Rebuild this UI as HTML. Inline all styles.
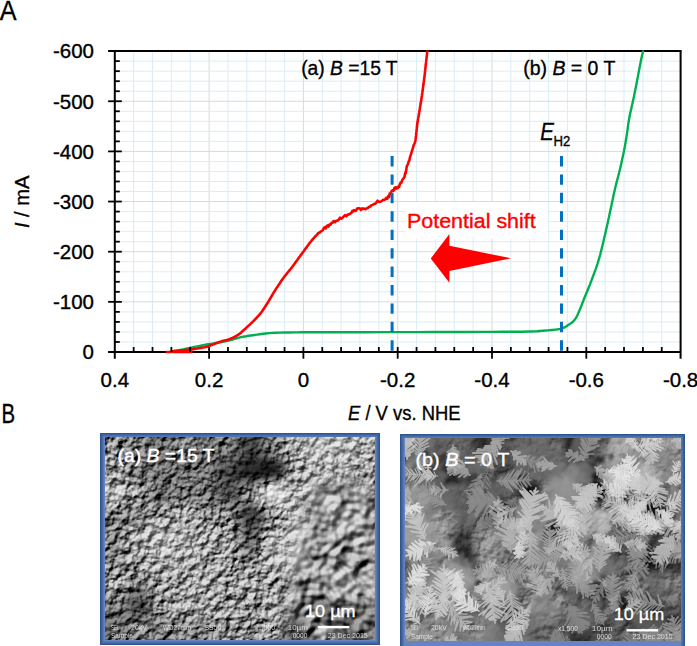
<!DOCTYPE html>
<html><head><meta charset="utf-8"><style>
html,body{margin:0;padding:0;background:#fff;}
body{width:697px;height:646px;position:relative;overflow:hidden;font-family:"Liberation Sans",sans-serif;}
svg text{font-family:"Liberation Sans",sans-serif;}
</style></head><body>
<svg width="697" height="646" viewBox="0 0 697 646" style="position:absolute;left:0;top:0">
<g><line x1="133.66" y1="51.10" x2="133.66" y2="352.00" stroke="#DAEDF6" stroke-width="1"/><line x1="152.52" y1="51.10" x2="152.52" y2="352.00" stroke="#DAEDF6" stroke-width="1"/><line x1="171.38" y1="51.10" x2="171.38" y2="352.00" stroke="#DAEDF6" stroke-width="1"/><line x1="190.24" y1="51.10" x2="190.24" y2="352.00" stroke="#DAEDF6" stroke-width="1"/><line x1="209.10" y1="51.10" x2="209.10" y2="352.00" stroke="#D9D9D9" stroke-width="1"/><line x1="227.96" y1="51.10" x2="227.96" y2="352.00" stroke="#DAEDF6" stroke-width="1"/><line x1="246.82" y1="51.10" x2="246.82" y2="352.00" stroke="#DAEDF6" stroke-width="1"/><line x1="265.68" y1="51.10" x2="265.68" y2="352.00" stroke="#DAEDF6" stroke-width="1"/><line x1="284.54" y1="51.10" x2="284.54" y2="352.00" stroke="#DAEDF6" stroke-width="1"/><line x1="303.40" y1="51.10" x2="303.40" y2="352.00" stroke="#D9D9D9" stroke-width="1"/><line x1="322.26" y1="51.10" x2="322.26" y2="352.00" stroke="#DAEDF6" stroke-width="1"/><line x1="341.12" y1="51.10" x2="341.12" y2="352.00" stroke="#DAEDF6" stroke-width="1"/><line x1="359.98" y1="51.10" x2="359.98" y2="352.00" stroke="#DAEDF6" stroke-width="1"/><line x1="378.84" y1="51.10" x2="378.84" y2="352.00" stroke="#DAEDF6" stroke-width="1"/><line x1="397.70" y1="51.10" x2="397.70" y2="352.00" stroke="#D9D9D9" stroke-width="1"/><line x1="416.56" y1="51.10" x2="416.56" y2="352.00" stroke="#DAEDF6" stroke-width="1"/><line x1="435.42" y1="51.10" x2="435.42" y2="352.00" stroke="#DAEDF6" stroke-width="1"/><line x1="454.28" y1="51.10" x2="454.28" y2="352.00" stroke="#DAEDF6" stroke-width="1"/><line x1="473.14" y1="51.10" x2="473.14" y2="352.00" stroke="#DAEDF6" stroke-width="1"/><line x1="492.00" y1="51.10" x2="492.00" y2="352.00" stroke="#D9D9D9" stroke-width="1"/><line x1="510.86" y1="51.10" x2="510.86" y2="352.00" stroke="#DAEDF6" stroke-width="1"/><line x1="529.72" y1="51.10" x2="529.72" y2="352.00" stroke="#DAEDF6" stroke-width="1"/><line x1="548.58" y1="51.10" x2="548.58" y2="352.00" stroke="#DAEDF6" stroke-width="1"/><line x1="567.44" y1="51.10" x2="567.44" y2="352.00" stroke="#DAEDF6" stroke-width="1"/><line x1="586.30" y1="51.10" x2="586.30" y2="352.00" stroke="#D9D9D9" stroke-width="1"/><line x1="605.16" y1="51.10" x2="605.16" y2="352.00" stroke="#DAEDF6" stroke-width="1"/><line x1="624.02" y1="51.10" x2="624.02" y2="352.00" stroke="#DAEDF6" stroke-width="1"/><line x1="642.88" y1="51.10" x2="642.88" y2="352.00" stroke="#DAEDF6" stroke-width="1"/><line x1="661.74" y1="51.10" x2="661.74" y2="352.00" stroke="#DAEDF6" stroke-width="1"/><line x1="114.80" y1="341.97" x2="680.60" y2="341.97" stroke="#DAEDF6" stroke-width="1"/><line x1="114.80" y1="331.94" x2="680.60" y2="331.94" stroke="#DAEDF6" stroke-width="1"/><line x1="114.80" y1="321.91" x2="680.60" y2="321.91" stroke="#DAEDF6" stroke-width="1"/><line x1="114.80" y1="311.88" x2="680.60" y2="311.88" stroke="#DAEDF6" stroke-width="1"/><line x1="114.80" y1="301.85" x2="680.60" y2="301.85" stroke="#D9D9D9" stroke-width="1"/><line x1="114.80" y1="291.82" x2="680.60" y2="291.82" stroke="#DAEDF6" stroke-width="1"/><line x1="114.80" y1="281.79" x2="680.60" y2="281.79" stroke="#DAEDF6" stroke-width="1"/><line x1="114.80" y1="271.76" x2="680.60" y2="271.76" stroke="#DAEDF6" stroke-width="1"/><line x1="114.80" y1="261.73" x2="680.60" y2="261.73" stroke="#DAEDF6" stroke-width="1"/><line x1="114.80" y1="251.70" x2="680.60" y2="251.70" stroke="#D9D9D9" stroke-width="1"/><line x1="114.80" y1="241.67" x2="680.60" y2="241.67" stroke="#DAEDF6" stroke-width="1"/><line x1="114.80" y1="231.64" x2="680.60" y2="231.64" stroke="#DAEDF6" stroke-width="1"/><line x1="114.80" y1="221.61" x2="680.60" y2="221.61" stroke="#DAEDF6" stroke-width="1"/><line x1="114.80" y1="211.58" x2="680.60" y2="211.58" stroke="#DAEDF6" stroke-width="1"/><line x1="114.80" y1="201.55" x2="680.60" y2="201.55" stroke="#D9D9D9" stroke-width="1"/><line x1="114.80" y1="191.52" x2="680.60" y2="191.52" stroke="#DAEDF6" stroke-width="1"/><line x1="114.80" y1="181.49" x2="680.60" y2="181.49" stroke="#DAEDF6" stroke-width="1"/><line x1="114.80" y1="171.46" x2="680.60" y2="171.46" stroke="#DAEDF6" stroke-width="1"/><line x1="114.80" y1="161.43" x2="680.60" y2="161.43" stroke="#DAEDF6" stroke-width="1"/><line x1="114.80" y1="151.40" x2="680.60" y2="151.40" stroke="#D9D9D9" stroke-width="1"/><line x1="114.80" y1="141.37" x2="680.60" y2="141.37" stroke="#DAEDF6" stroke-width="1"/><line x1="114.80" y1="131.34" x2="680.60" y2="131.34" stroke="#DAEDF6" stroke-width="1"/><line x1="114.80" y1="121.31" x2="680.60" y2="121.31" stroke="#DAEDF6" stroke-width="1"/><line x1="114.80" y1="111.28" x2="680.60" y2="111.28" stroke="#DAEDF6" stroke-width="1"/><line x1="114.80" y1="101.25" x2="680.60" y2="101.25" stroke="#D9D9D9" stroke-width="1"/><line x1="114.80" y1="91.22" x2="680.60" y2="91.22" stroke="#DAEDF6" stroke-width="1"/><line x1="114.80" y1="81.19" x2="680.60" y2="81.19" stroke="#DAEDF6" stroke-width="1"/><line x1="114.80" y1="71.16" x2="680.60" y2="71.16" stroke="#DAEDF6" stroke-width="1"/><line x1="114.80" y1="61.13" x2="680.60" y2="61.13" stroke="#DAEDF6" stroke-width="1"/></g>
<rect x="405.3" y="202" width="141.7" height="37" fill="#fff"/><text x="407" y="228.3" fill="#FF0000" font-size="20.5" stroke="#FF0000" stroke-width="0.35" textLength="128.7" lengthAdjust="spacingAndGlyphs">Potential shift</text><polygon points="430.8,258.4 449.4,233.9 449.4,245.8 511.1,258.3 449.4,270.9 449.4,282.7" fill="#FF0000"/>
<g><line x1="114.80" y1="51.10" x2="114.80" y2="358.70" stroke="#000" stroke-width="2.0"/><line x1="108.10" y1="352.00" x2="680.60" y2="352.00" stroke="#000" stroke-width="2.0"/><line x1="108.10" y1="51.10" x2="681.60" y2="51.10" stroke="#000" stroke-width="2.0"/><line x1="680.60" y1="51.10" x2="680.60" y2="358.70" stroke="#000" stroke-width="2.0"/></g>
<line x1="166.9" y1="352" x2="191.4" y2="352" stroke="#FF0000" stroke-width="2.6" stroke-linecap="round"/>
<defs><clipPath id="pc"><rect x="110" y="50.6" width="575" height="310"/></clipPath></defs>
<g clip-path="url(#pc)"><polyline points="171.5,351.3 172.6,351.1 174.2,350.9 176.0,350.7 178.0,350.4 180.0,350.0 181.9,349.6 183.9,349.2 186.0,348.7 188.4,348.2 191.0,347.6 194.0,347.0 197.3,346.4 200.8,345.7 204.4,345.0 208.2,344.3 212.3,343.6 216.7,342.8 221.1,342.0 225.3,341.2 228.9,340.5 231.7,339.8 234.0,339.2 236.0,338.5 238.0,337.9 240.0,337.4 242.2,336.9 244.3,336.5 246.5,336.2 248.6,335.8 250.8,335.5 253.0,335.2 255.2,334.9 257.3,334.6 259.5,334.3 261.7,334.0 263.7,333.7 265.5,333.5 267.4,333.3 269.6,333.1 272.5,332.9 276.1,332.8 280.2,332.6 284.7,332.5 289.4,332.5 294.2,332.4 298.2,332.4 301.6,332.3 305.6,332.3 311.3,332.3 320.0,332.3 332.5,332.3 348.1,332.2 365.4,332.2 383.1,332.1 400.0,332.1 416.5,332.1 433.4,332.0 450.2,332.0 465.9,332.0 480.0,331.9 492.3,331.9 503.3,331.8 513.2,331.8 522.0,331.7 530.0,331.5 537.0,331.2 542.9,330.8 547.9,330.4 552.0,330.0 555.5,329.6 558.0,329.3 559.4,329.1 560.3,328.9 560.9,328.7 561.9,328.3 563.2,327.8 564.4,327.3 565.6,326.8 566.9,326.0 568.3,325.1 569.8,324.1 571.3,323.0 572.9,321.7 574.4,320.1 576.0,317.9 577.5,315.0 579.0,311.6 580.6,307.8 582.1,303.8 583.6,300.0 585.1,296.3 586.7,292.6 588.2,288.8 589.8,284.9 591.3,280.9 592.8,276.8 594.4,272.6 596.0,268.3 597.5,263.8 598.9,259.2 600.3,254.3 601.6,249.0 602.9,243.7 604.1,238.5 605.3,233.6 606.3,229.1 607.3,224.8 608.2,220.6 609.1,216.4 610.0,212.0 611.0,207.4 612.0,202.8 613.0,198.0 614.0,193.3 615.1,188.6 616.2,183.9 617.4,179.3 618.6,174.7 619.8,170.0 620.9,165.4 621.9,160.8 622.9,156.1 623.9,151.5 624.8,146.8 625.6,142.2 626.4,137.4 627.1,132.6 627.8,127.8 628.4,123.2 629.1,119.0 629.8,115.3 630.5,112.0 631.2,108.9 631.9,105.8 632.6,102.7 633.3,99.5 634.0,96.3 634.6,93.1 635.3,89.8 636.0,86.4 636.7,82.8 637.4,79.1 638.1,75.4 638.8,71.6 639.5,67.9 640.3,64.0 641.1,59.8 642.0,55.8 642.7,52.4 643.2,50.0" fill="none" stroke="#00B050" stroke-width="2.4" stroke-linejoin="round" stroke-linecap="round"/><polyline points="172.0,351.2 173.6,351.1 174.7,351.0 175.8,350.9 177.1,350.7 178.4,350.6 179.7,350.5 181.0,350.4 182.3,350.3 183.6,350.2 184.9,350.0 186.3,349.9 187.6,349.8 189.0,349.7 190.2,349.5 191.4,349.4 193.5,349.1 195.4,348.8 197.2,348.5 199.0,348.2 200.9,347.9 202.9,347.5 204.8,347.2 206.5,346.8 207.9,346.4 209.0,346.1 210.1,345.6 211.6,345.1 213.5,344.4 214.5,343.9 215.6,343.5 216.7,343.1 217.8,342.6 218.9,342.2 220.0,341.8 221.1,341.5 222.3,341.1 223.4,340.8 224.6,340.5 225.7,340.2 226.9,339.9 228.9,339.3 230.6,338.7 232.2,338.0 233.6,337.3 235.0,336.6 236.2,336.0 237.2,335.4 238.4,334.7 240.0,333.4 241.2,332.4 242.4,331.3 243.4,330.4 244.4,329.5 245.4,328.7 246.4,327.7 247.3,326.8 248.3,325.9 249.2,325.1 250.0,324.4 250.8,323.6 251.7,322.8 252.6,321.9 253.9,320.6 255.1,319.3 256.4,318.0 257.7,316.6 259.0,315.2 260.3,313.6 261.0,312.7 261.7,311.8 262.5,310.7 263.2,309.6 264.1,308.4 264.9,307.1 265.7,305.8 266.5,304.5 267.4,303.2 268.2,301.9 269.0,300.6 269.8,299.3 270.5,298.0 271.3,296.6 272.1,295.3 272.9,293.9 273.5,292.9 274.1,292.0 274.7,291.0 275.4,289.9 276.0,288.9 276.7,287.8 277.5,286.7 278.2,285.6 278.9,284.5 279.7,283.4 280.4,282.3 281.2,281.1 281.9,280.1 282.7,279.0 283.4,278.0 284.1,277.1 284.8,276.1 285.6,275.2 286.3,274.3 287.0,273.4 287.7,272.5 288.4,271.7 289.1,270.8 289.8,269.9 290.6,269.0 291.3,268.1 292.0,267.2 292.7,266.2 293.4,265.3 294.2,264.3 294.9,263.3 295.6,262.3 296.3,261.3 297.1,260.3 297.8,259.3 298.5,258.3 299.2,257.3 300.0,256.3 300.7,255.3 301.4,254.3 302.2,253.2 302.9,252.2 303.7,251.2 304.4,250.1 305.2,249.1 305.9,248.1 306.7,247.1 307.4,246.1 308.1,245.2 308.7,244.3 309.4,243.4 310.3,242.3 311.2,241.2 311.9,240.2 312.7,239.3 313.5,238.4 314.2,237.6 315.7,236.0 317.1,234.6 318.4,232.9 319.8,232.5 320.6,231.4 321.5,231.2 322.7,230.3 323.9,228.0 324.8,227.2 325.7,228.4 326.6,226.3 327.5,225.5 328.5,226.6 329.4,224.6 330.4,224.7 331.5,223.0 332.8,222.6 333.6,221.0 334.2,221.9 335.0,222.1 336.1,220.7 337.4,220.6 338.7,219.8 340.0,217.7 341.3,218.7 342.6,217.7 343.8,216.4 345.1,215.1 346.4,216.3 347.7,214.6 349.0,214.4 350.1,214.0 351.0,212.9 351.7,212.7 352.3,210.9 353.1,211.3 354.0,210.1 355.0,211.1 356.0,210.7 357.1,208.6 358.3,208.4 359.6,208.3 360.9,209.9 362.1,208.4 363.2,209.0 364.2,208.5 365.2,209.2 366.2,208.8 367.2,208.1 368.1,207.8 369.1,206.7 370.2,206.6 371.4,205.2 372.6,205.0 373.9,204.1 375.2,203.8 376.4,202.4 377.6,200.7 378.9,201.9 380.2,201.7 381.7,201.1 383.4,199.7 385.0,199.6 386.2,197.9 387.0,199.0 387.5,198.1 387.9,197.1 388.3,196.1 388.8,197.2 389.3,196.6 389.7,193.5 390.3,194.3 391.0,192.5 391.7,190.9 392.5,190.4 393.2,190.8 393.8,190.5 394.3,188.1 394.8,189.2 395.3,187.4 395.9,188.7 396.6,187.4 397.2,188.3 397.9,188.1 398.6,186.3 399.2,186.7 399.9,184.2 400.6,182.6 401.4,182.6 402.3,179.9 403.2,178.8 403.9,177.9 404.5,177.0 404.9,174.5 405.3,172.8 405.7,173.4 406.0,170.6 406.2,170.7 406.4,169.1 406.7,166.6 407.0,165.8 407.4,165.1 407.7,164.6 408.1,163.4 408.5,162.1 408.9,160.9 409.4,160.2 409.9,157.6 410.5,155.6 411.1,153.8 411.7,151.9 412.2,150.2 412.6,148.9 412.9,147.8 413.2,146.8 413.6,145.6 414.0,144.5 414.5,143.5 415.0,142.1 415.5,140.0 415.7,138.4 415.9,136.7 416.1,135.4 416.2,134.0 416.3,132.7 416.5,131.2 416.6,129.8 416.8,128.4 416.9,127.1 417.1,125.8 417.2,124.5 417.4,122.9 417.7,121.3 417.9,119.8 418.2,118.3 418.4,116.9 418.7,115.4 418.9,114.0 419.2,112.5 419.4,111.0 419.7,109.5 419.9,108.1 420.2,106.6 420.4,105.1 420.7,103.6 420.9,102.0 421.2,100.4 421.4,99.3 421.5,98.2 421.7,97.1 421.9,95.9 422.0,94.8 422.2,93.6 422.4,92.4 422.5,91.2 422.7,90.0 422.9,88.8 423.0,87.5 423.2,86.3 423.4,85.0 423.5,83.8 423.7,82.5 423.9,81.2 424.0,79.9 424.2,78.6 424.4,77.3 424.5,75.9 424.7,74.6 424.9,73.1 425.0,71.7 425.2,70.2 425.3,68.9 425.5,67.6 425.6,66.3 425.8,65.0 425.9,63.8 426.0,62.6 426.2,61.4 426.3,60.3 426.4,59.1 426.6,57.8 426.7,56.4 426.9,55.1 427.0,53.7 427.1,52.5 427.3,51.2 427.4,50.0" fill="none" stroke="#FF0000" stroke-width="2.6" stroke-linejoin="round" stroke-linecap="round"/></g>
<line x1="392.1" y1="156" x2="392.1" y2="351" stroke="#0070C0" stroke-width="3" stroke-dasharray="10.4 8.03"/><line x1="561.5" y1="156" x2="561.5" y2="351" stroke="#0070C0" stroke-width="3" stroke-dasharray="10.4 8.03"/>
<g><line x1="133.66" y1="347.00" x2="133.66" y2="352.00" stroke="#000" stroke-width="1.8"/><line x1="152.52" y1="347.00" x2="152.52" y2="352.00" stroke="#000" stroke-width="1.8"/><line x1="171.38" y1="347.00" x2="171.38" y2="352.00" stroke="#000" stroke-width="1.8"/><line x1="190.24" y1="347.00" x2="190.24" y2="352.00" stroke="#000" stroke-width="1.8"/><line x1="209.10" y1="347.00" x2="209.10" y2="358.70" stroke="#000" stroke-width="1.8"/><line x1="227.96" y1="347.00" x2="227.96" y2="352.00" stroke="#000" stroke-width="1.8"/><line x1="246.82" y1="347.00" x2="246.82" y2="352.00" stroke="#000" stroke-width="1.8"/><line x1="265.68" y1="347.00" x2="265.68" y2="352.00" stroke="#000" stroke-width="1.8"/><line x1="284.54" y1="347.00" x2="284.54" y2="352.00" stroke="#000" stroke-width="1.8"/><line x1="303.40" y1="347.00" x2="303.40" y2="358.70" stroke="#000" stroke-width="1.8"/><line x1="322.26" y1="347.00" x2="322.26" y2="352.00" stroke="#000" stroke-width="1.8"/><line x1="341.12" y1="347.00" x2="341.12" y2="352.00" stroke="#000" stroke-width="1.8"/><line x1="359.98" y1="347.00" x2="359.98" y2="352.00" stroke="#000" stroke-width="1.8"/><line x1="378.84" y1="347.00" x2="378.84" y2="352.00" stroke="#000" stroke-width="1.8"/><line x1="397.70" y1="347.00" x2="397.70" y2="358.70" stroke="#000" stroke-width="1.8"/><line x1="416.56" y1="347.00" x2="416.56" y2="352.00" stroke="#000" stroke-width="1.8"/><line x1="435.42" y1="347.00" x2="435.42" y2="352.00" stroke="#000" stroke-width="1.8"/><line x1="454.28" y1="347.00" x2="454.28" y2="352.00" stroke="#000" stroke-width="1.8"/><line x1="473.14" y1="347.00" x2="473.14" y2="352.00" stroke="#000" stroke-width="1.8"/><line x1="492.00" y1="347.00" x2="492.00" y2="358.70" stroke="#000" stroke-width="1.8"/><line x1="510.86" y1="347.00" x2="510.86" y2="352.00" stroke="#000" stroke-width="1.8"/><line x1="529.72" y1="347.00" x2="529.72" y2="352.00" stroke="#000" stroke-width="1.8"/><line x1="548.58" y1="347.00" x2="548.58" y2="352.00" stroke="#000" stroke-width="1.8"/><line x1="567.44" y1="347.00" x2="567.44" y2="352.00" stroke="#000" stroke-width="1.8"/><line x1="586.30" y1="347.00" x2="586.30" y2="358.70" stroke="#000" stroke-width="1.8"/><line x1="605.16" y1="347.00" x2="605.16" y2="352.00" stroke="#000" stroke-width="1.8"/><line x1="624.02" y1="347.00" x2="624.02" y2="352.00" stroke="#000" stroke-width="1.8"/><line x1="642.88" y1="347.00" x2="642.88" y2="352.00" stroke="#000" stroke-width="1.8"/><line x1="661.74" y1="347.00" x2="661.74" y2="352.00" stroke="#000" stroke-width="1.8"/><line x1="114.80" y1="341.97" x2="119.80" y2="341.97" stroke="#000" stroke-width="1.8"/><line x1="114.80" y1="331.94" x2="119.80" y2="331.94" stroke="#000" stroke-width="1.8"/><line x1="114.80" y1="321.91" x2="119.80" y2="321.91" stroke="#000" stroke-width="1.8"/><line x1="114.80" y1="311.88" x2="119.80" y2="311.88" stroke="#000" stroke-width="1.8"/><line x1="108.10" y1="301.85" x2="121.80" y2="301.85" stroke="#000" stroke-width="1.8"/><line x1="114.80" y1="291.82" x2="119.80" y2="291.82" stroke="#000" stroke-width="1.8"/><line x1="114.80" y1="281.79" x2="119.80" y2="281.79" stroke="#000" stroke-width="1.8"/><line x1="114.80" y1="271.76" x2="119.80" y2="271.76" stroke="#000" stroke-width="1.8"/><line x1="114.80" y1="261.73" x2="119.80" y2="261.73" stroke="#000" stroke-width="1.8"/><line x1="108.10" y1="251.70" x2="121.80" y2="251.70" stroke="#000" stroke-width="1.8"/><line x1="114.80" y1="241.67" x2="119.80" y2="241.67" stroke="#000" stroke-width="1.8"/><line x1="114.80" y1="231.64" x2="119.80" y2="231.64" stroke="#000" stroke-width="1.8"/><line x1="114.80" y1="221.61" x2="119.80" y2="221.61" stroke="#000" stroke-width="1.8"/><line x1="114.80" y1="211.58" x2="119.80" y2="211.58" stroke="#000" stroke-width="1.8"/><line x1="108.10" y1="201.55" x2="121.80" y2="201.55" stroke="#000" stroke-width="1.8"/><line x1="114.80" y1="191.52" x2="119.80" y2="191.52" stroke="#000" stroke-width="1.8"/><line x1="114.80" y1="181.49" x2="119.80" y2="181.49" stroke="#000" stroke-width="1.8"/><line x1="114.80" y1="171.46" x2="119.80" y2="171.46" stroke="#000" stroke-width="1.8"/><line x1="114.80" y1="161.43" x2="119.80" y2="161.43" stroke="#000" stroke-width="1.8"/><line x1="108.10" y1="151.40" x2="121.80" y2="151.40" stroke="#000" stroke-width="1.8"/><line x1="114.80" y1="141.37" x2="119.80" y2="141.37" stroke="#000" stroke-width="1.8"/><line x1="114.80" y1="131.34" x2="119.80" y2="131.34" stroke="#000" stroke-width="1.8"/><line x1="114.80" y1="121.31" x2="119.80" y2="121.31" stroke="#000" stroke-width="1.8"/><line x1="114.80" y1="111.28" x2="119.80" y2="111.28" stroke="#000" stroke-width="1.8"/><line x1="108.10" y1="101.25" x2="121.80" y2="101.25" stroke="#000" stroke-width="1.8"/><line x1="114.80" y1="91.22" x2="119.80" y2="91.22" stroke="#000" stroke-width="1.8"/><line x1="114.80" y1="81.19" x2="119.80" y2="81.19" stroke="#000" stroke-width="1.8"/><line x1="114.80" y1="71.16" x2="119.80" y2="71.16" stroke="#000" stroke-width="1.8"/><line x1="114.80" y1="61.13" x2="119.80" y2="61.13" stroke="#000" stroke-width="1.8"/></g>
<g font-size="20.5" fill="#000" stroke="#000" stroke-width="0.35"><text x="94" y="58.40" text-anchor="end">-600</text><text x="94" y="108.55" text-anchor="end">-500</text><text x="94" y="158.70" text-anchor="end">-400</text><text x="94" y="208.85" text-anchor="end">-300</text><text x="94" y="259.00" text-anchor="end">-200</text><text x="94" y="309.15" text-anchor="end">-100</text><text x="94" y="359.30" text-anchor="end">0</text><text x="114.80" y="387.3" text-anchor="middle">0.4</text><text x="209.10" y="387.3" text-anchor="middle">0.2</text><text x="303.40" y="387.3" text-anchor="middle">0</text><text x="397.70" y="387.3" text-anchor="middle">-0.2</text><text x="492.00" y="387.3" text-anchor="middle">-0.4</text><text x="586.30" y="387.3" text-anchor="middle">-0.6</text><text x="680.60" y="387.3" text-anchor="middle">-0.8</text><text x="301.2" y="75.4" textLength="96.4" lengthAdjust="spacingAndGlyphs">(a) <tspan font-style="italic">B</tspan> =15 T</text><text x="523.3" y="75.4" textLength="92.1" lengthAdjust="spacingAndGlyphs">(b) <tspan font-style="italic">B</tspan> = 0 T</text><text x="540.2" y="140.4" font-style="italic" font-size="23" textLength="13.6" lengthAdjust="spacingAndGlyphs">E</text><text x="553.6" y="146.4" font-size="15" textLength="16.8" lengthAdjust="spacingAndGlyphs">H2</text><text x="348" y="419.8" textLength="112.5" lengthAdjust="spacingAndGlyphs"><tspan font-style="italic">E</tspan> / V vs. NHE</text><text transform="translate(29.4,228.1) rotate(-90)" textLength="52.6" lengthAdjust="spacingAndGlyphs"><tspan font-style="italic">I</tspan> / mA</text><text x="-0.3" y="19.7" font-size="27.5" textLength="16.8" lengthAdjust="spacingAndGlyphs">A</text><text x="1.4" y="422.6" font-size="28.5" textLength="13.6" lengthAdjust="spacingAndGlyphs">B</text></g>
</svg>
<div style="position:absolute;left:99.7px;top:432.9px;width:280px;height:211.8px;background:#6484C2;box-shadow:inset 0 0 0 1.3px #2F5590,inset 0 0 0 2.6px #42659E,inset 0 0 0 3.9px #5576B2;"></div>
<svg style="position:absolute;left:105px;top:437.4px" width="270.2" height="202.3" viewBox="0 0 270.2 202.3">
<defs><filter id="txa" x="0" y="0" width="100%" height="100%" color-interpolation-filters="sRGB"><feGaussianBlur in="SourceGraphic" stdDeviation="6" result="b"/><feTurbulence type="fractalNoise" baseFrequency="0.13" numOctaves="3" seed="1" result="t"/><feDiffuseLighting in="t" surfaceScale="4" diffuseConstant="1.1" lighting-color="#fff" result="l"><feDistantLight azimuth="235" elevation="40"/></feDiffuseLighting><feComponentTransfer in="l" result="g"><feFuncR type="linear" slope="0.9" intercept="-0.040"/><feFuncG type="linear" slope="0.9" intercept="-0.040"/><feFuncB type="linear" slope="0.9" intercept="-0.040"/><feFuncA type="linear" slope="0" intercept="1"/></feComponentTransfer><feBlend in="g" in2="b" mode="overlay"/></filter><filter id="txa2" x="0" y="0" width="100%" height="100%" color-interpolation-filters="sRGB"><feGaussianBlur in="SourceGraphic" stdDeviation="6" result="b"/><feTurbulence type="fractalNoise" baseFrequency="0.075" numOctaves="2" seed="3" result="t"/><feDiffuseLighting in="t" surfaceScale="7" diffuseConstant="1.1" lighting-color="#fff" result="l"><feDistantLight azimuth="235" elevation="40"/></feDiffuseLighting><feComponentTransfer in="l" result="g"><feFuncR type="linear" slope="0.85" intercept="-0.010"/><feFuncG type="linear" slope="0.85" intercept="-0.010"/><feFuncB type="linear" slope="0.85" intercept="-0.010"/><feFuncA type="linear" slope="0" intercept="1"/></feComponentTransfer><feBlend in="g" in2="b" mode="overlay"/></filter><filter id="mbl" x="-20%" y="-20%" width="140%" height="140%"><feGaussianBlur stdDeviation="8"/></filter><mask id="mR" maskUnits="userSpaceOnUse" x="0" y="0" width="280" height="210"><path d="M205,50 C230,40 262,45 275,60 L275,210 L190,210 C180,170 185,120 200,90 Z" fill="#fff" filter="url(#mbl)"/></mask></defs>
<g filter="url(#txa)"><rect x="-45.03" y="-44.96" width="23.12" height="23.08" fill="rgb(118,118,118)"/><rect x="-22.52" y="-44.96" width="23.12" height="23.08" fill="rgb(118,118,118)"/><rect x="0.00" y="-44.96" width="23.12" height="23.08" fill="rgb(118,118,118)"/><rect x="22.52" y="-44.96" width="23.12" height="23.08" fill="rgb(104,104,104)"/><rect x="45.03" y="-44.96" width="23.12" height="23.08" fill="rgb(88,88,88)"/><rect x="67.55" y="-44.96" width="23.12" height="23.08" fill="rgb(106,106,106)"/><rect x="90.07" y="-44.96" width="23.12" height="23.08" fill="rgb(93,93,93)"/><rect x="112.58" y="-44.96" width="23.12" height="23.08" fill="rgb(95,95,95)"/><rect x="135.10" y="-44.96" width="23.12" height="23.08" fill="rgb(52,52,52)"/><rect x="157.62" y="-44.96" width="23.12" height="23.08" fill="rgb(103,103,103)"/><rect x="180.13" y="-44.96" width="23.12" height="23.08" fill="rgb(152,152,152)"/><rect x="202.65" y="-44.96" width="23.12" height="23.08" fill="rgb(176,176,176)"/><rect x="225.17" y="-44.96" width="23.12" height="23.08" fill="rgb(173,173,173)"/><rect x="247.68" y="-44.96" width="23.12" height="23.08" fill="rgb(155,155,155)"/><rect x="270.20" y="-44.96" width="23.12" height="23.08" fill="rgb(155,155,155)"/><rect x="292.72" y="-44.96" width="23.12" height="23.08" fill="rgb(155,155,155)"/><rect x="-45.03" y="-22.48" width="23.12" height="23.08" fill="rgb(118,118,118)"/><rect x="-22.52" y="-22.48" width="23.12" height="23.08" fill="rgb(118,118,118)"/><rect x="0.00" y="-22.48" width="23.12" height="23.08" fill="rgb(118,118,118)"/><rect x="22.52" y="-22.48" width="23.12" height="23.08" fill="rgb(104,104,104)"/><rect x="45.03" y="-22.48" width="23.12" height="23.08" fill="rgb(88,88,88)"/><rect x="67.55" y="-22.48" width="23.12" height="23.08" fill="rgb(106,106,106)"/><rect x="90.07" y="-22.48" width="23.12" height="23.08" fill="rgb(93,93,93)"/><rect x="112.58" y="-22.48" width="23.12" height="23.08" fill="rgb(95,95,95)"/><rect x="135.10" y="-22.48" width="23.12" height="23.08" fill="rgb(52,52,52)"/><rect x="157.62" y="-22.48" width="23.12" height="23.08" fill="rgb(103,103,103)"/><rect x="180.13" y="-22.48" width="23.12" height="23.08" fill="rgb(152,152,152)"/><rect x="202.65" y="-22.48" width="23.12" height="23.08" fill="rgb(176,176,176)"/><rect x="225.17" y="-22.48" width="23.12" height="23.08" fill="rgb(173,173,173)"/><rect x="247.68" y="-22.48" width="23.12" height="23.08" fill="rgb(155,155,155)"/><rect x="270.20" y="-22.48" width="23.12" height="23.08" fill="rgb(155,155,155)"/><rect x="292.72" y="-22.48" width="23.12" height="23.08" fill="rgb(155,155,155)"/><rect x="-45.03" y="0.00" width="23.12" height="23.08" fill="rgb(118,118,118)"/><rect x="-22.52" y="0.00" width="23.12" height="23.08" fill="rgb(118,118,118)"/><rect x="0.00" y="0.00" width="23.12" height="23.08" fill="rgb(118,118,118)"/><rect x="22.52" y="0.00" width="23.12" height="23.08" fill="rgb(104,104,104)"/><rect x="45.03" y="0.00" width="23.12" height="23.08" fill="rgb(88,88,88)"/><rect x="67.55" y="0.00" width="23.12" height="23.08" fill="rgb(106,106,106)"/><rect x="90.07" y="0.00" width="23.12" height="23.08" fill="rgb(93,93,93)"/><rect x="112.58" y="0.00" width="23.12" height="23.08" fill="rgb(95,95,95)"/><rect x="135.10" y="0.00" width="23.12" height="23.08" fill="rgb(52,52,52)"/><rect x="157.62" y="0.00" width="23.12" height="23.08" fill="rgb(103,103,103)"/><rect x="180.13" y="0.00" width="23.12" height="23.08" fill="rgb(152,152,152)"/><rect x="202.65" y="0.00" width="23.12" height="23.08" fill="rgb(176,176,176)"/><rect x="225.17" y="0.00" width="23.12" height="23.08" fill="rgb(173,173,173)"/><rect x="247.68" y="0.00" width="23.12" height="23.08" fill="rgb(155,155,155)"/><rect x="270.20" y="0.00" width="23.12" height="23.08" fill="rgb(155,155,155)"/><rect x="292.72" y="0.00" width="23.12" height="23.08" fill="rgb(155,155,155)"/><rect x="-45.03" y="22.48" width="23.12" height="23.08" fill="rgb(132,132,132)"/><rect x="-22.52" y="22.48" width="23.12" height="23.08" fill="rgb(132,132,132)"/><rect x="0.00" y="22.48" width="23.12" height="23.08" fill="rgb(132,132,132)"/><rect x="22.52" y="22.48" width="23.12" height="23.08" fill="rgb(97,97,97)"/><rect x="45.03" y="22.48" width="23.12" height="23.08" fill="rgb(96,96,96)"/><rect x="67.55" y="22.48" width="23.12" height="23.08" fill="rgb(92,92,92)"/><rect x="90.07" y="22.48" width="23.12" height="23.08" fill="rgb(92,92,92)"/><rect x="112.58" y="22.48" width="23.12" height="23.08" fill="rgb(56,56,56)"/><rect x="135.10" y="22.48" width="23.12" height="23.08" fill="rgb(26,26,26)"/><rect x="157.62" y="22.48" width="23.12" height="23.08" fill="rgb(16,16,16)"/><rect x="180.13" y="22.48" width="23.12" height="23.08" fill="rgb(139,139,139)"/><rect x="202.65" y="22.48" width="23.12" height="23.08" fill="rgb(162,162,162)"/><rect x="225.17" y="22.48" width="23.12" height="23.08" fill="rgb(161,161,161)"/><rect x="247.68" y="22.48" width="23.12" height="23.08" fill="rgb(147,147,147)"/><rect x="270.20" y="22.48" width="23.12" height="23.08" fill="rgb(147,147,147)"/><rect x="292.72" y="22.48" width="23.12" height="23.08" fill="rgb(147,147,147)"/><rect x="-45.03" y="44.96" width="23.12" height="23.08" fill="rgb(169,169,169)"/><rect x="-22.52" y="44.96" width="23.12" height="23.08" fill="rgb(169,169,169)"/><rect x="0.00" y="44.96" width="23.12" height="23.08" fill="rgb(169,169,169)"/><rect x="22.52" y="44.96" width="23.12" height="23.08" fill="rgb(124,124,124)"/><rect x="45.03" y="44.96" width="23.12" height="23.08" fill="rgb(87,87,87)"/><rect x="67.55" y="44.96" width="23.12" height="23.08" fill="rgb(99,99,99)"/><rect x="90.07" y="44.96" width="23.12" height="23.08" fill="rgb(97,97,97)"/><rect x="112.58" y="44.96" width="23.12" height="23.08" fill="rgb(59,59,59)"/><rect x="135.10" y="44.96" width="23.12" height="23.08" fill="rgb(120,120,120)"/><rect x="157.62" y="44.96" width="23.12" height="23.08" fill="rgb(229,229,229)"/><rect x="180.13" y="44.96" width="23.12" height="23.08" fill="rgb(154,154,154)"/><rect x="202.65" y="44.96" width="23.12" height="23.08" fill="rgb(171,171,171)"/><rect x="225.17" y="44.96" width="23.12" height="23.08" fill="rgb(123,123,123)"/><rect x="247.68" y="44.96" width="23.12" height="23.08" fill="rgb(130,130,130)"/><rect x="270.20" y="44.96" width="23.12" height="23.08" fill="rgb(130,130,130)"/><rect x="292.72" y="44.96" width="23.12" height="23.08" fill="rgb(130,130,130)"/><rect x="-45.03" y="67.43" width="23.12" height="23.08" fill="rgb(107,107,107)"/><rect x="-22.52" y="67.43" width="23.12" height="23.08" fill="rgb(107,107,107)"/><rect x="0.00" y="67.43" width="23.12" height="23.08" fill="rgb(107,107,107)"/><rect x="22.52" y="67.43" width="23.12" height="23.08" fill="rgb(107,107,107)"/><rect x="45.03" y="67.43" width="23.12" height="23.08" fill="rgb(128,128,128)"/><rect x="67.55" y="67.43" width="23.12" height="23.08" fill="rgb(147,147,147)"/><rect x="90.07" y="67.43" width="23.12" height="23.08" fill="rgb(117,117,117)"/><rect x="112.58" y="67.43" width="23.12" height="23.08" fill="rgb(117,117,117)"/><rect x="135.10" y="67.43" width="23.12" height="23.08" fill="rgb(43,43,43)"/><rect x="157.62" y="67.43" width="23.12" height="23.08" fill="rgb(117,117,117)"/><rect x="180.13" y="67.43" width="23.12" height="23.08" fill="rgb(170,170,170)"/><rect x="202.65" y="67.43" width="23.12" height="23.08" fill="rgb(104,104,104)"/><rect x="225.17" y="67.43" width="23.12" height="23.08" fill="rgb(167,167,167)"/><rect x="247.68" y="67.43" width="23.12" height="23.08" fill="rgb(139,139,139)"/><rect x="270.20" y="67.43" width="23.12" height="23.08" fill="rgb(139,139,139)"/><rect x="292.72" y="67.43" width="23.12" height="23.08" fill="rgb(139,139,139)"/><rect x="-45.03" y="89.91" width="23.12" height="23.08" fill="rgb(107,107,107)"/><rect x="-22.52" y="89.91" width="23.12" height="23.08" fill="rgb(107,107,107)"/><rect x="0.00" y="89.91" width="23.12" height="23.08" fill="rgb(107,107,107)"/><rect x="22.52" y="89.91" width="23.12" height="23.08" fill="rgb(150,150,150)"/><rect x="45.03" y="89.91" width="23.12" height="23.08" fill="rgb(174,174,174)"/><rect x="67.55" y="89.91" width="23.12" height="23.08" fill="rgb(156,156,156)"/><rect x="90.07" y="89.91" width="23.12" height="23.08" fill="rgb(150,150,150)"/><rect x="112.58" y="89.91" width="23.12" height="23.08" fill="rgb(126,126,126)"/><rect x="135.10" y="89.91" width="23.12" height="23.08" fill="rgb(74,74,74)"/><rect x="157.62" y="89.91" width="23.12" height="23.08" fill="rgb(162,162,162)"/><rect x="180.13" y="89.91" width="23.12" height="23.08" fill="rgb(183,183,183)"/><rect x="202.65" y="89.91" width="23.12" height="23.08" fill="rgb(163,163,163)"/><rect x="225.17" y="89.91" width="23.12" height="23.08" fill="rgb(134,134,134)"/><rect x="247.68" y="89.91" width="23.12" height="23.08" fill="rgb(157,157,157)"/><rect x="270.20" y="89.91" width="23.12" height="23.08" fill="rgb(157,157,157)"/><rect x="292.72" y="89.91" width="23.12" height="23.08" fill="rgb(157,157,157)"/><rect x="-45.03" y="112.39" width="23.12" height="23.08" fill="rgb(112,112,112)"/><rect x="-22.52" y="112.39" width="23.12" height="23.08" fill="rgb(112,112,112)"/><rect x="0.00" y="112.39" width="23.12" height="23.08" fill="rgb(112,112,112)"/><rect x="22.52" y="112.39" width="23.12" height="23.08" fill="rgb(139,139,139)"/><rect x="45.03" y="112.39" width="23.12" height="23.08" fill="rgb(157,157,157)"/><rect x="67.55" y="112.39" width="23.12" height="23.08" fill="rgb(155,155,155)"/><rect x="90.07" y="112.39" width="23.12" height="23.08" fill="rgb(141,141,141)"/><rect x="112.58" y="112.39" width="23.12" height="23.08" fill="rgb(130,130,130)"/><rect x="135.10" y="112.39" width="23.12" height="23.08" fill="rgb(111,111,111)"/><rect x="157.62" y="112.39" width="23.12" height="23.08" fill="rgb(168,168,168)"/><rect x="180.13" y="112.39" width="23.12" height="23.08" fill="rgb(178,178,178)"/><rect x="202.65" y="112.39" width="23.12" height="23.08" fill="rgb(114,114,114)"/><rect x="225.17" y="112.39" width="23.12" height="23.08" fill="rgb(121,121,121)"/><rect x="247.68" y="112.39" width="23.12" height="23.08" fill="rgb(118,118,118)"/><rect x="270.20" y="112.39" width="23.12" height="23.08" fill="rgb(118,118,118)"/><rect x="292.72" y="112.39" width="23.12" height="23.08" fill="rgb(118,118,118)"/><rect x="-45.03" y="134.87" width="23.12" height="23.08" fill="rgb(131,131,131)"/><rect x="-22.52" y="134.87" width="23.12" height="23.08" fill="rgb(131,131,131)"/><rect x="0.00" y="134.87" width="23.12" height="23.08" fill="rgb(131,131,131)"/><rect x="22.52" y="134.87" width="23.12" height="23.08" fill="rgb(104,104,104)"/><rect x="45.03" y="134.87" width="23.12" height="23.08" fill="rgb(135,135,135)"/><rect x="67.55" y="134.87" width="23.12" height="23.08" fill="rgb(141,141,141)"/><rect x="90.07" y="134.87" width="23.12" height="23.08" fill="rgb(150,150,150)"/><rect x="112.58" y="134.87" width="23.12" height="23.08" fill="rgb(132,132,132)"/><rect x="135.10" y="134.87" width="23.12" height="23.08" fill="rgb(145,145,145)"/><rect x="157.62" y="134.87" width="23.12" height="23.08" fill="rgb(130,130,130)"/><rect x="180.13" y="134.87" width="23.12" height="23.08" fill="rgb(118,118,118)"/><rect x="202.65" y="134.87" width="23.12" height="23.08" fill="rgb(154,154,154)"/><rect x="225.17" y="134.87" width="23.12" height="23.08" fill="rgb(171,171,171)"/><rect x="247.68" y="134.87" width="23.12" height="23.08" fill="rgb(166,166,166)"/><rect x="270.20" y="134.87" width="23.12" height="23.08" fill="rgb(166,166,166)"/><rect x="292.72" y="134.87" width="23.12" height="23.08" fill="rgb(166,166,166)"/><rect x="-45.03" y="157.34" width="23.12" height="23.08" fill="rgb(99,99,99)"/><rect x="-22.52" y="157.34" width="23.12" height="23.08" fill="rgb(99,99,99)"/><rect x="0.00" y="157.34" width="23.12" height="23.08" fill="rgb(99,99,99)"/><rect x="22.52" y="157.34" width="23.12" height="23.08" fill="rgb(56,56,56)"/><rect x="45.03" y="157.34" width="23.12" height="23.08" fill="rgb(122,122,122)"/><rect x="67.55" y="157.34" width="23.12" height="23.08" fill="rgb(150,150,150)"/><rect x="90.07" y="157.34" width="23.12" height="23.08" fill="rgb(138,138,138)"/><rect x="112.58" y="157.34" width="23.12" height="23.08" fill="rgb(134,134,134)"/><rect x="135.10" y="157.34" width="23.12" height="23.08" fill="rgb(122,122,122)"/><rect x="157.62" y="157.34" width="23.12" height="23.08" fill="rgb(149,149,149)"/><rect x="180.13" y="157.34" width="23.12" height="23.08" fill="rgb(147,147,147)"/><rect x="202.65" y="157.34" width="23.12" height="23.08" fill="rgb(79,79,79)"/><rect x="225.17" y="157.34" width="23.12" height="23.08" fill="rgb(106,106,106)"/><rect x="247.68" y="157.34" width="23.12" height="23.08" fill="rgb(104,104,104)"/><rect x="270.20" y="157.34" width="23.12" height="23.08" fill="rgb(104,104,104)"/><rect x="292.72" y="157.34" width="23.12" height="23.08" fill="rgb(104,104,104)"/><rect x="-45.03" y="179.82" width="23.12" height="23.08" fill="rgb(79,79,79)"/><rect x="-22.52" y="179.82" width="23.12" height="23.08" fill="rgb(79,79,79)"/><rect x="0.00" y="179.82" width="23.12" height="23.08" fill="rgb(79,79,79)"/><rect x="22.52" y="179.82" width="23.12" height="23.08" fill="rgb(104,104,104)"/><rect x="45.03" y="179.82" width="23.12" height="23.08" fill="rgb(100,100,100)"/><rect x="67.55" y="179.82" width="23.12" height="23.08" fill="rgb(106,106,106)"/><rect x="90.07" y="179.82" width="23.12" height="23.08" fill="rgb(106,106,106)"/><rect x="112.58" y="179.82" width="23.12" height="23.08" fill="rgb(123,123,123)"/><rect x="135.10" y="179.82" width="23.12" height="23.08" fill="rgb(120,120,120)"/><rect x="157.62" y="179.82" width="23.12" height="23.08" fill="rgb(129,129,129)"/><rect x="180.13" y="179.82" width="23.12" height="23.08" fill="rgb(60,60,60)"/><rect x="202.65" y="179.82" width="23.12" height="23.08" fill="rgb(137,137,137)"/><rect x="225.17" y="179.82" width="23.12" height="23.08" fill="rgb(77,77,77)"/><rect x="247.68" y="179.82" width="23.12" height="23.08" fill="rgb(104,104,104)"/><rect x="270.20" y="179.82" width="23.12" height="23.08" fill="rgb(104,104,104)"/><rect x="292.72" y="179.82" width="23.12" height="23.08" fill="rgb(104,104,104)"/><rect x="-45.03" y="202.30" width="23.12" height="23.08" fill="rgb(79,79,79)"/><rect x="-22.52" y="202.30" width="23.12" height="23.08" fill="rgb(79,79,79)"/><rect x="0.00" y="202.30" width="23.12" height="23.08" fill="rgb(79,79,79)"/><rect x="22.52" y="202.30" width="23.12" height="23.08" fill="rgb(104,104,104)"/><rect x="45.03" y="202.30" width="23.12" height="23.08" fill="rgb(100,100,100)"/><rect x="67.55" y="202.30" width="23.12" height="23.08" fill="rgb(106,106,106)"/><rect x="90.07" y="202.30" width="23.12" height="23.08" fill="rgb(106,106,106)"/><rect x="112.58" y="202.30" width="23.12" height="23.08" fill="rgb(123,123,123)"/><rect x="135.10" y="202.30" width="23.12" height="23.08" fill="rgb(120,120,120)"/><rect x="157.62" y="202.30" width="23.12" height="23.08" fill="rgb(129,129,129)"/><rect x="180.13" y="202.30" width="23.12" height="23.08" fill="rgb(60,60,60)"/><rect x="202.65" y="202.30" width="23.12" height="23.08" fill="rgb(137,137,137)"/><rect x="225.17" y="202.30" width="23.12" height="23.08" fill="rgb(77,77,77)"/><rect x="247.68" y="202.30" width="23.12" height="23.08" fill="rgb(104,104,104)"/><rect x="270.20" y="202.30" width="23.12" height="23.08" fill="rgb(104,104,104)"/><rect x="292.72" y="202.30" width="23.12" height="23.08" fill="rgb(104,104,104)"/><rect x="-45.03" y="224.78" width="23.12" height="23.08" fill="rgb(79,79,79)"/><rect x="-22.52" y="224.78" width="23.12" height="23.08" fill="rgb(79,79,79)"/><rect x="0.00" y="224.78" width="23.12" height="23.08" fill="rgb(79,79,79)"/><rect x="22.52" y="224.78" width="23.12" height="23.08" fill="rgb(104,104,104)"/><rect x="45.03" y="224.78" width="23.12" height="23.08" fill="rgb(100,100,100)"/><rect x="67.55" y="224.78" width="23.12" height="23.08" fill="rgb(106,106,106)"/><rect x="90.07" y="224.78" width="23.12" height="23.08" fill="rgb(106,106,106)"/><rect x="112.58" y="224.78" width="23.12" height="23.08" fill="rgb(123,123,123)"/><rect x="135.10" y="224.78" width="23.12" height="23.08" fill="rgb(120,120,120)"/><rect x="157.62" y="224.78" width="23.12" height="23.08" fill="rgb(129,129,129)"/><rect x="180.13" y="224.78" width="23.12" height="23.08" fill="rgb(60,60,60)"/><rect x="202.65" y="224.78" width="23.12" height="23.08" fill="rgb(137,137,137)"/><rect x="225.17" y="224.78" width="23.12" height="23.08" fill="rgb(77,77,77)"/><rect x="247.68" y="224.78" width="23.12" height="23.08" fill="rgb(104,104,104)"/><rect x="270.20" y="224.78" width="23.12" height="23.08" fill="rgb(104,104,104)"/><rect x="292.72" y="224.78" width="23.12" height="23.08" fill="rgb(104,104,104)"/></g><g mask="url(#mR)"><g filter="url(#txa2)"><rect x="-45.03" y="-44.96" width="23.12" height="23.08" fill="rgb(118,118,118)"/><rect x="-22.52" y="-44.96" width="23.12" height="23.08" fill="rgb(118,118,118)"/><rect x="0.00" y="-44.96" width="23.12" height="23.08" fill="rgb(118,118,118)"/><rect x="22.52" y="-44.96" width="23.12" height="23.08" fill="rgb(104,104,104)"/><rect x="45.03" y="-44.96" width="23.12" height="23.08" fill="rgb(88,88,88)"/><rect x="67.55" y="-44.96" width="23.12" height="23.08" fill="rgb(106,106,106)"/><rect x="90.07" y="-44.96" width="23.12" height="23.08" fill="rgb(93,93,93)"/><rect x="112.58" y="-44.96" width="23.12" height="23.08" fill="rgb(95,95,95)"/><rect x="135.10" y="-44.96" width="23.12" height="23.08" fill="rgb(52,52,52)"/><rect x="157.62" y="-44.96" width="23.12" height="23.08" fill="rgb(103,103,103)"/><rect x="180.13" y="-44.96" width="23.12" height="23.08" fill="rgb(152,152,152)"/><rect x="202.65" y="-44.96" width="23.12" height="23.08" fill="rgb(176,176,176)"/><rect x="225.17" y="-44.96" width="23.12" height="23.08" fill="rgb(173,173,173)"/><rect x="247.68" y="-44.96" width="23.12" height="23.08" fill="rgb(155,155,155)"/><rect x="270.20" y="-44.96" width="23.12" height="23.08" fill="rgb(155,155,155)"/><rect x="292.72" y="-44.96" width="23.12" height="23.08" fill="rgb(155,155,155)"/><rect x="-45.03" y="-22.48" width="23.12" height="23.08" fill="rgb(118,118,118)"/><rect x="-22.52" y="-22.48" width="23.12" height="23.08" fill="rgb(118,118,118)"/><rect x="0.00" y="-22.48" width="23.12" height="23.08" fill="rgb(118,118,118)"/><rect x="22.52" y="-22.48" width="23.12" height="23.08" fill="rgb(104,104,104)"/><rect x="45.03" y="-22.48" width="23.12" height="23.08" fill="rgb(88,88,88)"/><rect x="67.55" y="-22.48" width="23.12" height="23.08" fill="rgb(106,106,106)"/><rect x="90.07" y="-22.48" width="23.12" height="23.08" fill="rgb(93,93,93)"/><rect x="112.58" y="-22.48" width="23.12" height="23.08" fill="rgb(95,95,95)"/><rect x="135.10" y="-22.48" width="23.12" height="23.08" fill="rgb(52,52,52)"/><rect x="157.62" y="-22.48" width="23.12" height="23.08" fill="rgb(103,103,103)"/><rect x="180.13" y="-22.48" width="23.12" height="23.08" fill="rgb(152,152,152)"/><rect x="202.65" y="-22.48" width="23.12" height="23.08" fill="rgb(176,176,176)"/><rect x="225.17" y="-22.48" width="23.12" height="23.08" fill="rgb(173,173,173)"/><rect x="247.68" y="-22.48" width="23.12" height="23.08" fill="rgb(155,155,155)"/><rect x="270.20" y="-22.48" width="23.12" height="23.08" fill="rgb(155,155,155)"/><rect x="292.72" y="-22.48" width="23.12" height="23.08" fill="rgb(155,155,155)"/><rect x="-45.03" y="0.00" width="23.12" height="23.08" fill="rgb(118,118,118)"/><rect x="-22.52" y="0.00" width="23.12" height="23.08" fill="rgb(118,118,118)"/><rect x="0.00" y="0.00" width="23.12" height="23.08" fill="rgb(118,118,118)"/><rect x="22.52" y="0.00" width="23.12" height="23.08" fill="rgb(104,104,104)"/><rect x="45.03" y="0.00" width="23.12" height="23.08" fill="rgb(88,88,88)"/><rect x="67.55" y="0.00" width="23.12" height="23.08" fill="rgb(106,106,106)"/><rect x="90.07" y="0.00" width="23.12" height="23.08" fill="rgb(93,93,93)"/><rect x="112.58" y="0.00" width="23.12" height="23.08" fill="rgb(95,95,95)"/><rect x="135.10" y="0.00" width="23.12" height="23.08" fill="rgb(52,52,52)"/><rect x="157.62" y="0.00" width="23.12" height="23.08" fill="rgb(103,103,103)"/><rect x="180.13" y="0.00" width="23.12" height="23.08" fill="rgb(152,152,152)"/><rect x="202.65" y="0.00" width="23.12" height="23.08" fill="rgb(176,176,176)"/><rect x="225.17" y="0.00" width="23.12" height="23.08" fill="rgb(173,173,173)"/><rect x="247.68" y="0.00" width="23.12" height="23.08" fill="rgb(155,155,155)"/><rect x="270.20" y="0.00" width="23.12" height="23.08" fill="rgb(155,155,155)"/><rect x="292.72" y="0.00" width="23.12" height="23.08" fill="rgb(155,155,155)"/><rect x="-45.03" y="22.48" width="23.12" height="23.08" fill="rgb(132,132,132)"/><rect x="-22.52" y="22.48" width="23.12" height="23.08" fill="rgb(132,132,132)"/><rect x="0.00" y="22.48" width="23.12" height="23.08" fill="rgb(132,132,132)"/><rect x="22.52" y="22.48" width="23.12" height="23.08" fill="rgb(97,97,97)"/><rect x="45.03" y="22.48" width="23.12" height="23.08" fill="rgb(96,96,96)"/><rect x="67.55" y="22.48" width="23.12" height="23.08" fill="rgb(92,92,92)"/><rect x="90.07" y="22.48" width="23.12" height="23.08" fill="rgb(92,92,92)"/><rect x="112.58" y="22.48" width="23.12" height="23.08" fill="rgb(56,56,56)"/><rect x="135.10" y="22.48" width="23.12" height="23.08" fill="rgb(26,26,26)"/><rect x="157.62" y="22.48" width="23.12" height="23.08" fill="rgb(16,16,16)"/><rect x="180.13" y="22.48" width="23.12" height="23.08" fill="rgb(139,139,139)"/><rect x="202.65" y="22.48" width="23.12" height="23.08" fill="rgb(162,162,162)"/><rect x="225.17" y="22.48" width="23.12" height="23.08" fill="rgb(161,161,161)"/><rect x="247.68" y="22.48" width="23.12" height="23.08" fill="rgb(147,147,147)"/><rect x="270.20" y="22.48" width="23.12" height="23.08" fill="rgb(147,147,147)"/><rect x="292.72" y="22.48" width="23.12" height="23.08" fill="rgb(147,147,147)"/><rect x="-45.03" y="44.96" width="23.12" height="23.08" fill="rgb(169,169,169)"/><rect x="-22.52" y="44.96" width="23.12" height="23.08" fill="rgb(169,169,169)"/><rect x="0.00" y="44.96" width="23.12" height="23.08" fill="rgb(169,169,169)"/><rect x="22.52" y="44.96" width="23.12" height="23.08" fill="rgb(124,124,124)"/><rect x="45.03" y="44.96" width="23.12" height="23.08" fill="rgb(87,87,87)"/><rect x="67.55" y="44.96" width="23.12" height="23.08" fill="rgb(99,99,99)"/><rect x="90.07" y="44.96" width="23.12" height="23.08" fill="rgb(97,97,97)"/><rect x="112.58" y="44.96" width="23.12" height="23.08" fill="rgb(59,59,59)"/><rect x="135.10" y="44.96" width="23.12" height="23.08" fill="rgb(120,120,120)"/><rect x="157.62" y="44.96" width="23.12" height="23.08" fill="rgb(229,229,229)"/><rect x="180.13" y="44.96" width="23.12" height="23.08" fill="rgb(154,154,154)"/><rect x="202.65" y="44.96" width="23.12" height="23.08" fill="rgb(171,171,171)"/><rect x="225.17" y="44.96" width="23.12" height="23.08" fill="rgb(123,123,123)"/><rect x="247.68" y="44.96" width="23.12" height="23.08" fill="rgb(130,130,130)"/><rect x="270.20" y="44.96" width="23.12" height="23.08" fill="rgb(130,130,130)"/><rect x="292.72" y="44.96" width="23.12" height="23.08" fill="rgb(130,130,130)"/><rect x="-45.03" y="67.43" width="23.12" height="23.08" fill="rgb(107,107,107)"/><rect x="-22.52" y="67.43" width="23.12" height="23.08" fill="rgb(107,107,107)"/><rect x="0.00" y="67.43" width="23.12" height="23.08" fill="rgb(107,107,107)"/><rect x="22.52" y="67.43" width="23.12" height="23.08" fill="rgb(107,107,107)"/><rect x="45.03" y="67.43" width="23.12" height="23.08" fill="rgb(128,128,128)"/><rect x="67.55" y="67.43" width="23.12" height="23.08" fill="rgb(147,147,147)"/><rect x="90.07" y="67.43" width="23.12" height="23.08" fill="rgb(117,117,117)"/><rect x="112.58" y="67.43" width="23.12" height="23.08" fill="rgb(117,117,117)"/><rect x="135.10" y="67.43" width="23.12" height="23.08" fill="rgb(43,43,43)"/><rect x="157.62" y="67.43" width="23.12" height="23.08" fill="rgb(117,117,117)"/><rect x="180.13" y="67.43" width="23.12" height="23.08" fill="rgb(170,170,170)"/><rect x="202.65" y="67.43" width="23.12" height="23.08" fill="rgb(104,104,104)"/><rect x="225.17" y="67.43" width="23.12" height="23.08" fill="rgb(167,167,167)"/><rect x="247.68" y="67.43" width="23.12" height="23.08" fill="rgb(139,139,139)"/><rect x="270.20" y="67.43" width="23.12" height="23.08" fill="rgb(139,139,139)"/><rect x="292.72" y="67.43" width="23.12" height="23.08" fill="rgb(139,139,139)"/><rect x="-45.03" y="89.91" width="23.12" height="23.08" fill="rgb(107,107,107)"/><rect x="-22.52" y="89.91" width="23.12" height="23.08" fill="rgb(107,107,107)"/><rect x="0.00" y="89.91" width="23.12" height="23.08" fill="rgb(107,107,107)"/><rect x="22.52" y="89.91" width="23.12" height="23.08" fill="rgb(150,150,150)"/><rect x="45.03" y="89.91" width="23.12" height="23.08" fill="rgb(174,174,174)"/><rect x="67.55" y="89.91" width="23.12" height="23.08" fill="rgb(156,156,156)"/><rect x="90.07" y="89.91" width="23.12" height="23.08" fill="rgb(150,150,150)"/><rect x="112.58" y="89.91" width="23.12" height="23.08" fill="rgb(126,126,126)"/><rect x="135.10" y="89.91" width="23.12" height="23.08" fill="rgb(74,74,74)"/><rect x="157.62" y="89.91" width="23.12" height="23.08" fill="rgb(162,162,162)"/><rect x="180.13" y="89.91" width="23.12" height="23.08" fill="rgb(183,183,183)"/><rect x="202.65" y="89.91" width="23.12" height="23.08" fill="rgb(163,163,163)"/><rect x="225.17" y="89.91" width="23.12" height="23.08" fill="rgb(134,134,134)"/><rect x="247.68" y="89.91" width="23.12" height="23.08" fill="rgb(157,157,157)"/><rect x="270.20" y="89.91" width="23.12" height="23.08" fill="rgb(157,157,157)"/><rect x="292.72" y="89.91" width="23.12" height="23.08" fill="rgb(157,157,157)"/><rect x="-45.03" y="112.39" width="23.12" height="23.08" fill="rgb(112,112,112)"/><rect x="-22.52" y="112.39" width="23.12" height="23.08" fill="rgb(112,112,112)"/><rect x="0.00" y="112.39" width="23.12" height="23.08" fill="rgb(112,112,112)"/><rect x="22.52" y="112.39" width="23.12" height="23.08" fill="rgb(139,139,139)"/><rect x="45.03" y="112.39" width="23.12" height="23.08" fill="rgb(157,157,157)"/><rect x="67.55" y="112.39" width="23.12" height="23.08" fill="rgb(155,155,155)"/><rect x="90.07" y="112.39" width="23.12" height="23.08" fill="rgb(141,141,141)"/><rect x="112.58" y="112.39" width="23.12" height="23.08" fill="rgb(130,130,130)"/><rect x="135.10" y="112.39" width="23.12" height="23.08" fill="rgb(111,111,111)"/><rect x="157.62" y="112.39" width="23.12" height="23.08" fill="rgb(168,168,168)"/><rect x="180.13" y="112.39" width="23.12" height="23.08" fill="rgb(178,178,178)"/><rect x="202.65" y="112.39" width="23.12" height="23.08" fill="rgb(114,114,114)"/><rect x="225.17" y="112.39" width="23.12" height="23.08" fill="rgb(121,121,121)"/><rect x="247.68" y="112.39" width="23.12" height="23.08" fill="rgb(118,118,118)"/><rect x="270.20" y="112.39" width="23.12" height="23.08" fill="rgb(118,118,118)"/><rect x="292.72" y="112.39" width="23.12" height="23.08" fill="rgb(118,118,118)"/><rect x="-45.03" y="134.87" width="23.12" height="23.08" fill="rgb(131,131,131)"/><rect x="-22.52" y="134.87" width="23.12" height="23.08" fill="rgb(131,131,131)"/><rect x="0.00" y="134.87" width="23.12" height="23.08" fill="rgb(131,131,131)"/><rect x="22.52" y="134.87" width="23.12" height="23.08" fill="rgb(104,104,104)"/><rect x="45.03" y="134.87" width="23.12" height="23.08" fill="rgb(135,135,135)"/><rect x="67.55" y="134.87" width="23.12" height="23.08" fill="rgb(141,141,141)"/><rect x="90.07" y="134.87" width="23.12" height="23.08" fill="rgb(150,150,150)"/><rect x="112.58" y="134.87" width="23.12" height="23.08" fill="rgb(132,132,132)"/><rect x="135.10" y="134.87" width="23.12" height="23.08" fill="rgb(145,145,145)"/><rect x="157.62" y="134.87" width="23.12" height="23.08" fill="rgb(130,130,130)"/><rect x="180.13" y="134.87" width="23.12" height="23.08" fill="rgb(118,118,118)"/><rect x="202.65" y="134.87" width="23.12" height="23.08" fill="rgb(154,154,154)"/><rect x="225.17" y="134.87" width="23.12" height="23.08" fill="rgb(171,171,171)"/><rect x="247.68" y="134.87" width="23.12" height="23.08" fill="rgb(166,166,166)"/><rect x="270.20" y="134.87" width="23.12" height="23.08" fill="rgb(166,166,166)"/><rect x="292.72" y="134.87" width="23.12" height="23.08" fill="rgb(166,166,166)"/><rect x="-45.03" y="157.34" width="23.12" height="23.08" fill="rgb(99,99,99)"/><rect x="-22.52" y="157.34" width="23.12" height="23.08" fill="rgb(99,99,99)"/><rect x="0.00" y="157.34" width="23.12" height="23.08" fill="rgb(99,99,99)"/><rect x="22.52" y="157.34" width="23.12" height="23.08" fill="rgb(56,56,56)"/><rect x="45.03" y="157.34" width="23.12" height="23.08" fill="rgb(122,122,122)"/><rect x="67.55" y="157.34" width="23.12" height="23.08" fill="rgb(150,150,150)"/><rect x="90.07" y="157.34" width="23.12" height="23.08" fill="rgb(138,138,138)"/><rect x="112.58" y="157.34" width="23.12" height="23.08" fill="rgb(134,134,134)"/><rect x="135.10" y="157.34" width="23.12" height="23.08" fill="rgb(122,122,122)"/><rect x="157.62" y="157.34" width="23.12" height="23.08" fill="rgb(149,149,149)"/><rect x="180.13" y="157.34" width="23.12" height="23.08" fill="rgb(147,147,147)"/><rect x="202.65" y="157.34" width="23.12" height="23.08" fill="rgb(79,79,79)"/><rect x="225.17" y="157.34" width="23.12" height="23.08" fill="rgb(106,106,106)"/><rect x="247.68" y="157.34" width="23.12" height="23.08" fill="rgb(104,104,104)"/><rect x="270.20" y="157.34" width="23.12" height="23.08" fill="rgb(104,104,104)"/><rect x="292.72" y="157.34" width="23.12" height="23.08" fill="rgb(104,104,104)"/><rect x="-45.03" y="179.82" width="23.12" height="23.08" fill="rgb(79,79,79)"/><rect x="-22.52" y="179.82" width="23.12" height="23.08" fill="rgb(79,79,79)"/><rect x="0.00" y="179.82" width="23.12" height="23.08" fill="rgb(79,79,79)"/><rect x="22.52" y="179.82" width="23.12" height="23.08" fill="rgb(104,104,104)"/><rect x="45.03" y="179.82" width="23.12" height="23.08" fill="rgb(100,100,100)"/><rect x="67.55" y="179.82" width="23.12" height="23.08" fill="rgb(106,106,106)"/><rect x="90.07" y="179.82" width="23.12" height="23.08" fill="rgb(106,106,106)"/><rect x="112.58" y="179.82" width="23.12" height="23.08" fill="rgb(123,123,123)"/><rect x="135.10" y="179.82" width="23.12" height="23.08" fill="rgb(120,120,120)"/><rect x="157.62" y="179.82" width="23.12" height="23.08" fill="rgb(129,129,129)"/><rect x="180.13" y="179.82" width="23.12" height="23.08" fill="rgb(60,60,60)"/><rect x="202.65" y="179.82" width="23.12" height="23.08" fill="rgb(137,137,137)"/><rect x="225.17" y="179.82" width="23.12" height="23.08" fill="rgb(77,77,77)"/><rect x="247.68" y="179.82" width="23.12" height="23.08" fill="rgb(104,104,104)"/><rect x="270.20" y="179.82" width="23.12" height="23.08" fill="rgb(104,104,104)"/><rect x="292.72" y="179.82" width="23.12" height="23.08" fill="rgb(104,104,104)"/><rect x="-45.03" y="202.30" width="23.12" height="23.08" fill="rgb(79,79,79)"/><rect x="-22.52" y="202.30" width="23.12" height="23.08" fill="rgb(79,79,79)"/><rect x="0.00" y="202.30" width="23.12" height="23.08" fill="rgb(79,79,79)"/><rect x="22.52" y="202.30" width="23.12" height="23.08" fill="rgb(104,104,104)"/><rect x="45.03" y="202.30" width="23.12" height="23.08" fill="rgb(100,100,100)"/><rect x="67.55" y="202.30" width="23.12" height="23.08" fill="rgb(106,106,106)"/><rect x="90.07" y="202.30" width="23.12" height="23.08" fill="rgb(106,106,106)"/><rect x="112.58" y="202.30" width="23.12" height="23.08" fill="rgb(123,123,123)"/><rect x="135.10" y="202.30" width="23.12" height="23.08" fill="rgb(120,120,120)"/><rect x="157.62" y="202.30" width="23.12" height="23.08" fill="rgb(129,129,129)"/><rect x="180.13" y="202.30" width="23.12" height="23.08" fill="rgb(60,60,60)"/><rect x="202.65" y="202.30" width="23.12" height="23.08" fill="rgb(137,137,137)"/><rect x="225.17" y="202.30" width="23.12" height="23.08" fill="rgb(77,77,77)"/><rect x="247.68" y="202.30" width="23.12" height="23.08" fill="rgb(104,104,104)"/><rect x="270.20" y="202.30" width="23.12" height="23.08" fill="rgb(104,104,104)"/><rect x="292.72" y="202.30" width="23.12" height="23.08" fill="rgb(104,104,104)"/><rect x="-45.03" y="224.78" width="23.12" height="23.08" fill="rgb(79,79,79)"/><rect x="-22.52" y="224.78" width="23.12" height="23.08" fill="rgb(79,79,79)"/><rect x="0.00" y="224.78" width="23.12" height="23.08" fill="rgb(79,79,79)"/><rect x="22.52" y="224.78" width="23.12" height="23.08" fill="rgb(104,104,104)"/><rect x="45.03" y="224.78" width="23.12" height="23.08" fill="rgb(100,100,100)"/><rect x="67.55" y="224.78" width="23.12" height="23.08" fill="rgb(106,106,106)"/><rect x="90.07" y="224.78" width="23.12" height="23.08" fill="rgb(106,106,106)"/><rect x="112.58" y="224.78" width="23.12" height="23.08" fill="rgb(123,123,123)"/><rect x="135.10" y="224.78" width="23.12" height="23.08" fill="rgb(120,120,120)"/><rect x="157.62" y="224.78" width="23.12" height="23.08" fill="rgb(129,129,129)"/><rect x="180.13" y="224.78" width="23.12" height="23.08" fill="rgb(60,60,60)"/><rect x="202.65" y="224.78" width="23.12" height="23.08" fill="rgb(137,137,137)"/><rect x="225.17" y="224.78" width="23.12" height="23.08" fill="rgb(77,77,77)"/><rect x="247.68" y="224.78" width="23.12" height="23.08" fill="rgb(104,104,104)"/><rect x="270.20" y="224.78" width="23.12" height="23.08" fill="rgb(104,104,104)"/><rect x="292.72" y="224.78" width="23.12" height="23.08" fill="rgb(104,104,104)"/></g></g>
<text x="12.6" y="25.5" fill="#fff" stroke="#fff" stroke-width="0.35" font-size="18.5" textLength="96.9" lengthAdjust="spacingAndGlyphs" style="font-family:'Liberation Sans',sans-serif">(a) <tspan font-style="italic">B</tspan> =15 T</text>
<g fill="#E6E6E6" font-size="7.2" opacity="0.9" style="font-family:'Liberation Sans',sans-serif"><text x="6.0" y="192.6" textLength="7" lengthAdjust="spacingAndGlyphs">SEI</text><text x="26.0" y="192.6" textLength="16" lengthAdjust="spacingAndGlyphs">20kV</text><text x="58.0" y="192.6" textLength="28" lengthAdjust="spacingAndGlyphs">WD27mm</text><text x="99.4" y="192.6" textLength="17" lengthAdjust="spacingAndGlyphs">SS50</text><text x="149.6" y="192.6" textLength="20.5" lengthAdjust="spacingAndGlyphs">x1,500</text><text x="182.8" y="192.6" textLength="20" lengthAdjust="spacingAndGlyphs">10µm</text><text x="6.0" y="201.1" textLength="22" lengthAdjust="spacingAndGlyphs">Sample</text><text x="187.7" y="201.1" textLength="14.6" lengthAdjust="spacingAndGlyphs">0000</text><text x="222.8" y="201.1" textLength="40" lengthAdjust="spacingAndGlyphs">23 Dec 2015</text></g>
<text x="200.1" y="180.0" fill="#fff" stroke="#fff" stroke-width="0.3" font-size="16.5" textLength="50.5" lengthAdjust="spacingAndGlyphs" style="font-family:'Liberation Sans',sans-serif">10 µm</text>
<rect x="212.9" y="188.9" width="31.5" height="2.4" fill="#fff"/>
</svg><div style="position:absolute;left:400.1px;top:433.8px;width:285.1px;height:216px;background:#6484C2;box-shadow:inset 0 0 0 1.3px #2F5590,inset 0 0 0 2.6px #42659E,inset 0 0 0 3.9px #5576B2;"></div>
<svg style="position:absolute;left:405.1px;top:438.2px" width="276.2" height="202.9" viewBox="0 0 276.2 202.9">
<defs><filter id="txb" x="0" y="0" width="100%" height="100%" color-interpolation-filters="sRGB"><feGaussianBlur in="SourceGraphic" stdDeviation="6" result="b"/><feTurbulence type="fractalNoise" baseFrequency="0.1" numOctaves="3" seed="5" result="t"/><feDiffuseLighting in="t" surfaceScale="4" diffuseConstant="1.1" lighting-color="#fff" result="l"><feDistantLight azimuth="235" elevation="40"/></feDiffuseLighting><feComponentTransfer in="l" result="g"><feFuncR type="linear" slope="0.4" intercept="0.260"/><feFuncG type="linear" slope="0.4" intercept="0.260"/><feFuncB type="linear" slope="0.4" intercept="0.260"/><feFuncA type="linear" slope="0" intercept="1"/></feComponentTransfer><feBlend in="g" in2="b" mode="overlay"/></filter><filter id="fb1" x="-10%" y="-10%" width="120%" height="120%"><feGaussianBlur stdDeviation="1.7"/></filter><filter id="fb2" x="-10%" y="-10%" width="120%" height="120%"><feGaussianBlur stdDeviation="0.45"/></filter></defs>
<g filter="url(#txb)"><rect x="-46.03" y="-45.09" width="23.62" height="23.14" fill="rgb(0,0,0)"/><rect x="-23.02" y="-45.09" width="23.62" height="23.14" fill="rgb(0,0,0)"/><rect x="0.00" y="-45.09" width="23.62" height="23.14" fill="rgb(0,0,0)"/><rect x="23.02" y="-45.09" width="23.62" height="23.14" fill="rgb(77,77,77)"/><rect x="46.03" y="-45.09" width="23.62" height="23.14" fill="rgb(90,90,90)"/><rect x="69.05" y="-45.09" width="23.62" height="23.14" fill="rgb(29,29,29)"/><rect x="92.07" y="-45.09" width="23.62" height="23.14" fill="rgb(56,56,56)"/><rect x="115.08" y="-45.09" width="23.62" height="23.14" fill="rgb(85,85,85)"/><rect x="138.10" y="-45.09" width="23.62" height="23.14" fill="rgb(91,91,91)"/><rect x="161.12" y="-45.09" width="23.62" height="23.14" fill="rgb(16,16,16)"/><rect x="184.13" y="-45.09" width="23.62" height="23.14" fill="rgb(82,82,82)"/><rect x="207.15" y="-45.09" width="23.62" height="23.14" fill="rgb(157,157,157)"/><rect x="230.17" y="-45.09" width="23.62" height="23.14" fill="rgb(62,62,62)"/><rect x="253.18" y="-45.09" width="23.62" height="23.14" fill="rgb(133,133,133)"/><rect x="276.20" y="-45.09" width="23.62" height="23.14" fill="rgb(133,133,133)"/><rect x="299.22" y="-45.09" width="23.62" height="23.14" fill="rgb(133,133,133)"/><rect x="-46.03" y="-22.54" width="23.62" height="23.14" fill="rgb(0,0,0)"/><rect x="-23.02" y="-22.54" width="23.62" height="23.14" fill="rgb(0,0,0)"/><rect x="0.00" y="-22.54" width="23.62" height="23.14" fill="rgb(0,0,0)"/><rect x="23.02" y="-22.54" width="23.62" height="23.14" fill="rgb(77,77,77)"/><rect x="46.03" y="-22.54" width="23.62" height="23.14" fill="rgb(90,90,90)"/><rect x="69.05" y="-22.54" width="23.62" height="23.14" fill="rgb(29,29,29)"/><rect x="92.07" y="-22.54" width="23.62" height="23.14" fill="rgb(56,56,56)"/><rect x="115.08" y="-22.54" width="23.62" height="23.14" fill="rgb(85,85,85)"/><rect x="138.10" y="-22.54" width="23.62" height="23.14" fill="rgb(91,91,91)"/><rect x="161.12" y="-22.54" width="23.62" height="23.14" fill="rgb(16,16,16)"/><rect x="184.13" y="-22.54" width="23.62" height="23.14" fill="rgb(82,82,82)"/><rect x="207.15" y="-22.54" width="23.62" height="23.14" fill="rgb(157,157,157)"/><rect x="230.17" y="-22.54" width="23.62" height="23.14" fill="rgb(62,62,62)"/><rect x="253.18" y="-22.54" width="23.62" height="23.14" fill="rgb(133,133,133)"/><rect x="276.20" y="-22.54" width="23.62" height="23.14" fill="rgb(133,133,133)"/><rect x="299.22" y="-22.54" width="23.62" height="23.14" fill="rgb(133,133,133)"/><rect x="-46.03" y="0.00" width="23.62" height="23.14" fill="rgb(0,0,0)"/><rect x="-23.02" y="0.00" width="23.62" height="23.14" fill="rgb(0,0,0)"/><rect x="0.00" y="0.00" width="23.62" height="23.14" fill="rgb(0,0,0)"/><rect x="23.02" y="0.00" width="23.62" height="23.14" fill="rgb(77,77,77)"/><rect x="46.03" y="0.00" width="23.62" height="23.14" fill="rgb(90,90,90)"/><rect x="69.05" y="0.00" width="23.62" height="23.14" fill="rgb(29,29,29)"/><rect x="92.07" y="0.00" width="23.62" height="23.14" fill="rgb(56,56,56)"/><rect x="115.08" y="0.00" width="23.62" height="23.14" fill="rgb(85,85,85)"/><rect x="138.10" y="0.00" width="23.62" height="23.14" fill="rgb(91,91,91)"/><rect x="161.12" y="0.00" width="23.62" height="23.14" fill="rgb(16,16,16)"/><rect x="184.13" y="0.00" width="23.62" height="23.14" fill="rgb(82,82,82)"/><rect x="207.15" y="0.00" width="23.62" height="23.14" fill="rgb(157,157,157)"/><rect x="230.17" y="0.00" width="23.62" height="23.14" fill="rgb(62,62,62)"/><rect x="253.18" y="0.00" width="23.62" height="23.14" fill="rgb(133,133,133)"/><rect x="276.20" y="0.00" width="23.62" height="23.14" fill="rgb(133,133,133)"/><rect x="299.22" y="0.00" width="23.62" height="23.14" fill="rgb(133,133,133)"/><rect x="-46.03" y="22.54" width="23.62" height="23.14" fill="rgb(40,40,40)"/><rect x="-23.02" y="22.54" width="23.62" height="23.14" fill="rgb(40,40,40)"/><rect x="0.00" y="22.54" width="23.62" height="23.14" fill="rgb(40,40,40)"/><rect x="23.02" y="22.54" width="23.62" height="23.14" fill="rgb(0,0,0)"/><rect x="46.03" y="22.54" width="23.62" height="23.14" fill="rgb(0,0,0)"/><rect x="69.05" y="22.54" width="23.62" height="23.14" fill="rgb(79,79,79)"/><rect x="92.07" y="22.54" width="23.62" height="23.14" fill="rgb(75,75,75)"/><rect x="115.08" y="22.54" width="23.62" height="23.14" fill="rgb(93,93,93)"/><rect x="138.10" y="22.54" width="23.62" height="23.14" fill="rgb(85,85,85)"/><rect x="161.12" y="22.54" width="23.62" height="23.14" fill="rgb(32,32,32)"/><rect x="184.13" y="22.54" width="23.62" height="23.14" fill="rgb(22,22,22)"/><rect x="207.15" y="22.54" width="23.62" height="23.14" fill="rgb(0,0,0)"/><rect x="230.17" y="22.54" width="23.62" height="23.14" fill="rgb(169,169,169)"/><rect x="253.18" y="22.54" width="23.62" height="23.14" fill="rgb(96,96,96)"/><rect x="276.20" y="22.54" width="23.62" height="23.14" fill="rgb(96,96,96)"/><rect x="299.22" y="22.54" width="23.62" height="23.14" fill="rgb(96,96,96)"/><rect x="-46.03" y="45.09" width="23.62" height="23.14" fill="rgb(149,149,149)"/><rect x="-23.02" y="45.09" width="23.62" height="23.14" fill="rgb(149,149,149)"/><rect x="0.00" y="45.09" width="23.62" height="23.14" fill="rgb(149,149,149)"/><rect x="23.02" y="45.09" width="23.62" height="23.14" fill="rgb(81,81,81)"/><rect x="46.03" y="45.09" width="23.62" height="23.14" fill="rgb(105,105,105)"/><rect x="69.05" y="45.09" width="23.62" height="23.14" fill="rgb(0,0,0)"/><rect x="92.07" y="45.09" width="23.62" height="23.14" fill="rgb(79,79,79)"/><rect x="115.08" y="45.09" width="23.62" height="23.14" fill="rgb(0,0,0)"/><rect x="138.10" y="45.09" width="23.62" height="23.14" fill="rgb(213,213,213)"/><rect x="161.12" y="45.09" width="23.62" height="23.14" fill="rgb(4,4,4)"/><rect x="184.13" y="45.09" width="23.62" height="23.14" fill="rgb(0,0,0)"/><rect x="207.15" y="45.09" width="23.62" height="23.14" fill="rgb(22,22,22)"/><rect x="230.17" y="45.09" width="23.62" height="23.14" fill="rgb(24,24,24)"/><rect x="253.18" y="45.09" width="23.62" height="23.14" fill="rgb(78,78,78)"/><rect x="276.20" y="45.09" width="23.62" height="23.14" fill="rgb(78,78,78)"/><rect x="299.22" y="45.09" width="23.62" height="23.14" fill="rgb(78,78,78)"/><rect x="-46.03" y="67.63" width="23.62" height="23.14" fill="rgb(56,56,56)"/><rect x="-23.02" y="67.63" width="23.62" height="23.14" fill="rgb(56,56,56)"/><rect x="0.00" y="67.63" width="23.62" height="23.14" fill="rgb(56,56,56)"/><rect x="23.02" y="67.63" width="23.62" height="23.14" fill="rgb(147,147,147)"/><rect x="46.03" y="67.63" width="23.62" height="23.14" fill="rgb(97,97,97)"/><rect x="69.05" y="67.63" width="23.62" height="23.14" fill="rgb(58,58,58)"/><rect x="92.07" y="67.63" width="23.62" height="23.14" fill="rgb(15,15,15)"/><rect x="115.08" y="67.63" width="23.62" height="23.14" fill="rgb(31,31,31)"/><rect x="138.10" y="67.63" width="23.62" height="23.14" fill="rgb(0,0,0)"/><rect x="161.12" y="67.63" width="23.62" height="23.14" fill="rgb(0,0,0)"/><rect x="184.13" y="67.63" width="23.62" height="23.14" fill="rgb(198,198,198)"/><rect x="207.15" y="67.63" width="23.62" height="23.14" fill="rgb(57,57,57)"/><rect x="230.17" y="67.63" width="23.62" height="23.14" fill="rgb(10,10,10)"/><rect x="253.18" y="67.63" width="23.62" height="23.14" fill="rgb(21,21,21)"/><rect x="276.20" y="67.63" width="23.62" height="23.14" fill="rgb(21,21,21)"/><rect x="299.22" y="67.63" width="23.62" height="23.14" fill="rgb(21,21,21)"/><rect x="-46.03" y="90.18" width="23.62" height="23.14" fill="rgb(63,63,63)"/><rect x="-23.02" y="90.18" width="23.62" height="23.14" fill="rgb(63,63,63)"/><rect x="0.00" y="90.18" width="23.62" height="23.14" fill="rgb(63,63,63)"/><rect x="23.02" y="90.18" width="23.62" height="23.14" fill="rgb(149,149,149)"/><rect x="46.03" y="90.18" width="23.62" height="23.14" fill="rgb(55,55,55)"/><rect x="69.05" y="90.18" width="23.62" height="23.14" fill="rgb(140,140,140)"/><rect x="92.07" y="90.18" width="23.62" height="23.14" fill="rgb(94,94,94)"/><rect x="115.08" y="90.18" width="23.62" height="23.14" fill="rgb(92,92,92)"/><rect x="138.10" y="90.18" width="23.62" height="23.14" fill="rgb(45,45,45)"/><rect x="161.12" y="90.18" width="23.62" height="23.14" fill="rgb(64,64,64)"/><rect x="184.13" y="90.18" width="23.62" height="23.14" fill="rgb(140,140,140)"/><rect x="207.15" y="90.18" width="23.62" height="23.14" fill="rgb(62,62,62)"/><rect x="230.17" y="90.18" width="23.62" height="23.14" fill="rgb(80,80,80)"/><rect x="253.18" y="90.18" width="23.62" height="23.14" fill="rgb(8,8,8)"/><rect x="276.20" y="90.18" width="23.62" height="23.14" fill="rgb(8,8,8)"/><rect x="299.22" y="90.18" width="23.62" height="23.14" fill="rgb(8,8,8)"/><rect x="-46.03" y="112.72" width="23.62" height="23.14" fill="rgb(0,0,0)"/><rect x="-23.02" y="112.72" width="23.62" height="23.14" fill="rgb(0,0,0)"/><rect x="0.00" y="112.72" width="23.62" height="23.14" fill="rgb(0,0,0)"/><rect x="23.02" y="112.72" width="23.62" height="23.14" fill="rgb(123,123,123)"/><rect x="46.03" y="112.72" width="23.62" height="23.14" fill="rgb(0,0,0)"/><rect x="69.05" y="112.72" width="23.62" height="23.14" fill="rgb(137,137,137)"/><rect x="92.07" y="112.72" width="23.62" height="23.14" fill="rgb(100,100,100)"/><rect x="115.08" y="112.72" width="23.62" height="23.14" fill="rgb(72,72,72)"/><rect x="138.10" y="112.72" width="23.62" height="23.14" fill="rgb(6,6,6)"/><rect x="161.12" y="112.72" width="23.62" height="23.14" fill="rgb(88,88,88)"/><rect x="184.13" y="112.72" width="23.62" height="23.14" fill="rgb(24,24,24)"/><rect x="207.15" y="112.72" width="23.62" height="23.14" fill="rgb(84,84,84)"/><rect x="230.17" y="112.72" width="23.62" height="23.14" fill="rgb(9,9,9)"/><rect x="253.18" y="112.72" width="23.62" height="23.14" fill="rgb(37,37,37)"/><rect x="276.20" y="112.72" width="23.62" height="23.14" fill="rgb(37,37,37)"/><rect x="299.22" y="112.72" width="23.62" height="23.14" fill="rgb(37,37,37)"/><rect x="-46.03" y="135.27" width="23.62" height="23.14" fill="rgb(0,0,0)"/><rect x="-23.02" y="135.27" width="23.62" height="23.14" fill="rgb(0,0,0)"/><rect x="0.00" y="135.27" width="23.62" height="23.14" fill="rgb(0,0,0)"/><rect x="23.02" y="135.27" width="23.62" height="23.14" fill="rgb(78,78,78)"/><rect x="46.03" y="135.27" width="23.62" height="23.14" fill="rgb(11,11,11)"/><rect x="69.05" y="135.27" width="23.62" height="23.14" fill="rgb(61,61,61)"/><rect x="92.07" y="135.27" width="23.62" height="23.14" fill="rgb(49,49,49)"/><rect x="115.08" y="135.27" width="23.62" height="23.14" fill="rgb(119,119,119)"/><rect x="138.10" y="135.27" width="23.62" height="23.14" fill="rgb(94,94,94)"/><rect x="161.12" y="135.27" width="23.62" height="23.14" fill="rgb(0,0,0)"/><rect x="184.13" y="135.27" width="23.62" height="23.14" fill="rgb(35,35,35)"/><rect x="207.15" y="135.27" width="23.62" height="23.14" fill="rgb(101,101,101)"/><rect x="230.17" y="135.27" width="23.62" height="23.14" fill="rgb(118,118,118)"/><rect x="253.18" y="135.27" width="23.62" height="23.14" fill="rgb(119,119,119)"/><rect x="276.20" y="135.27" width="23.62" height="23.14" fill="rgb(119,119,119)"/><rect x="299.22" y="135.27" width="23.62" height="23.14" fill="rgb(119,119,119)"/><rect x="-46.03" y="157.81" width="23.62" height="23.14" fill="rgb(14,14,14)"/><rect x="-23.02" y="157.81" width="23.62" height="23.14" fill="rgb(14,14,14)"/><rect x="0.00" y="157.81" width="23.62" height="23.14" fill="rgb(14,14,14)"/><rect x="23.02" y="157.81" width="23.62" height="23.14" fill="rgb(118,118,118)"/><rect x="46.03" y="157.81" width="23.62" height="23.14" fill="rgb(0,0,0)"/><rect x="69.05" y="157.81" width="23.62" height="23.14" fill="rgb(46,46,46)"/><rect x="92.07" y="157.81" width="23.62" height="23.14" fill="rgb(17,17,17)"/><rect x="115.08" y="157.81" width="23.62" height="23.14" fill="rgb(155,155,155)"/><rect x="138.10" y="157.81" width="23.62" height="23.14" fill="rgb(149,149,149)"/><rect x="161.12" y="157.81" width="23.62" height="23.14" fill="rgb(92,92,92)"/><rect x="184.13" y="157.81" width="23.62" height="23.14" fill="rgb(57,57,57)"/><rect x="207.15" y="157.81" width="23.62" height="23.14" fill="rgb(17,17,17)"/><rect x="230.17" y="157.81" width="23.62" height="23.14" fill="rgb(0,0,0)"/><rect x="253.18" y="157.81" width="23.62" height="23.14" fill="rgb(81,81,81)"/><rect x="276.20" y="157.81" width="23.62" height="23.14" fill="rgb(81,81,81)"/><rect x="299.22" y="157.81" width="23.62" height="23.14" fill="rgb(81,81,81)"/><rect x="-46.03" y="180.36" width="23.62" height="23.14" fill="rgb(124,124,124)"/><rect x="-23.02" y="180.36" width="23.62" height="23.14" fill="rgb(124,124,124)"/><rect x="0.00" y="180.36" width="23.62" height="23.14" fill="rgb(124,124,124)"/><rect x="23.02" y="180.36" width="23.62" height="23.14" fill="rgb(129,129,129)"/><rect x="46.03" y="180.36" width="23.62" height="23.14" fill="rgb(96,96,96)"/><rect x="69.05" y="180.36" width="23.62" height="23.14" fill="rgb(149,149,149)"/><rect x="92.07" y="180.36" width="23.62" height="23.14" fill="rgb(0,0,0)"/><rect x="115.08" y="180.36" width="23.62" height="23.14" fill="rgb(86,86,86)"/><rect x="138.10" y="180.36" width="23.62" height="23.14" fill="rgb(94,94,94)"/><rect x="161.12" y="180.36" width="23.62" height="23.14" fill="rgb(35,35,35)"/><rect x="184.13" y="180.36" width="23.62" height="23.14" fill="rgb(66,66,66)"/><rect x="207.15" y="180.36" width="23.62" height="23.14" fill="rgb(89,89,89)"/><rect x="230.17" y="180.36" width="23.62" height="23.14" fill="rgb(0,0,0)"/><rect x="253.18" y="180.36" width="23.62" height="23.14" fill="rgb(0,0,0)"/><rect x="276.20" y="180.36" width="23.62" height="23.14" fill="rgb(0,0,0)"/><rect x="299.22" y="180.36" width="23.62" height="23.14" fill="rgb(0,0,0)"/><rect x="-46.03" y="202.90" width="23.62" height="23.14" fill="rgb(124,124,124)"/><rect x="-23.02" y="202.90" width="23.62" height="23.14" fill="rgb(124,124,124)"/><rect x="0.00" y="202.90" width="23.62" height="23.14" fill="rgb(124,124,124)"/><rect x="23.02" y="202.90" width="23.62" height="23.14" fill="rgb(129,129,129)"/><rect x="46.03" y="202.90" width="23.62" height="23.14" fill="rgb(96,96,96)"/><rect x="69.05" y="202.90" width="23.62" height="23.14" fill="rgb(149,149,149)"/><rect x="92.07" y="202.90" width="23.62" height="23.14" fill="rgb(0,0,0)"/><rect x="115.08" y="202.90" width="23.62" height="23.14" fill="rgb(86,86,86)"/><rect x="138.10" y="202.90" width="23.62" height="23.14" fill="rgb(94,94,94)"/><rect x="161.12" y="202.90" width="23.62" height="23.14" fill="rgb(35,35,35)"/><rect x="184.13" y="202.90" width="23.62" height="23.14" fill="rgb(66,66,66)"/><rect x="207.15" y="202.90" width="23.62" height="23.14" fill="rgb(89,89,89)"/><rect x="230.17" y="202.90" width="23.62" height="23.14" fill="rgb(0,0,0)"/><rect x="253.18" y="202.90" width="23.62" height="23.14" fill="rgb(0,0,0)"/><rect x="276.20" y="202.90" width="23.62" height="23.14" fill="rgb(0,0,0)"/><rect x="299.22" y="202.90" width="23.62" height="23.14" fill="rgb(0,0,0)"/><rect x="-46.03" y="225.44" width="23.62" height="23.14" fill="rgb(124,124,124)"/><rect x="-23.02" y="225.44" width="23.62" height="23.14" fill="rgb(124,124,124)"/><rect x="0.00" y="225.44" width="23.62" height="23.14" fill="rgb(124,124,124)"/><rect x="23.02" y="225.44" width="23.62" height="23.14" fill="rgb(129,129,129)"/><rect x="46.03" y="225.44" width="23.62" height="23.14" fill="rgb(96,96,96)"/><rect x="69.05" y="225.44" width="23.62" height="23.14" fill="rgb(149,149,149)"/><rect x="92.07" y="225.44" width="23.62" height="23.14" fill="rgb(0,0,0)"/><rect x="115.08" y="225.44" width="23.62" height="23.14" fill="rgb(86,86,86)"/><rect x="138.10" y="225.44" width="23.62" height="23.14" fill="rgb(94,94,94)"/><rect x="161.12" y="225.44" width="23.62" height="23.14" fill="rgb(35,35,35)"/><rect x="184.13" y="225.44" width="23.62" height="23.14" fill="rgb(66,66,66)"/><rect x="207.15" y="225.44" width="23.62" height="23.14" fill="rgb(89,89,89)"/><rect x="230.17" y="225.44" width="23.62" height="23.14" fill="rgb(0,0,0)"/><rect x="253.18" y="225.44" width="23.62" height="23.14" fill="rgb(0,0,0)"/><rect x="276.20" y="225.44" width="23.62" height="23.14" fill="rgb(0,0,0)"/><rect x="299.22" y="225.44" width="23.62" height="23.14" fill="rgb(0,0,0)"/></g><g filter="url(#fb1)" fill="none" stroke-linecap="round"><path d="M120 87L134 120M121 90l4 0M121 90l-2 3M122 92l5 -0M122 92l-3 4M123 95l11 2M123 95l-4 10M125 97l7 1M125 97l-2 6M126 100l8 3M126 100l-3 8M127 102l11 3M127 102l-7 9M128 105l12 2M128 105l-6 10M129 107l12 3M129 107l-5 11M130 110l13 -0M130 110l-8 10M131 112l8 2M131 112l-4 8M132 115l4 1M132 115l-2 3M133 117l0 0M133 117l-0 0" stroke="rgb(149,149,149)" stroke-width="2.8" stroke-opacity="0.43"/><path d="M277 163L289 209M278 165l6 1M278 165l-4 5M278 168l5 2M278 168l-4 4M279 171l11 6M279 171l-7 10M280 173l7 4M280 173l-6 6M280 176l10 3M280 176l-6 8M281 178l11 3M281 178l-6 9M282 181l14 8M282 181l-10 13M282 183l11 5M282 183l-9 7M283 186l17 8M283 186l-14 12M284 188l10 4M284 188l-9 7M284 191l13 8M284 191l-12 9M285 193l9 4M285 193l-7 7M286 196l9 4M286 196l-5 8M286 199l6 2M286 199l-4 5M287 201l7 3M287 201l-5 6M288 204l4 1M288 204l-3 3M288 206l0 0M288 206l-0 0" stroke="rgb(75,75,75)" stroke-width="3.0" stroke-opacity="0.52"/><path d="M147 76L195 88M150 77l5 -3M150 77l3 5M152 78l8 -5M152 78l4 8M155 78l7 -8M155 78l3 10M158 79l6 -7M158 79l5 8M160 80l7 -5M160 80l3 7M163 80l8 -5M163 80l4 8M166 81l13 -8M166 81l6 14M168 82l11 -15M168 82l6 18M171 82l12 -11M171 82l8 14M173 83l8 -4M173 83l2 9M176 84l9 -12M176 84l8 13M179 84l10 -9M179 84l4 13M181 85l6 -7M181 85l5 8M184 86l6 -7M184 86l2 9M187 86l5 -5M187 86l2 7M189 87l3 -2M189 87l1 4M192 88l0 -0M192 88l0 0" stroke="rgb(169,169,169)" stroke-width="2.8" stroke-opacity="0.48"/><path d="M186 80L169 66M184 78l-4 2M184 78l0 -4M182 76l-6 2M182 76l-1 -6M180 75l-9 1M180 75l1 -9M178 73l-7 1M178 73l1 -7M175 71l-6 2M175 71l2 -7M173 69l-4 0M173 69l-0 -4M171 68l-2 0M171 68l-0 -2" stroke="rgb(166,166,166)" stroke-width="3.0" stroke-opacity="0.66"/><path d="M187 56L142 57M184 56l-3 4M184 56l-3 -3M182 56l-4 6M182 56l-4 -6M179 57l-7 9M179 57l-5 -10M176 57l-11 15M176 57l-13 -13M174 57l-4 9M174 57l-7 -6M171 57l-10 15M171 57l-12 -14M168 57l-14 14M168 57l-14 -14M166 57l-11 11M166 57l-7 -14M163 57l-9 9M163 57l-9 -9M160 57l-10 14M160 57l-9 -14M158 57l-7 14M158 57l-7 -14M155 57l-9 11M155 57l-9 -11M152 57l-6 6M152 57l-5 -6M150 57l-6 7M150 57l-6 -7M147 57l-2 3M147 57l-2 -3M144 57l-0 0M144 57l-0 -0" stroke="rgb(139,139,139)" stroke-width="2.8" stroke-opacity="0.69"/><path d="M211 209L249 192M214 208l1 -4M214 208l3 3M216 207l0 -9M216 207l7 4M219 205l3 -9M219 205l8 6M221 204l2 -12M221 204l10 7M223 203l0 -9M223 203l6 6M226 202l3 -16M226 202l13 10M228 201l0 -10M228 201l8 6M230 200l4 -10M230 200l9 5M233 199l1 -12M233 199l10 6M235 198l0 -7M235 198l6 2M238 197l4 -11M238 197l10 5M240 196l3 -9M240 196l9 4M242 195l1 -6M242 195l5 4M245 194l0 -4M245 194l3 2M247 193l0 -0M247 193l0 0" stroke="rgb(115,115,115)" stroke-width="2.6" stroke-opacity="0.59"/><path d="M144 75L170 36M145 73l-1 -5M145 73l5 0M147 71l-3 -7M147 71l7 -2M148 69l-5 -12M148 69l13 -1M150 67l-5 -13M150 67l14 -0M151 64l-3 -14M151 64l14 0M153 62l-6 -10M153 62l12 2M154 60l-4 -10M154 60l11 -2M156 58l-6 -11M156 58l13 2M157 56l-4 -13M157 56l13 -2M159 54l-7 -12M159 54l14 -2M160 51l-2 -15M160 51l15 -2M161 49l-4 -8M161 49l9 -1M163 47l-4 -8M163 47l9 -2M164 45l-2 -10M164 45l10 -0M166 43l-1 -5M166 43l5 0M167 41l-1 -3M167 41l3 -0M169 38l-0 -0M169 38l0 -0" stroke="rgb(163,163,163)" stroke-width="2.9" stroke-opacity="0.69"/><path d="M168 151L191 120M170 148l-2 -8M170 148l8 -0M171 146l-2 -12M171 146l11 3M173 144l-2 -14M173 144l14 -1M175 142l-3 -14M175 142l15 -2M176 139l-5 -16M176 139l17 2M178 137l-3 -9M178 137l10 1M180 135l-2 -8M180 135l9 1M181 133l-9 -15M181 133l17 -2M183 131l-5 -11M183 131l12 0M185 128l-2 -12M185 128l12 -2M186 126l-1 -6M186 126l6 0M188 124l-2 -5M188 124l5 -1M189 122l-0 -0M189 122l0 0" stroke="rgb(169,169,169)" stroke-width="2.4" stroke-opacity="0.62"/><path d="M271 196L316 214M273 197l5 -3M273 197l1 6M276 198l4 -3M276 198l0 5M278 199l7 -4M278 199l1 8M281 200l10 -5M281 200l4 11M283 201l13 -5M283 201l1 14M286 202l14 -11M286 202l1 18M288 203l15 -9M288 203l3 17M291 204l11 -11M291 204l1 16M293 205l9 -8M293 205l1 12M296 206l14 -12M296 206l5 18M298 207l14 -12M298 207l3 18M301 208l12 -10M301 208l4 15M303 209l12 -5M303 209l4 13M306 210l9 -3M306 210l3 9M308 211l6 -4M308 211l3 7M311 212l3 -3M311 212l1 4M313 213l0 -0M313 213l0 0" stroke="rgb(91,91,91)" stroke-width="2.8" stroke-opacity="0.50"/><path d="M56 63L66 92M57 65l4 0M57 65l-2 3M58 68l8 2M58 68l-6 6M59 70l5 1M59 70l-3 4M59 73l5 0M59 73l-2 5M60 75l8 3M60 75l-5 7M61 78l9 4M61 78l-7 7M62 80l7 2M62 80l-5 6M63 82l6 2M63 82l-4 5M64 85l6 2M64 85l-4 5M65 87l3 1M65 87l-2 3M66 90l0 0M66 90l-0 0" stroke="rgb(102,102,102)" stroke-width="2.4" stroke-opacity="0.67"/><path d="M28 197L-21 203M25 197l-1 5M25 197l-3 -4M22 197l-5 7M22 197l-6 -7M19 198l-5 8M19 198l-8 -6M17 198l-7 10M17 198l-8 -9M14 198l-7 13M14 198l-11 -10M11 199l-7 13M11 199l-9 -12M9 199l-4 14M9 199l-8 -12M6 200l-9 14M6 200l-14 -11M3 200l-6 18M3 200l-12 -14M1 200l-7 11M1 200l-8 -10M-2 201l-6 13M-2 201l-9 -11M-5 201l-8 12M-5 201l-11 -10M-8 201l-4 14M-8 201l-8 -12M-10 202l-3 5M-10 202l-4 -4M-13 202l-2 6M-13 202l-5 -4M-16 203l-2 2M-16 203l-2 -2M-18 203l-0 0M-18 203l-0 -0" stroke="rgb(156,156,156)" stroke-width="2.6" stroke-opacity="0.68"/><path d="M110 79L86 114M108 81l3 6M108 81l-7 1M107 83l2 8M107 83l-8 -1M105 85l4 9M105 85l-10 -2M104 87l4 10M104 87l-11 -1M102 90l6 18M102 90l-19 1M101 92l5 9M101 92l-10 2M99 94l4 9M99 94l-10 0M98 96l5 17M98 96l-17 -2M97 98l2 9M97 98l-10 -0M95 101l3 9M95 101l-9 -1M94 103l4 14M94 103l-14 2M92 105l4 8M92 105l-9 1M91 107l2 5M91 107l-5 -0M89 109l3 5M89 109l-6 -1M88 112l0 0M88 112l-0 0" stroke="rgb(169,169,169)" stroke-width="2.3" stroke-opacity="0.44"/><path d="M273 29L253 52M271 31l1 6M271 31l-6 -1M269 33l1 7M269 33l-7 -2M268 35l2 11M268 35l-11 1M266 37l2 9M266 37l-9 -1M264 39l4 13M264 39l-13 -3M262 41l2 6M262 41l-6 -1M260 43l0 6M260 43l-6 -1M258 46l1 9M258 46l-9 -2M256 48l1 3M256 48l-3 -1M255 50l0 0M255 50l-0 -0" stroke="rgb(155,155,155)" stroke-width="2.5" stroke-opacity="0.46"/><path d="M289 56L298 87M289 58l3 1M289 58l-2 2M290 61l4 3M290 61l-3 4M291 63l9 1M291 63l-4 8M292 66l6 3M292 66l-3 6M293 69l8 2M293 69l-5 6M293 71l7 3M293 71l-4 6M294 74l7 1M294 74l-4 6M295 76l8 2M295 76l-5 7M296 79l5 1M296 79l-4 4M296 82l4 1M296 82l-3 2M297 84l0 0M297 84l-0 0" stroke="rgb(149,149,149)" stroke-width="3.0" stroke-opacity="0.42"/><path d="M127 107L167 104M130 106l3 -5M130 106l4 5M132 106l3 -4M132 106l4 4M135 106l3 -7M135 106l4 6M138 106l4 -11M138 106l8 8M140 106l7 -9M140 106l6 10M143 106l3 -7M143 106l4 6M146 105l10 -11M146 105l10 11M148 105l9 -10M148 105l8 10M151 105l4 -10M151 105l6 9M153 105l7 -10M153 105l7 11M156 105l3 -7M156 105l6 5M159 105l5 -6M159 105l5 6M161 104l2 -3M161 104l2 3M164 104l0 -0M164 104l0 0" stroke="rgb(135,135,135)" stroke-width="2.2" stroke-opacity="0.54"/><path d="M107 136L80 157M105 138l1 5M105 138l-5 -1M103 140l0 9M103 140l-9 -1M101 141l3 14M101 141l-14 -2M99 143l-0 13M99 143l-12 -3M97 144l-0 13M97 144l-13 -3M95 146l1 12M95 146l-11 -2M93 148l1 9M93 148l-9 -2M91 149l1 15M91 149l-14 -6M89 151l2 9M89 151l-9 -1M87 153l-1 6M87 153l-5 -2M85 154l-0 6M85 154l-6 -1M82 156l0 0M82 156l-0 -0" stroke="rgb(123,123,123)" stroke-width="2.9" stroke-opacity="0.60"/><path d="M61 12L42 24M59 14l1 6M59 14l-6 -2M56 15l-0 6M56 15l-6 -1M54 17l0 7M54 17l-6 -4M52 18l0 10M52 18l-9 -4M49 20l-0 5M49 20l-4 -1M47 21l-1 6M47 21l-6 -2M45 23l0 2M45 23l-2 -1" stroke="rgb(121,121,121)" stroke-width="2.5" stroke-opacity="0.55"/><path d="M178 9L179 47M178 12l4 4M178 12l-5 2M178 15l5 2M178 15l-5 3M178 17l9 6M178 17l-8 7M178 20l14 6M178 20l-13 7M178 23l10 9M178 23l-12 7M178 25l10 4M178 25l-8 7M178 28l12 6M178 28l-10 9M178 31l9 9M178 31l-8 9M178 33l8 3M178 33l-8 4M179 36l9 7M179 36l-9 6M179 39l7 5M179 39l-7 5M179 41l4 4M179 41l-4 4M179 44l0 0M179 44l-0 0" stroke="rgb(101,101,101)" stroke-width="2.5" stroke-opacity="0.68"/><path d="M137 100L121 60M136 97l-7 -2M136 97l4 -6M135 95l-9 -1M135 95l5 -8M134 92l-11 -3M134 92l8 -8M133 90l-10 -4M133 90l7 -9M132 87l-18 -2M132 87l11 -15M131 85l-17 -5M131 85l10 -14M130 82l-9 -4M130 82l5 -8M129 80l-14 -4M129 80l6 -14M128 77l-16 -4M128 77l7 -15M127 75l-11 -3M127 75l5 -10M126 72l-8 -0M126 72l6 -6M125 70l-11 -1M125 70l6 -10M124 68l-9 -3M124 68l6 -7M123 65l-4 -0M123 65l2 -4M122 63l-0 -0M122 63l0 -0" stroke="rgb(167,167,167)" stroke-width="2.6" stroke-opacity="0.70"/><path d="M285 -34L276 -6M284 -31l2 3M284 -31l-3 2M284 -29l3 3M284 -29l-4 1M283 -26l5 5M283 -26l-7 1M282 -24l4 7M282 -24l-7 3M281 -21l8 7M281 -21l-10 5M280 -19l6 8M280 -19l-10 3M279 -16l4 4M279 -16l-5 1M279 -13l3 3M279 -13l-4 2M278 -11l2 5M278 -11l-5 2M277 -8l0 0M277 -8l-0 0" stroke="rgb(143,143,143)" stroke-width="2.9" stroke-opacity="0.64"/><path d="M263 176L247 131M262 173l-6 -3M262 173l3 -6M261 171l-7 -1M261 171l5 -5M260 168l-9 -2M260 168l7 -7M259 166l-12 -5M259 166l7 -11M259 163l-18 -4M259 163l9 -16M258 161l-15 -7M258 161l12 -11M257 158l-14 -4M257 158l9 -12M256 156l-10 -2M256 156l5 -9M255 153l-12 -2M255 153l5 -11M254 151l-12 -2M254 151l6 -11M253 148l-11 -3M253 148l5 -10M252 146l-17 -1M252 146l7 -15M251 143l-11 -2M251 143l6 -9M251 141l-12 -3M251 141l6 -11M250 138l-7 -1M250 138l4 -6M249 136l-3 -1M249 136l2 -3M248 133l-0 -0M248 133l0 -0" stroke="rgb(93,93,93)" stroke-width="2.3" stroke-opacity="0.47"/><path d="M142 223L147 199M143 221l-4 -4M143 221l5 -3M143 218l-4 -5M143 218l6 -3M144 215l-4 -7M144 215l7 -3M144 212l-7 -7M144 212l9 -3M145 210l-4 -5M145 210l5 -4M145 207l-5 -5M145 207l6 -3M146 204l-3 -3M146 204l3 -2M146 202l-2 -2M146 202l2 -1" stroke="rgb(114,114,114)" stroke-width="2.4" stroke-opacity="0.53"/><path d="M234 28L226 48M233 30l2 4M233 30l-4 0M232 33l2 4M232 33l-4 1M231 35l5 5M231 35l-7 1M230 38l2 4M230 38l-4 1M229 40l3 3M229 40l-4 2M228 43l3 3M228 43l-4 0M227 45l1 1M227 45l-1 0" stroke="rgb(169,169,169)" stroke-width="2.7" stroke-opacity="0.56"/><path d="M35 70L15 81M32 72l-1 3M32 72l-2 -1M30 73l-1 4M30 73l-3 -3M27 74l-1 5M27 74l-4 -3M25 75l-2 6M25 75l-6 -3M22 77l-2 6M22 77l-6 -2M20 78l0 5M20 78l-4 -2M17 79l-0 2M17 79l-2 -1" stroke="rgb(139,139,139)" stroke-width="3.0" stroke-opacity="0.63"/><path d="M60 68L36 61M57 67l-3 3M57 67l-1 -4M55 67l-6 4M55 67l-3 -7M52 66l-3 3M52 66l-2 -4M49 65l-5 3M49 65l-3 -5M47 64l-5 3M47 64l-1 -6M44 63l-6 4M44 63l-2 -7M42 62l-2 2M42 62l-1 -3M39 61l-1 1M39 61l-0 -2" stroke="rgb(92,92,92)" stroke-width="2.4" stroke-opacity="0.54"/><path d="M-34 47L7 70M-31 48l5 -2M-31 48l1 5M-29 49l5 -3M-29 49l2 6M-27 51l8 -3M-27 51l1 9M-24 52l7 -4M-24 52l2 8M-22 53l13 -7M-22 53l4 15M-19 55l10 -4M-19 55l-0 11M-17 56l12 -5M-17 56l-1 13M-15 58l10 -4M-15 58l2 11M-12 59l10 -3M-12 59l3 10M-10 60l13 -7M-10 60l-1 15M-8 62l16 -6M-8 62l0 17M-5 63l14 -5M-5 63l0 14M-3 64l8 -6M-3 64l-1 10M-1 66l5 -3M-1 66l1 5M2 67l3 -1M2 67l1 3M4 68l0 -0M4 68l0 0" stroke="rgb(134,134,134)" stroke-width="2.8" stroke-opacity="0.56"/><path d="M-28 69L2 81M-25 70l3 -2M-25 70l1 3M-23 71l4 -4M-23 71l1 5M-20 72l5 -4M-20 72l2 6M-18 73l7 -5M-18 73l0 8M-15 74l7 -4M-15 74l0 8M-13 75l9 -6M-13 75l2 11M-10 76l7 -4M-10 76l2 7M-8 77l7 -6M-8 77l2 9M-5 78l7 -3M-5 78l3 7M-3 79l4 -2M-3 79l1 4M-0 80l0 -0M-0 80l0 0" stroke="rgb(164,164,164)" stroke-width="2.6" stroke-opacity="0.58"/><path d="M34 145L70 145M37 145l3 -4M37 145l3 4M40 145l4 -9M40 145l6 7M42 145l4 -7M42 145l5 6M45 145l6 -11M45 145l6 11M48 145l7 -13M48 145l10 11M51 145l7 -10M51 145l7 10M54 145l6 -8M54 145l5 9M56 145l7 -8M56 145l7 8M59 145l5 -6M59 145l4 6M62 145l4 -4M62 145l4 4M65 145l2 -3M65 145l2 2M68 145l0 -0M68 145l0 0" stroke="rgb(169,169,169)" stroke-width="2.4" stroke-opacity="0.55"/><path d="M-8 57L1 26M-7 54l-3 -3M-7 54l4 -1M-6 52l-6 -7M-6 52l9 -3M-5 49l-7 -8M-5 49l11 -2M-5 47l-6 -11M-5 47l12 -5M-4 44l-7 -11M-4 44l11 -5M-3 42l-4 -5M-3 42l7 -1M-2 39l-7 -12M-2 39l14 -3M-2 37l-6 -6M-2 37l8 -3M-1 34l-8 -6M-1 34l9 -5M-0 32l-3 -5M-0 32l5 -3M1 29l-0 -0M1 29l0 -0" stroke="rgb(136,136,136)" stroke-width="2.4" stroke-opacity="0.61"/><path d="M35 65L1 56M32 64l-3 2M32 64l-1 -4M30 63l-5 7M30 63l-3 -8M27 63l-8 7M27 63l-2 -10M24 62l-6 4M24 62l-3 -6M22 61l-12 8M22 61l-5 -13M19 61l-6 4M19 61l-4 -6M17 60l-9 6M17 60l-3 -11M14 59l-7 4M14 59l-3 -8M12 58l-6 4M12 58l-4 -7M9 58l-3 3M9 58l-2 -4M6 57l-2 2M6 57l-1 -3M4 56l-0 0M4 56l-0 -0" stroke="rgb(165,165,165)" stroke-width="2.4" stroke-opacity="0.64"/><path d="M166 140L209 123M169 139l2 -5M169 139l4 2M171 138l3 -6M171 138l6 3M174 137l4 -14M174 137l12 8M176 136l3 -8M176 136l6 6M179 135l2 -10M179 135l7 6M181 134l3 -20M181 134l18 10M184 133l2 -21M184 133l16 14M186 132l9 -22M186 132l17 17M189 131l2 -16M189 131l14 7M191 130l9 -19M191 130l18 12M194 129l3 -11M194 129l10 6M196 128l1 -15M196 128l13 7M199 127l4 -12M199 127l11 6M201 126l3 -10M201 126l10 4M204 125l0 -4M204 125l3 2M206 124l0 -0M206 124l0 0" stroke="rgb(139,139,139)" stroke-width="2.6" stroke-opacity="0.65"/><path d="M46 -8L26 19M44 -5l2 4M44 -5l-4 0M43 -3l2 8M43 -3l-8 -1M41 -1l3 5M41 -1l-5 0M39 1l2 11M39 1l-11 0M38 3l2 10M38 3l-10 1M36 6l5 9M36 6l-10 1M34 8l2 6M34 8l-6 -1M33 10l2 5M33 10l-5 0M31 12l1 7M31 12l-7 -0M30 15l2 5M30 15l-5 -0M28 17l0 0M28 17l-0 0" stroke="rgb(100,100,100)" stroke-width="2.6" stroke-opacity="0.52"/><path d="M188 63L193 101M188 66l5 2M188 66l-4 3M189 68l9 6M189 68l-8 7M189 71l13 5M189 71l-9 10M189 74l13 4M189 74l-10 9M190 76l13 9M190 76l-14 8M190 79l10 7M190 79l-10 7M190 82l13 4M190 82l-12 8M191 85l13 7M191 85l-13 7M191 87l7 2M191 87l-6 4M191 90l7 3M191 90l-6 5M192 93l7 2M192 93l-5 6M192 95l3 2M192 95l-2 3M192 98l0 0M192 98l-0 0" stroke="rgb(170,170,170)" stroke-width="2.6" stroke-opacity="0.41"/><path d="M223 11L240 23M226 12l3 -1M226 12l-0 3M228 14l5 -3M228 14l1 6M230 15l9 -2M230 15l-1 9M232 17l8 -3M232 17l1 8M234 18l6 -2M234 18l1 6M236 20l4 -1M236 20l-0 4M238 22l1 -1M238 22l-0 1" stroke="rgb(150,150,150)" stroke-width="2.9" stroke-opacity="0.65"/><path d="M110 18L145 4M112 17l2 -6M112 17l5 3M115 16l3 -6M115 16l6 4M117 15l1 -9M117 15l7 5M120 14l2 -10M120 14l7 7M122 13l2 -10M122 13l9 5M125 12l4 -12M125 12l9 8M127 11l1 -10M127 11l8 6M130 10l1 -11M130 10l9 6M133 9l2 -12M133 9l10 7M135 8l2 -6M135 8l5 3M138 7l0 -7M138 7l6 3M140 6l1 -5M140 6l4 2M143 5l0 -0M143 5l0 0" stroke="rgb(114,114,114)" stroke-width="2.4" stroke-opacity="0.70"/><path d="M11 88L5 49M11 85l-5 -2M11 85l4 -4M10 83l-6 -4M10 83l6 -5M10 80l-10 -2M10 80l9 -6M10 78l-13 -7M10 78l12 -9M9 75l-12 -5M9 75l11 -7M9 72l-7 -4M9 72l5 -6M8 70l-12 -7M8 70l12 -8M8 67l-8 -4M8 67l6 -7M7 64l-10 -3M7 64l6 -9M7 62l-7 -3M7 62l6 -5M6 59l-9 -5M6 59l8 -6M6 56l-8 -3M6 56l5 -6M5 54l-3 -2M5 54l3 -2M5 51l-0 -0M5 51l0 -0" stroke="rgb(146,146,146)" stroke-width="2.9" stroke-opacity="0.68"/><path d="M27 172L3 171M24 172l-2 3M24 172l-2 -3M22 172l-4 4M22 172l-4 -5M19 172l-4 6M19 172l-4 -6M16 172l-7 7M16 172l-4 -9M14 172l-2 5M14 172l-3 -5M11 172l-3 5M11 172l-2 -6M9 171l-4 5M9 171l-5 -5M6 171l-1 1M6 171l-1 -1" stroke="rgb(165,165,165)" stroke-width="2.3" stroke-opacity="0.43"/><path d="M-30 11L8 3M-28 10l3 -4M-28 10l3 4M-25 10l3 -7M-25 10l5 5M-22 9l3 -14M-22 9l10 10M-20 9l3 -12M-20 9l9 8M-17 8l3 -11M-17 8l9 7M-15 8l5 -11M-15 8l9 8M-12 7l5 -11M-12 7l9 8M-10 7l2 -9M-10 7l8 5M-7 6l5 -12M-7 6l10 9M-5 5l5 -8M-5 5l7 6M-2 5l3 -8M-2 5l7 5M1 4l4 -9M1 4l8 5M3 4l1 -4M3 4l4 2M6 3l0 -0M6 3l0 0" stroke="rgb(126,126,126)" stroke-width="2.2" stroke-opacity="0.52"/><path d="M184 82L155 58M182 80l-3 0M182 80l-0 -3M180 78l-6 2M180 78l0 -6M177 76l-11 3M177 76l-0 -12M175 75l-12 1M175 75l3 -11M173 73l-14 3M173 73l-0 -14M171 71l-13 5M171 71l2 -14M169 70l-7 3M169 70l-1 -7M167 68l-11 3M167 68l3 -12M165 66l-11 1M165 66l3 -11M163 64l-10 3M163 64l-1 -10M161 63l-8 2M161 63l1 -8M159 61l-5 2M159 61l-1 -6M157 59l-0 0M157 59l0 -0" stroke="rgb(167,167,167)" stroke-width="2.6" stroke-opacity="0.55"/><path d="M89 79L110 99M91 81l6 -1M91 81l0 6M93 82l5 -1M93 82l-2 5M95 84l9 -4M95 84l-0 10M96 86l9 -2M96 86l-3 9M98 88l7 -3M98 88l-1 7M100 90l6 -1M100 90l-1 6M102 91l10 -4M102 91l-1 10M104 93l8 -1M104 93l-2 8M106 95l3 -1M106 95l0 4M108 97l0 -0M108 97l-0 0" stroke="rgb(156,156,156)" stroke-width="2.3" stroke-opacity="0.43"/><path d="M136 87L153 62M138 85l-2 -6M138 85l6 -1M139 83l-4 -8M139 83l9 -1M141 80l-3 -5M141 80l6 -0M142 78l-4 -11M142 78l12 0M144 76l-6 -9M144 76l11 2M145 73l-4 -9M145 73l9 -1M147 71l-2 -11M147 71l11 -1M148 69l-2 -9M148 69l9 0M150 66l-2 -5M150 66l5 -1M151 64l-0 -0M151 64l0 0" stroke="rgb(146,146,146)" stroke-width="2.6" stroke-opacity="0.69"/><path d="M192 42L228 47M195 42l4 -3M195 42l3 4M197 43l4 -4M197 43l2 6M200 43l4 -5M200 43l2 6M203 43l7 -8M203 43l4 10M206 44l7 -8M206 44l3 10M208 44l10 -9M208 44l8 10M211 44l10 -10M211 44l5 13M214 45l5 -6M214 45l4 7M217 45l5 -9M217 45l5 9M219 46l5 -5M219 46l4 6M222 46l5 -4M222 46l2 6M225 46l0 -0M225 46l0 0" stroke="rgb(162,162,162)" stroke-width="2.4" stroke-opacity="0.48"/><path d="M-2 118L27 116M0 118l2 -3M0 118l2 3M3 118l3 -8M3 118l5 8M6 118l6 -7M6 118l6 7M8 118l4 -7M8 118l5 6M11 117l7 -8M11 117l6 9M14 117l5 -8M14 117l7 6M16 117l5 -8M16 117l4 8M19 117l5 -6M19 117l6 6M22 117l2 -4M22 117l2 4M24 117l0 -0M24 117l0 0" stroke="rgb(109,109,109)" stroke-width="2.2" stroke-opacity="0.60"/><path d="M270 206L233 208M268 206l-2 3M268 206l-2 -3M265 206l-3 4M265 206l-3 -5M262 206l-9 10M262 206l-11 -9M260 207l-7 13M260 207l-9 -11M257 207l-6 12M257 207l-7 -11M254 207l-5 6M254 207l-4 -7M252 207l-7 16M252 207l-12 -13M249 207l-6 9M249 207l-8 -7M246 207l-8 11M246 207l-8 -11M243 208l-6 8M243 208l-6 -8M241 208l-5 6M241 208l-4 -6M238 208l-2 3M238 208l-2 -2M235 208l-0 0M235 208l-0 -0" stroke="rgb(116,116,116)" stroke-width="2.7" stroke-opacity="0.58"/><path d="M69 141L42 137M66 141l-3 4M66 141l-2 -4M64 140l-6 7M64 140l-6 -8M61 140l-8 7M61 140l-6 -9M58 139l-5 8M58 139l-5 -8M55 139l-5 7M55 139l-2 -9M53 139l-7 5M53 139l-3 -8M50 138l-7 7M50 138l-3 -9M47 138l-4 3M47 138l-2 -5M44 137l-1 1M44 137l-0 -1" stroke="rgb(155,155,155)" stroke-width="2.3" stroke-opacity="0.47"/><path d="M-37 92L6 111M-35 93l6 -3M-35 93l0 7M-33 94l4 -3M-33 94l0 5M-30 95l7 -3M-30 95l1 7M-28 96l11 -8M-28 96l0 14M-25 97l10 -6M-25 97l4 11M-23 98l8 -7M-23 98l4 10M-20 99l9 -5M-20 99l4 9M-18 100l11 -5M-18 100l4 11M-16 101l12 -7M-16 101l2 14M-13 102l13 -8M-13 102l0 16M-11 103l8 -4M-11 103l3 8M-8 104l8 -6M-8 104l0 10M-6 105l9 -4M-6 105l3 10M-4 106l8 -4M-4 106l1 9M-1 107l7 -4M-1 107l1 8M1 109l3 -2M1 109l1 3M4 110l0 -0M4 110l0 0" stroke="rgb(181,181,181)" stroke-width="2.4" stroke-opacity="0.66"/><path d="M215 67L228 88M216 69l6 0M216 69l-3 5M218 71l7 1M218 71l-1 7M219 74l7 2M219 74l-2 7M220 76l10 1M220 76l-4 9M222 78l9 1M222 78l-3 9M223 81l10 0M223 81l-4 9M225 83l6 0M225 83l-2 5M226 86l2 0M226 86l-1 2" stroke="rgb(159,159,159)" stroke-width="2.4" stroke-opacity="0.41"/><path d="M274 196L225 193M272 195l-4 4M272 195l-2 -5M269 195l-5 4M269 195l-3 -6M267 195l-5 7M267 195l-5 -8M264 195l-10 12M264 195l-9 -13M261 195l-5 6M261 195l-5 -6M259 195l-8 12M259 195l-8 -12M256 195l-6 8M256 195l-5 -8M254 194l-7 15M254 194l-10 -13M251 194l-11 9M251 194l-6 -13M248 194l-6 10M248 194l-5 -11M246 194l-5 10M246 194l-6 -10M243 194l-7 10M243 194l-4 -12M241 194l-7 9M241 194l-7 -10M238 194l-8 10M238 194l-8 -11M235 193l-5 5M235 193l-3 -6M233 193l-3 7M233 193l-3 -7M230 193l-1 2M230 193l-1 -3M228 193l-0 0M228 193l-0 -0" stroke="rgb(88,88,88)" stroke-width="2.3" stroke-opacity="0.62"/><path d="M229 59L247 49M231 57l-0 -6M231 57l5 3M234 56l0 -4M234 56l4 1M236 54l-0 -9M236 54l9 3M239 53l0 -5M239 53l4 3M241 52l0 -7M241 52l7 2M244 50l1 -3M244 50l2 2" stroke="rgb(169,169,169)" stroke-width="2.5" stroke-opacity="0.64"/><path d="M123 72L148 75M126 72l4 -4M126 72l3 5M129 72l5 -4M129 72l2 5M131 73l5 -8M131 73l5 8M134 73l6 -10M134 73l6 10M137 74l7 -9M137 74l3 11M140 74l7 -6M140 74l5 8M142 74l4 -4M142 74l3 4M145 75l2 -2M145 75l1 2" stroke="rgb(165,165,165)" stroke-width="2.4" stroke-opacity="0.60"/><path d="M227 47L204 34M225 46l-4 3M225 46l-0 -4M223 45l-5 2M223 45l-1 -6M220 43l-6 4M220 43l-2 -7M218 42l-7 4M218 42l0 -8M215 41l-8 4M215 41l1 -9M213 39l-9 3M213 39l-1 -10M211 38l-8 4M211 38l-2 -9M208 37l-5 1M208 37l-1 -5M206 35l-1 0M206 35l-0 -1" stroke="rgb(171,171,171)" stroke-width="2.3" stroke-opacity="0.42"/><path d="M269 190L295 202M272 191l4 -3M272 191l1 5M274 192l7 -5M274 192l1 8M277 193l5 -3M277 193l2 5M279 195l5 -3M279 195l2 6M282 196l6 -3M282 196l1 6M284 197l5 -4M284 197l0 6M287 198l6 -4M287 198l2 7M289 199l7 -3M289 199l2 7M292 201l1 -1M292 201l0 1" stroke="rgb(90,90,90)" stroke-width="2.6" stroke-opacity="0.44"/><path d="M136 65L108 73M133 65l-2 4M133 65l-3 -3M131 66l-3 7M131 66l-5 -5M128 67l-2 12M128 67l-10 -7M126 68l-2 11M126 68l-9 -6M123 68l-1 12M123 68l-9 -8M120 69l-4 10M120 69l-8 -7M118 70l-1 7M118 70l-5 -4M115 71l-4 9M115 71l-7 -7M113 72l-1 3M113 72l-2 -2M110 72l-0 0M110 72l-0 -0" stroke="rgb(164,164,164)" stroke-width="2.5" stroke-opacity="0.49"/><path d="M97 227L115 216M99 226l-0 -5M99 226l4 2M101 224l0 -7M101 224l7 2M104 223l0 -8M104 223l7 3M106 221l2 -10M106 221l9 5M108 220l-0 -6M108 220l5 3M111 219l0 -4M111 219l4 2M113 217l0 -2M113 217l2 1" stroke="rgb(125,125,125)" stroke-width="2.9" stroke-opacity="0.65"/><path d="M248 92L222 72M246 91l-4 2M246 91l-1 -4M244 89l-6 2M244 89l1 -6M242 88l-11 3M242 88l-0 -11M240 86l-9 3M240 86l-1 -9M238 84l-9 3M238 84l-1 -10M236 83l-8 4M236 83l2 -9M234 81l-9 1M234 81l-1 -9M232 80l-6 3M232 80l1 -7M230 78l-7 2M230 78l1 -7M228 76l-4 2M228 76l1 -4M226 75l-3 1M226 75l0 -3M224 73l-0 0M224 73l-0 -0" stroke="rgb(185,185,185)" stroke-width="3.0" stroke-opacity="0.57"/><path d="M301 43L283 26M299 41l-6 2M299 41l1 -6M297 39l-5 1M297 39l1 -5M295 37l-6 2M295 37l2 -6M293 35l-7 1M293 35l0 -7M291 33l-10 0M291 33l2 -10M289 31l-5 2M289 31l1 -5M287 30l-6 0M287 30l-0 -6M285 28l-2 1M285 28l0 -2" stroke="rgb(150,150,150)" stroke-width="2.5" stroke-opacity="0.53"/><path d="M232 -7L273 -2M235 -7l3 -3M235 -7l2 4M238 -7l5 -5M238 -7l4 7M240 -6l5 -5M240 -6l4 6M243 -6l5 -4M243 -6l3 6M246 -6l7 -6M246 -6l3 9M249 -5l8 -8M249 -5l6 10M251 -5l9 -12M251 -5l6 14M254 -5l8 -10M254 -5l6 12M257 -4l7 -7M257 -4l5 9M259 -4l6 -7M259 -4l4 9M262 -4l6 -9M262 -4l6 9M265 -3l3 -3M265 -3l3 3M268 -3l3 -4M268 -3l2 4M270 -2l0 -0M270 -2l0 0" stroke="rgb(173,173,173)" stroke-width="2.4" stroke-opacity="0.60"/><path d="M106 94L142 60M107 92l-1 -9M107 92l9 2M109 90l-2 -8M109 90l8 2M111 88l1 -17M111 88l16 7M113 86l0 -9M113 86l9 1M115 85l0 -18M115 85l17 4M117 83l-3 -23M117 83l22 7M119 81l-3 -19M119 81l19 1M121 79l-5 -17M121 79l17 5M123 77l-2 -14M123 77l14 3M125 76l-3 -15M125 76l15 4M127 74l-0 -11M127 74l10 3M129 72l0 -13M129 72l12 4M130 70l-4 -12M130 70l13 3M132 68l-2 -9M132 68l9 1M134 67l-3 -13M134 67l13 4M136 65l0 -5M136 65l5 2M138 63l-0 -2M138 63l2 0M140 61l-0 -0M140 61l0 0" stroke="rgb(143,143,143)" stroke-width="2.9" stroke-opacity="0.42"/><path d="M292 -24L259 6M290 -23l0 7M290 -23l-7 -1M288 -21l2 10M288 -21l-10 -0M286 -19l0 7M286 -19l-7 -1M285 -17l3 14M285 -17l-13 -6M283 -16l2 13M283 -16l-13 -2M281 -14l2 15M281 -14l-15 -1M279 -12l1 13M279 -12l-13 -3M277 -10l-1 9M277 -10l-8 -4M275 -8l1 12M275 -8l-12 -1M273 -7l4 13M273 -7l-13 -1M271 -5l1 11M271 -5l-11 -4M269 -3l0 11M269 -3l-11 -1M267 -1l-1 10M267 -1l-9 -4M265 0l-0 4M265 0l-4 -1M263 2l1 4M263 2l-4 -1M261 4l0 0M261 4l-0 -0" stroke="rgb(147,147,147)" stroke-width="2.8" stroke-opacity="0.46"/><path d="M231 13L251 18M233 14l4 -4M233 14l1 6M236 15l3 -2M236 15l2 4M238 15l5 -3M238 15l3 5M241 16l7 -5M241 16l4 7M243 16l5 -4M243 16l3 6M246 17l4 -4M246 17l2 5M249 18l2 -1M249 18l1 2" stroke="rgb(147,147,147)" stroke-width="2.5" stroke-opacity="0.43"/><path d="M27 74L55 49M29 72l-1 -5M29 72l4 1M31 70l-2 -8M31 70l9 1M33 69l-0 -8M33 69l7 3M35 67l-2 -13M35 67l12 5M37 65l-0 -9M37 65l8 3M39 63l1 -14M39 63l13 6M41 62l-3 -13M41 62l14 3M43 60l-3 -12M43 60l11 5M45 58l-3 -11M45 58l10 5M47 56l-2 -11M47 56l10 5M49 55l-0 -5M49 55l5 1M51 53l-1 -3M51 53l3 0M53 51l-0 -0M53 51l0 0" stroke="rgb(106,106,106)" stroke-width="2.6" stroke-opacity="0.68"/><path d="M88 159L103 138M90 157l-1 -3M90 157l3 -0M91 154l-4 -9M91 154l9 -2M93 152l-2 -9M93 152l9 0M95 150l-5 -9M95 150l10 2M96 147l-2 -7M96 147l8 -0M98 145l-3 -6M98 145l6 -0M100 143l-1 -6M100 143l6 1M101 140l-0 -2M101 140l2 0" stroke="rgb(123,123,123)" stroke-width="2.5" stroke-opacity="0.40"/><path d="M49 179L27 136M48 177l-6 -0M48 177l3 -5M47 174l-9 -2M47 174l3 -9M45 172l-10 -3M45 172l4 -10M44 170l-7 -2M44 170l2 -7M43 167l-12 -4M43 167l6 -11M42 165l-16 -3M42 165l5 -15M40 162l-15 -1M40 162l9 -12M39 160l-14 -1M39 160l8 -11M38 157l-15 1M38 157l6 -14M37 155l-16 -1M37 155l7 -14M35 153l-8 -1M35 153l3 -7M34 150l-12 -2M34 150l6 -11M33 148l-6 -2M33 148l3 -6M32 145l-9 1M32 145l5 -8M30 143l-5 -1M30 143l2 -4M29 141l-3 -1M29 141l2 -3M28 138l-0 -0M28 138l0 -0" stroke="rgb(169,169,169)" stroke-width="2.3" stroke-opacity="0.41"/><path d="M102 216L84 229M100 218l1 5M100 218l-5 -1M98 220l-0 5M98 220l-5 -3M95 221l-1 6M95 221l-5 -3M93 223l-1 7M93 223l-7 -1M91 224l1 9M91 224l-9 -1M88 226l-1 6M88 226l-6 -2M86 228l-0 2M86 228l-2 -1" stroke="rgb(126,126,126)" stroke-width="2.3" stroke-opacity="0.44"/><path d="M24 147L67 125M27 146l2 -7M27 146l7 3M29 145l1 -6M29 145l5 4M32 144l3 -14M32 144l13 7M34 142l3 -11M34 142l9 6M36 141l3 -17M36 141l16 8M39 140l1 -18M39 140l16 8M41 139l3 -11M41 139l11 4M44 137l3 -20M44 137l18 11M46 136l3 -14M46 136l14 5M48 135l2 -21M48 135l20 7M51 134l2 -17M51 134l15 9M53 133l1 -16M53 133l13 10M55 131l3 -16M55 131l14 8M58 130l2 -9M58 130l8 4M60 129l2 -8M60 129l7 3M63 128l0 -4M63 128l4 2M65 126l0 -0M65 126l0 0" stroke="rgb(187,187,187)" stroke-width="2.5" stroke-opacity="0.62"/><path d="M52 79L67 34M53 77l-4 -4M53 77l5 -3M54 74l-4 -5M54 74l6 -3M55 72l-7 -11M55 72l12 -4M55 69l-5 -8M55 69l8 -3M56 67l-7 -8M56 67l9 -5M57 64l-11 -11M57 64l14 -6M58 62l-5 -9M58 62l10 -5M59 59l-11 -14M59 59l15 -9M59 57l-9 -11M59 57l13 -5M60 54l-5 -7M60 54l8 -3M61 52l-10 -15M61 52l18 -2M62 49l-10 -12M62 49l14 -7M63 47l-6 -12M63 47l13 -4M63 44l-3 -5M63 44l6 -2M64 41l-4 -3M64 41l5 -1M65 39l-3 -3M65 39l4 -1M66 36l-0 -0M66 36l0 -0" stroke="rgb(85,85,85)" stroke-width="2.5" stroke-opacity="0.44"/><path d="M229 -1L253 6M232 -0l5 -3M232 -0l1 5M234 0l4 -5M234 0l1 6M237 1l4 -3M237 1l3 5M240 2l11 -6M240 2l5 11M242 3l8 -7M242 3l3 10M245 4l6 -5M245 4l3 7M248 4l5 -3M248 4l1 5M250 5l1 -1M250 5l1 1" stroke="rgb(164,164,164)" stroke-width="2.4" stroke-opacity="0.53"/><path d="M126 123L171 119M129 123l2 -4M129 123l2 3M131 123l7 -9M131 123l8 7M134 122l4 -6M134 122l4 6M137 122l8 -13M137 122l11 10M139 122l7 -9M139 122l7 9M142 122l6 -14M142 122l10 12M145 122l7 -12M145 122l9 10M147 121l6 -12M147 121l8 11M150 121l6 -10M150 121l9 8M152 121l5 -7M152 121l6 6M155 121l5 -6M155 121l5 6M158 121l5 -13M158 121l11 9M160 120l4 -6M160 120l5 6M163 120l2 -4M163 120l3 4M166 120l2 -2M166 120l2 2M168 120l0 -0M168 120l0 0" stroke="rgb(150,150,150)" stroke-width="2.3" stroke-opacity="0.65"/><path d="M203 158L214 186M204 161l4 1M204 161l-3 3M205 163l6 1M205 163l-4 4M206 166l10 0M206 166l-7 7M207 168l8 0M207 168l-3 7M208 171l12 5M208 171l-6 11M209 173l10 1M209 173l-6 8M210 176l7 0M210 176l-5 5M211 178l7 3M211 178l-4 7M212 181l4 1M212 181l-3 3M213 183l0 0M213 183l-0 0" stroke="rgb(116,116,116)" stroke-width="2.8" stroke-opacity="0.49"/><path d="M56 147L59 168M56 149l3 2M56 149l-2 3M57 152l5 3M57 152l-4 4M57 155l5 3M57 155l-3 4M58 158l4 3M58 158l-3 4M58 160l3 2M58 160l-2 3M58 163l5 3M58 163l-4 4M59 166l1 1M59 166l-1 1" stroke="rgb(158,158,158)" stroke-width="2.5" stroke-opacity="0.56"/><path d="M83 184L95 141M83 182l-4 -5M83 182l6 -2M84 179l-9 -8M84 179l10 -6M85 177l-10 -10M85 177l13 -4M86 174l-9 -16M86 174l17 -6M86 171l-10 -9M86 171l12 -6M87 169l-9 -14M87 169l16 -4M88 166l-12 -11M88 166l15 -7M88 164l-10 -19M88 164l19 -10M89 161l-14 -13M89 161l19 -4M90 159l-6 -11M90 159l12 -3M90 156l-8 -15M90 156l17 -3M91 154l-6 -11M91 154l12 -4M92 151l-5 -8M92 151l9 -2M93 148l-5 -9M93 148l10 -4M93 146l-2 -2M93 146l3 -2M94 143l-0 -0M94 143l0 -0" stroke="rgb(148,148,148)" stroke-width="2.8" stroke-opacity="0.60"/><path d="M169 128L198 127M171 128l3 -4M171 128l3 4M174 128l2 -4M174 128l2 4M177 128l4 -4M177 128l3 5M179 127l5 -9M179 127l7 8M182 127l4 -9M182 127l6 8M185 127l3 -5M185 127l4 5M187 127l3 -5M187 127l4 4M190 127l5 -6M190 127l6 6M193 127l2 -5M193 127l2 5M195 127l0 -0M195 127l0 0" stroke="rgb(166,166,166)" stroke-width="2.3" stroke-opacity="0.46"/><path d="M225 176L264 191M227 177l5 -4M227 177l1 6M230 178l6 -4M230 178l3 7M232 179l10 -8M232 179l1 13M235 180l10 -5M235 180l3 11M237 181l12 -8M237 181l5 13M239 182l7 -4M239 182l3 8M242 183l10 -5M242 183l3 10M244 184l11 -11M244 184l2 15M247 184l6 -5M247 184l1 8M249 185l12 -8M249 185l4 14M252 186l9 -4M252 186l1 9M254 187l5 -4M254 187l0 6M256 188l6 -5M256 188l1 8M259 189l4 -3M259 189l0 5M261 190l0 -0M261 190l0 0" stroke="rgb(96,96,96)" stroke-width="2.9" stroke-opacity="0.70"/><path d="M-32 60L-1 58M-30 60l3 -3M-30 60l2 3M-27 60l3 -6M-27 60l4 5M-24 60l7 -9M-24 60l7 9M-22 59l5 -5M-22 59l5 5M-19 59l8 -10M-19 59l8 10M-16 59l6 -8M-16 59l6 8M-14 59l3 -5M-14 59l4 4M-11 59l4 -9M-11 59l5 8M-8 59l3 -6M-8 59l4 6M-6 59l2 -2M-6 59l1 2M-3 59l0 -0M-3 59l0 0" stroke="rgb(144,144,144)" stroke-width="2.8" stroke-opacity="0.43"/><path d="M-11 107L28 135M-9 109l6 -1M-9 109l-1 6M-7 110l9 -3M-7 110l0 10M-5 112l6 -2M-5 112l1 6M-3 113l10 -6M-3 113l-1 11M-0 115l8 -4M-0 115l-1 9M2 117l10 -5M2 117l-1 11M4 118l12 -4M4 118l1 13M6 120l10 -5M6 120l1 11M8 121l16 -5M8 121l2 16M11 123l7 -4M11 123l-1 8M13 124l16 -6M13 124l3 17M15 126l8 -1M15 126l-1 8M17 128l10 -6M17 128l1 11M19 129l6 -1M19 129l1 7M22 131l4 -1M22 131l0 4M24 132l2 -1M24 132l0 2M26 134l0 -0M26 134l0 0" stroke="rgb(107,107,107)" stroke-width="2.8" stroke-opacity="0.56"/><path d="M5 171L-13 130M4 169l-8 -0M4 169l4 -7M3 166l-6 -2M3 166l4 -4M2 164l-7 -2M2 164l3 -7M0 162l-16 -5M0 162l6 -16M-1 159l-12 -4M-1 159l6 -11M-2 157l-16 -2M-2 157l6 -15M-3 154l-15 -6M-3 154l8 -14M-4 152l-18 -6M-4 152l13 -15M-5 149l-12 -3M-5 149l8 -10M-6 147l-9 -2M-6 147l5 -8M-7 144l-16 -0M-7 144l10 -13M-8 142l-9 -3M-8 142l5 -8M-9 140l-8 -2M-9 140l3 -8M-10 137l-8 -2M-10 137l3 -8M-11 135l-3 -0M-11 135l2 -2M-12 132l-0 -0M-12 132l0 -0" stroke="rgb(174,174,174)" stroke-width="2.4" stroke-opacity="0.45"/><path d="M27 -30L65 -8M29 -29l4 -1M29 -29l0 4M32 -27l8 -5M32 -27l-0 10M34 -26l7 -3M34 -26l2 8M36 -25l12 -3M36 -25l-1 12M39 -23l13 -8M39 -23l1 16M41 -22l16 -10M41 -22l-1 19M44 -20l17 -6M44 -20l3 18M46 -19l8 -5M46 -19l1 10M48 -18l18 -7M48 -18l2 19M51 -16l14 -10M51 -16l-0 17M53 -15l13 -9M53 -15l3 15M56 -13l11 -3M56 -13l0 11M58 -12l9 -4M58 -12l2 10M60 -11l4 -1M60 -11l0 4M63 -9l0 -0M63 -9l-0 0" stroke="rgb(113,113,113)" stroke-width="2.6" stroke-opacity="0.43"/><path d="M171 76L150 82M168 77l-1 4M168 77l-3 -3M165 78l-3 5M165 78l-4 -3M163 78l-2 7M163 78l-6 -5M160 79l-3 6M160 79l-6 -4M158 80l-1 5M158 80l-3 -4M155 80l-2 4M155 80l-4 -2M152 81l-1 2M152 81l-1 -1" stroke="rgb(138,138,138)" stroke-width="2.3" stroke-opacity="0.53"/><path d="M24 26L67 34M26 26l3 -4M26 26l1 5M29 27l9 -7M29 27l4 10M31 27l6 -7M31 27l5 8M34 28l11 -13M34 28l5 17M36 28l7 -11M36 28l5 12M39 29l8 -9M39 29l6 11M41 29l9 -6M41 29l4 10M44 30l11 -7M44 30l4 12M47 30l7 -9M47 30l6 10M49 30l8 -11M49 30l4 13M52 31l10 -15M52 31l7 16M54 31l11 -12M54 31l6 15M57 32l7 -6M57 32l3 8M59 32l4 -5M59 32l2 6M62 33l4 -3M62 33l3 4M65 33l0 -0M65 33l0 0" stroke="rgb(108,108,108)" stroke-width="2.3" stroke-opacity="0.40"/><path d="M176 29L133 46M174 30l-2 6M174 30l-5 -4M171 31l-2 6M171 31l-6 -3M169 32l-3 9M169 32l-9 -4M166 33l-5 14M166 33l-12 -9M164 34l-3 17M164 34l-14 -9M161 35l-6 17M161 35l-15 -10M159 36l-7 19M159 36l-15 -12M156 37l-1 18M156 37l-15 -11M153 38l-2 18M153 38l-16 -8M151 39l-4 14M151 39l-11 -9M148 40l-6 16M148 40l-13 -12M146 41l-4 18M146 41l-13 -13M143 42l-3 12M143 42l-11 -5M141 43l-1 5M141 43l-4 -3M138 44l-1 4M138 44l-4 -2M136 45l-0 0M136 45l-0 -0" stroke="rgb(120,120,120)" stroke-width="2.4" stroke-opacity="0.57"/><path d="M21 84L44 124M22 86l7 2M22 86l-4 6M24 89l5 -1M24 89l-3 4M25 91l9 0M25 91l-4 8M26 94l8 1M26 94l-3 8M28 96l15 4M28 96l-7 14M29 98l13 1M29 98l-7 11M31 101l14 2M31 101l-8 12M32 103l14 3M32 103l-6 13M33 105l16 5M33 105l-8 15M35 108l12 2M35 108l-4 12M36 110l9 1M36 110l-4 9M37 112l11 2M37 112l-5 10M39 115l8 -0M39 115l-4 7M40 117l5 -1M40 117l-2 5M42 120l3 1M42 120l-1 2M43 122l0 0M43 122l-0 0" stroke="rgb(148,148,148)" stroke-width="2.8" stroke-opacity="0.45"/><path d="M137 80L101 75M134 80l-6 4M134 80l-4 -6M132 79l-7 6M132 79l-6 -8M129 79l-5 5M129 79l-2 -7M126 79l-5 4M126 79l-4 -5M124 78l-6 5M124 78l-3 -7M121 78l-10 13M121 78l-5 -16M119 77l-7 11M119 77l-5 -12M116 77l-7 6M116 77l-4 -8M113 77l-4 6M113 77l-3 -7M111 76l-5 5M111 76l-2 -7M108 76l-4 4M108 76l-3 -5M106 76l-3 2M106 76l-2 -3M103 75l-0 0M103 75l-0 -0" stroke="rgb(137,137,137)" stroke-width="3.0" stroke-opacity="0.62"/><path d="M148 32L134 14M146 30l-3 0M146 30l1 -3M145 28l-4 0M145 28l2 -3M143 25l-7 0M143 25l2 -6M141 23l-7 1M141 23l3 -7M139 21l-4 1M139 21l1 -5M138 19l-3 0M138 19l1 -3M136 16l-2 -0M136 16l1 -2" stroke="rgb(107,107,107)" stroke-width="2.3" stroke-opacity="0.56"/><path d="M145 77L147 57M145 74l-2 -2M145 74l3 -2M145 71l-4 -4M145 71l6 -2M146 68l-5 -4M146 68l6 -3M146 65l-3 -3M146 65l4 -2M147 62l-3 -2M147 62l4 -2M147 59l-2 -2M147 59l3 -1" stroke="rgb(172,172,172)" stroke-width="2.6" stroke-opacity="0.44"/><path d="M-6 30L41 37M-3 31l6 -4M-3 31l2 7M-1 31l5 -4M-1 31l2 6M2 31l11 -9M2 31l6 13M4 32l12 -13M4 32l8 16M7 32l10 -7M7 32l7 10M10 33l11 -13M10 33l8 15M12 33l13 -14M12 33l7 18M15 33l10 -13M15 33l7 15M17 34l12 -19M17 34l7 22M20 34l13 -16M20 34l9 19M23 35l10 -8M23 35l5 12M25 35l8 -9M25 35l5 11M28 35l10 -10M28 35l8 12M30 36l6 -7M30 36l3 9M33 36l5 -4M33 36l3 6M36 37l2 -3M36 37l1 3M38 37l0 -0M38 37l0 0" stroke="rgb(152,152,152)" stroke-width="2.5" stroke-opacity="0.40"/><path d="M296 101L279 77M294 99l-5 -1M294 99l1 -5M293 97l-7 1M293 97l1 -7M291 94l-12 3M291 94l5 -11M290 92l-8 -2M290 92l4 -7M288 90l-7 -1M288 90l4 -6M286 88l-12 2M286 88l5 -10M285 86l-7 0M285 86l1 -7M283 84l-7 0M283 84l3 -6M282 81l-4 0M282 81l1 -4M280 79l-0 -0M280 79l0 -0" stroke="rgb(157,157,157)" stroke-width="2.5" stroke-opacity="0.57"/><path d="M274 30L238 18M272 29l-5 3M272 29l-1 -6M269 28l-7 7M269 28l-3 -10M266 27l-7 5M266 27l-3 -9M264 26l-9 7M264 26l-5 -10M261 25l-10 5M261 25l-5 -10M259 25l-11 10M259 25l-5 -14M256 24l-14 12M256 24l-4 -18M254 23l-8 8M254 23l-4 -11M251 22l-14 8M251 22l-2 -16M248 21l-11 6M248 21l-2 -12M246 20l-5 3M246 20l-2 -6M243 19l-4 2M243 19l-2 -4M241 18l-0 0M241 18l-0 -0" stroke="rgb(170,170,170)" stroke-width="2.7" stroke-opacity="0.41"/><path d="M69 157L115 149M72 156l2 -5M72 156l5 3M74 156l4 -7M74 156l5 6M77 155l2 -7M77 155l6 4M80 155l6 -11M80 155l7 10M82 155l9 -13M82 155l10 12M85 154l5 -11M85 154l9 8M88 154l10 -19M88 154l16 14M91 153l4 -13M91 153l10 9M93 153l5 -11M93 153l8 10M96 152l12 -16M96 152l15 13M99 152l7 -15M99 152l10 13M101 151l8 -11M101 151l11 8M104 151l4 -7M104 151l6 5M107 151l4 -5M107 151l5 4M109 150l1 -4M109 150l3 2M112 150l0 -0M112 150l0 0" stroke="rgb(171,171,171)" stroke-width="2.9" stroke-opacity="0.67"/><path d="M20 116L28 82M21 114l-4 -3M21 114l4 -2M22 111l-5 -5M22 111l6 -4M22 108l-5 -4M22 108l6 -1M23 106l-10 -11M23 106l14 -4M23 103l-8 -9M23 103l11 -6M24 100l-8 -10M24 100l12 -4M25 98l-4 -6M25 98l6 -4M25 95l-8 -9M25 95l11 -6M26 93l-8 -8M26 93l10 -5M26 90l-3 -6M26 90l6 -4M27 87l-2 -2M27 87l3 -1M28 85l-0 -0M28 85l0 -0" stroke="rgb(160,160,160)" stroke-width="2.5" stroke-opacity="0.41"/><path d="M184 63L162 96M183 65l1 3M183 65l-3 -0M181 67l2 5M181 67l-5 -1M180 69l4 9M180 69l-10 -1M178 72l4 13M178 72l-14 1M177 74l2 13M177 74l-13 0M175 76l4 9M175 76l-9 -1M174 78l5 14M174 78l-15 -1M172 80l3 7M172 80l-8 -1M171 83l4 11M171 83l-12 0M170 85l2 9M170 85l-9 1M168 87l4 9M168 87l-10 2M167 89l3 6M167 89l-7 -0M165 91l1 2M165 91l-3 0M164 94l0 0M164 94l-0 0" stroke="rgb(158,158,158)" stroke-width="2.6" stroke-opacity="0.53"/><path d="M45 20L83 30M48 21l3 -4M48 21l2 5M50 22l6 -6M50 22l2 8M53 22l8 -4M53 22l2 8M56 23l10 -9M56 23l7 12M58 24l13 -8M58 24l3 15M61 24l11 -10M61 24l7 13M63 25l8 -9M63 25l6 10M66 26l7 -5M66 26l2 8M68 26l11 -8M68 26l7 12M71 27l9 -11M71 27l4 14M73 28l5 -5M73 28l4 6M76 28l4 -3M76 28l1 5M78 29l2 -1M78 29l1 3M81 30l0 -0M81 30l0 0" stroke="rgb(100,100,100)" stroke-width="2.4" stroke-opacity="0.69"/><path d="M232 16L208 26M230 17l-1 3M230 17l-3 -2M228 18l-1 7M228 18l-6 -5M225 19l-1 5M225 19l-4 -3M223 20l-1 7M223 20l-6 -3M220 21l-1 5M220 21l-5 -2M218 22l-1 5M218 22l-4 -3M215 23l-3 6M215 23l-5 -4M213 24l-1 4M213 24l-4 -2M210 25l-0 1M210 25l-1 -0" stroke="rgb(169,169,169)" stroke-width="2.5" stroke-opacity="0.62"/><path d="M176 152L154 135M174 151l-6 2M174 151l1 -6M172 149l-9 4M172 149l0 -10M169 147l-7 2M169 147l-1 -7M167 145l-7 1M167 145l1 -7M165 144l-8 4M165 144l2 -9M163 142l-9 2M163 142l-0 -9M161 140l-5 1M161 140l1 -5M159 139l-4 0M159 139l1 -4M156 137l-1 0M156 137l0 -1" stroke="rgb(130,130,130)" stroke-width="2.4" stroke-opacity="0.58"/><path d="M292 8L280 -9M291 5l-3 -0M291 5l1 -3M289 3l-9 2M289 3l3 -9M287 1l-5 1M287 1l2 -5M285 -2l-9 1M285 -2l3 -8M284 -4l-4 -0M284 -4l1 -4M282 -6l-3 -0M282 -6l1 -2" stroke="rgb(131,131,131)" stroke-width="2.5" stroke-opacity="0.60"/><path d="M-24 150L14 179M-21 152l5 -1M-21 152l-1 5M-19 153l7 -2M-19 153l-1 7M-17 155l6 -2M-17 155l0 7M-15 156l14 -5M-15 156l1 15M-13 158l12 -1M-13 158l-1 12M-11 160l9 -1M-11 160l-0 9M-9 161l14 -3M-9 161l-1 14M-7 163l11 -5M-7 163l2 12M-5 164l17 -5M-5 164l2 18M-2 166l11 -4M-2 166l1 11M-0 168l17 -3M-0 168l-0 17M2 169l7 -2M2 169l-2 8M4 171l8 -1M4 171l-0 8M6 172l9 -2M6 172l1 9M8 174l7 -1M8 174l1 7M10 176l3 -1M10 176l-1 3M12 177l0 -0M12 177l0 0" stroke="rgb(160,160,160)" stroke-width="2.7" stroke-opacity="0.58"/><path d="M182 134L157 125M180 133l-2 2M180 133l-0 -3M177 132l-3 3M177 132l-1 -4M175 131l-4 2M175 131l-1 -4M172 130l-6 3M172 130l-3 -6M170 130l-4 3M170 130l-1 -5M167 129l-4 4M167 129l-1 -6M165 128l-5 4M165 128l-2 -6M162 127l-4 4M162 127l-2 -5M160 126l-1 1M160 126l-0 -1" stroke="rgb(160,160,160)" stroke-width="2.3" stroke-opacity="0.42"/><path d="M65 153L92 154M68 153l2 -3M68 153l1 3M71 153l3 -4M71 153l2 4M73 153l5 -7M73 153l5 7M76 153l5 -11M76 153l7 10M79 153l6 -9M79 153l5 10M81 153l8 -8M81 153l7 9M84 154l3 -5M84 154l2 5M86 154l2 -3M86 154l2 3M89 154l1 -1M89 154l1 1" stroke="rgb(152,152,152)" stroke-width="2.5" stroke-opacity="0.60"/><path d="M245 232L215 202M243 230l-5 0M243 230l1 -5M241 228l-8 0M241 228l0 -8M239 227l-13 4M239 227l0 -13M238 225l-13 5M238 225l2 -13M236 223l-14 4M236 223l-0 -15M234 221l-19 6M234 221l6 -19M232 219l-14 2M232 219l5 -13M230 217l-10 -0M230 217l2 -10M228 215l-20 0M228 215l1 -20M227 213l-13 4M227 213l3 -13M225 212l-14 -0M225 212l1 -14M223 210l-11 3M223 210l0 -11M221 208l-5 0M221 208l1 -5M219 206l-4 0M219 206l0 -4M217 204l-0 0M217 204l0 -0" stroke="rgb(83,83,83)" stroke-width="2.8" stroke-opacity="0.48"/><path d="M36 91L11 81M33 90l-3 2M33 90l-1 -3M31 89l-4 3M31 89l-1 -5M28 88l-5 3M28 88l-2 -5M26 87l-9 4M26 87l-3 -9M23 86l-7 5M23 86l-1 -9M21 85l-10 6M21 85l-3 -11M18 84l-4 4M18 84l-2 -5M16 83l-4 2M16 83l-1 -4M13 82l-1 1M13 82l-0 -1" stroke="rgb(145,145,145)" stroke-width="2.5" stroke-opacity="0.40"/><path d="M147 110L112 133M144 111l-1 4M144 111l-4 -2M142 113l-1 4M142 113l-4 -1M140 114l1 6M140 114l-6 -3M138 116l-2 13M138 116l-12 -3M136 117l-0 9M136 117l-8 -5M133 118l2 14M133 118l-14 -3M131 120l-1 7M131 120l-7 -3M129 121l-1 7M129 121l-7 -2M127 123l-2 14M127 123l-14 -4M125 124l1 8M125 124l-8 -2M122 125l-1 9M122 125l-9 -2M120 127l1 11M120 127l-10 -5M118 128l1 5M118 128l-4 -3M116 130l-1 4M116 130l-3 -1M114 131l-0 0M114 131l-0 -0" stroke="rgb(134,134,134)" stroke-width="2.6" stroke-opacity="0.48"/><path d="M285 105L298 152M286 108l8 4M286 108l-6 6M286 111l9 3M286 111l-6 8M287 113l16 3M287 113l-10 13M288 116l16 8M288 116l-11 14M289 118l11 7M289 118l-8 11M289 121l10 2M289 121l-7 7M290 124l15 8M290 124l-9 14M291 126l19 9M291 126l-11 18M291 129l15 5M291 129l-8 14M292 131l14 5M292 131l-11 11M293 134l15 2M293 134l-8 12M293 137l15 9M293 137l-13 11M294 139l12 6M294 139l-10 9M295 142l12 7M295 142l-10 9M296 144l10 4M296 144l-8 7M296 147l4 1M296 147l-2 3M297 150l0 0M297 150l-0 0" stroke="rgb(87,87,87)" stroke-width="2.8" stroke-opacity="0.60"/><path d="M283 9L275 -16M282 7l-3 -1M282 7l2 -2M281 4l-4 -1M281 4l3 -3M280 2l-6 -1M280 2l4 -5M280 -1l-8 -4M280 -1l6 -7M279 -3l-6 -2M279 -3l4 -4M278 -6l-9 -1M278 -6l7 -6M277 -9l-8 -2M277 -9l5 -5M277 -11l-3 -1M277 -11l2 -2M276 -14l-1 -0M276 -14l0 -1" stroke="rgb(156,156,156)" stroke-width="2.9" stroke-opacity="0.63"/><path d="M123 36L109 1M122 33l-3 -1M122 33l2 -3M121 31l-6 -2M121 31l4 -6M120 28l-8 -1M120 28l3 -8M119 26l-12 -2M119 26l6 -10M118 23l-14 -4M118 23l8 -11M117 21l-8 -3M117 21l5 -7M116 18l-13 -3M116 18l5 -12M115 16l-12 -1M115 16l6 -11M114 13l-8 -1M114 13l4 -7M113 11l-6 -3M113 11l4 -5M112 8l-9 -1M112 8l5 -8M111 6l-6 -0M111 6l3 -5M110 3l-0 -0M110 3l0 -0" stroke="rgb(123,123,123)" stroke-width="2.6" stroke-opacity="0.52"/><path d="M170 125L195 141M172 126l6 -1M172 126l1 6M175 128l4 -1M175 128l-1 4M177 129l7 -4M177 129l1 7M179 131l7 -4M179 131l1 8M181 132l9 -4M181 132l-0 10M184 134l5 -2M184 134l-1 5M186 135l7 -2M186 135l-1 7M188 137l6 -3M188 137l0 7M191 138l4 -2M191 138l1 5M193 140l0 -0M193 140l-0 0" stroke="rgb(162,162,162)" stroke-width="2.7" stroke-opacity="0.60"/><path d="M-14 10L29 7M-11 10l2 -3M-11 10l3 2M-9 9l4 -5M-9 9l4 5M-6 9l7 -8M-6 9l8 7M-3 9l3 -8M-3 9l4 8M-0 9l12 -14M-0 9l13 13M2 9l13 -14M2 9l14 13M5 9l6 -16M5 9l8 15M8 8l11 -15M8 8l10 16M10 8l7 -18M10 8l9 17M13 8l7 -15M13 8l9 13M16 8l6 -10M16 8l5 10M19 8l7 -8M19 8l7 8M21 8l4 -9M21 8l6 8M24 7l2 -5M24 7l4 4M27 7l0 -0M27 7l0 0" stroke="rgb(143,143,143)" stroke-width="2.8" stroke-opacity="0.46"/><path d="M-20 38L-12 77M-20 41l4 2M-20 41l-4 3M-19 43l10 2M-19 43l-8 6M-18 46l11 3M-18 46l-9 7M-18 49l12 4M-18 49l-10 8M-17 51l14 9M-17 51l-9 14M-17 54l16 4M-17 54l-10 13M-16 56l17 5M-16 56l-10 15M-16 59l10 3M-16 59l-7 7M-15 62l9 2M-15 62l-6 8M-15 64l15 3M-15 64l-8 12M-14 67l11 4M-14 67l-9 7M-14 69l7 3M-14 69l-4 6M-13 72l5 3M-13 72l-5 3M-13 75l0 0M-13 75l-0 0" stroke="rgb(136,136,136)" stroke-width="2.7" stroke-opacity="0.67"/><path d="M158 95L176 66M159 93l-1 -7M159 93l7 -2M160 91l-3 -7M160 91l7 1M162 88l-4 -12M162 88l13 1M163 86l-5 -9M163 86l10 0M165 84l-3 -8M165 84l8 -1M166 82l-5 -11M166 82l12 0M168 79l-4 -10M168 79l11 1M169 77l-3 -12M169 77l13 -3M170 75l-5 -7M170 75l8 -1M172 73l-6 -8M172 73l10 0M173 70l-2 -4M173 70l4 -0M175 68l-0 -0M175 68l0 0" stroke="rgb(146,146,146)" stroke-width="2.2" stroke-opacity="0.45"/><path d="M211 140L182 126M209 139l-3 3M209 139l-1 -4M206 138l-6 5M206 138l-0 -8M204 136l-11 6M204 136l-4 -12M201 135l-9 3M201 135l-2 -9M199 134l-9 5M199 134l0 -11M196 133l-11 4M196 133l-4 -11M194 132l-10 6M194 132l-3 -12M192 131l-8 4M192 131l-1 -9M189 130l-8 3M189 130l-1 -8M187 128l-3 2M187 128l-1 -4M184 127l-0 0M184 127l-0 -0" stroke="rgb(125,125,125)" stroke-width="2.8" stroke-opacity="0.46"/><path d="M177 116L174 90M177 113l-4 -1M177 113l3 -4M176 110l-5 -3M176 110l5 -4M176 108l-8 -4M176 108l7 -4M176 105l-7 -4M176 105l6 -5M175 102l-7 -4M175 102l7 -4M175 99l-4 -3M175 99l4 -3M174 96l-6 -2M174 96l5 -4M174 93l-2 -1M174 93l1 -1" stroke="rgb(177,177,177)" stroke-width="2.7" stroke-opacity="0.48"/><path d="M133 136L171 111M135 135l0 -6M135 135l5 3M138 133l-0 -7M138 133l6 4M140 132l0 -12M140 132l11 4M142 130l-1 -13M142 130l12 3M144 129l1 -12M144 129l11 5M146 127l1 -9M146 127l9 2M149 126l-0 -11M149 126l9 5M151 124l-1 -14M151 124l13 7M153 123l1 -12M153 123l11 5M155 121l-1 -9M155 121l8 5M157 120l3 -14M157 120l12 8M160 118l1 -8M160 118l7 3M162 117l1 -7M162 117l7 3M164 116l0 -6M164 116l6 2M166 114l-0 -3M166 114l3 2M168 113l-0 -0M168 113l0 0" stroke="rgb(125,125,125)" stroke-width="2.9" stroke-opacity="0.60"/><path d="M202 1L163 13M199 2l-1 5M199 2l-4 -2M196 3l-2 6M196 3l-5 -3M194 4l-4 7M194 4l-5 -6M191 5l-3 10M191 5l-8 -5M189 5l-7 13M189 5l-11 -10M186 6l-2 7M186 6l-7 -4M184 7l-5 15M184 7l-11 -12M181 8l-3 7M181 8l-5 -6M178 9l-5 9M178 9l-8 -5M176 9l-3 9M176 9l-7 -5M173 10l-2 7M173 10l-6 -4M171 11l-1 5M171 11l-4 -3M168 12l-1 4M168 12l-3 -2M166 13l-0 0M166 13l-0 -0" stroke="rgb(98,98,98)" stroke-width="3.0" stroke-opacity="0.49"/><path d="M65 195L28 184M62 194l-4 4M62 194l-1 -5M60 193l-4 3M60 193l-1 -5M57 192l-5 6M57 192l-2 -7M55 191l-11 6M55 191l-4 -12M52 191l-8 9M52 191l-4 -12M49 190l-10 10M49 190l-5 -13M47 189l-10 8M47 189l-6 -11M44 188l-9 10M44 188l-2 -13M41 187l-5 5M41 187l-4 -7M39 187l-7 4M39 187l-3 -8M36 186l-5 4M36 186l-2 -5M34 185l-3 3M34 185l-2 -4M31 184l-0 0M31 184l-0 -0" stroke="rgb(137,137,137)" stroke-width="2.5" stroke-opacity="0.44"/><path d="M301 45L281 42M298 44l-2 3M298 44l-2 -3M295 44l-3 2M295 44l-2 -3M292 44l-5 7M292 44l-4 -7M289 43l-6 5M289 43l-5 -7M286 43l-4 4M286 43l-2 -5M283 43l-1 2M283 43l-1 -2" stroke="rgb(156,156,156)" stroke-width="2.2" stroke-opacity="0.58"/><path d="M220 129L176 110M218 128l-5 3M218 128l-2 -5M215 127l-6 6M215 127l-3 -8M213 126l-5 3M213 126l-0 -6M210 125l-9 6M210 125l-3 -11M208 124l-9 8M208 124l-2 -12M205 123l-13 8M205 123l-1 -15M203 122l-13 8M203 122l-5 -15M200 121l-8 8M200 121l-2 -11M198 120l-7 5M198 120l-2 -8M196 118l-12 6M196 118l-1 -14M193 117l-9 8M193 117l-4 -11M191 116l-12 8M191 116l-3 -14M188 115l-7 6M188 115l-2 -9M186 114l-7 4M186 114l-2 -8M183 113l-4 2M183 113l-1 -5M181 112l-2 1M181 112l-1 -2M178 111l-0 0M178 111l-0 -0" stroke="rgb(121,121,121)" stroke-width="2.5" stroke-opacity="0.49"/><path d="M63 161L82 151M65 160l1 -4M65 160l3 2M68 158l0 -4M68 158l4 2M70 157l2 -7M70 157l6 3M72 156l-0 -6M72 156l6 3M75 155l-0 -7M75 155l6 3M77 153l-0 -4M77 153l3 2M79 152l-0 -2M79 152l1 1" stroke="rgb(144,144,144)" stroke-width="2.9" stroke-opacity="0.61"/><path d="M151 133L137 147M149 135l-0 5M149 135l-5 -1M147 137l-0 8M147 137l-8 -3M145 139l0 9M145 139l-9 -1M143 141l2 8M143 141l-8 0M141 143l0 5M141 143l-5 -2M139 145l-0 3M139 145l-3 -0" stroke="rgb(145,145,145)" stroke-width="2.9" stroke-opacity="0.62"/><path d="M196 17L226 3M199 16l0 -4M199 16l3 2M201 15l1 -5M201 15l4 2M204 13l0 -6M204 13l5 2M206 12l3 -9M206 12l7 6M209 11l1 -13M209 11l12 5M211 10l2 -10M211 10l9 5M214 9l2 -6M214 9l5 4M216 8l1 -8M216 8l7 5M218 7l1 -6M218 7l5 3M221 6l1 -4M221 6l4 3M223 4l0 -0M223 4l0 0" stroke="rgb(178,178,178)" stroke-width="2.7" stroke-opacity="0.50"/><path d="M6 25L-22 39M4 26l-1 7M4 26l-6 -2M2 27l-2 8M2 27l-8 -2M-1 29l-0 7M-1 29l-6 -4M-3 30l-4 15M-3 30l-12 -8M-5 31l-1 10M-5 31l-9 -4M-8 32l0 11M-8 32l-10 -4M-10 33l0 10M-10 33l-9 -5M-12 35l-1 12M-12 35l-11 -5M-15 36l-1 9M-15 36l-8 -4M-17 37l-2 7M-17 37l-6 -4M-19 38l-0 0M-19 38l-0 -0" stroke="rgb(126,126,126)" stroke-width="2.2" stroke-opacity="0.70"/><path d="M206 3L227 -21M208 1l-0 -5M208 1l5 1M210 -1l-1 -9M210 -1l9 1M211 -3l-0 -12M211 -3l12 3M213 -5l-2 -9M213 -5l9 2M215 -7l-2 -12M215 -7l12 -0M217 -9l-4 -10M217 -9l10 3M219 -11l-4 -12M219 -11l12 2M220 -13l-1 -12M220 -13l12 -0M222 -15l-0 -10M222 -15l10 1M224 -17l-2 -4M224 -17l5 1M226 -19l-0 -0M226 -19l0 0" stroke="rgb(177,177,177)" stroke-width="2.8" stroke-opacity="0.55"/><path d="M50 34L93 17M53 33l0 -7M53 33l5 5M55 32l4 -9M55 32l7 6M58 31l1 -8M58 31l7 4M60 30l1 -8M60 30l7 3M63 29l6 -16M63 29l14 10M65 28l5 -12M65 28l12 6M68 27l1 -12M68 27l9 8M70 26l7 -18M70 26l17 8M73 25l4 -12M73 25l11 6M75 24l7 -15M75 24l13 9M78 23l3 -9M78 23l8 4M80 22l0 -11M80 22l8 7M83 21l0 -9M83 21l8 4M85 20l1 -5M85 20l4 3M88 19l1 -4M88 19l3 3M90 18l0 -0M90 18l0 0" stroke="rgb(125,125,125)" stroke-width="2.5" stroke-opacity="0.51"/><path d="M298 64L264 50M295 63l-5 3M295 63l-2 -5M293 62l-8 8M293 62l-2 -11M290 61l-10 4M290 61l-3 -10M288 60l-9 4M288 60l-3 -10M286 59l-10 6M286 59l-5 -10M283 58l-7 7M283 58l-2 -9M281 57l-9 5M281 57l-3 -10M278 56l-11 5M278 56l-2 -12M276 55l-12 9M276 55l-1 -15M273 54l-10 7M273 54l-3 -12M271 53l-8 4M271 53l-4 -8M269 52l-3 3M269 52l-1 -4M266 51l-0 0M266 51l-0 -0" stroke="rgb(156,156,156)" stroke-width="2.9" stroke-opacity="0.45"/><path d="M142 4L146 42M142 7l3 2M142 7l-2 3M142 9l5 3M142 9l-4 5M143 12l11 7M143 12l-10 9M143 15l12 9M143 15l-11 10M143 18l7 4M143 18l-7 4M144 20l12 8M144 20l-11 9M144 23l12 6M144 23l-10 8M144 26l14 5M144 26l-13 7M145 29l15 6M145 29l-13 10M145 31l10 7M145 31l-8 9M145 34l9 5M145 34l-6 8M146 37l5 3M146 37l-4 4M146 39l0 0M146 39l-0 0" stroke="rgb(102,102,102)" stroke-width="2.9" stroke-opacity="0.55"/><path d="M83 181L46 165M81 180l-4 3M81 180l-2 -4M78 178l-7 3M78 178l-1 -8M76 177l-7 4M76 177l-0 -8M73 176l-10 6M73 176l-5 -11M71 175l-10 4M71 175l-2 -11M68 174l-9 4M68 174l-4 -9M66 173l-13 10M66 173l-5 -16M63 172l-10 5M63 172l-2 -12M61 171l-13 6M61 171l-5 -13M58 170l-11 6M58 170l-2 -13M56 169l-7 3M56 169l-3 -7M53 168l-8 5M53 168l-4 -9M51 167l-3 2M51 167l-1 -4M48 166l-0 0M48 166l-0 -0" stroke="rgb(145,145,145)" stroke-width="2.4" stroke-opacity="0.60"/><path d="M171 5L193 -34M172 3l-2 -7M172 3l7 -1M174 1l-2 -6M174 1l6 -1M175 -2l-4 -5M175 -2l6 -1M176 -4l-5 -12M176 -4l13 1M177 -6l-6 -12M177 -6l13 0M179 -9l-6 -12M179 -9l13 -3M180 -11l-8 -15M180 -11l17 -2M181 -13l-8 -17M181 -13l19 -0M183 -16l-4 -9M183 -16l10 -1M184 -18l-6 -8M184 -18l10 1M185 -20l-7 -11M185 -20l13 -3M186 -23l-7 -10M186 -23l13 -2M188 -25l-5 -8M188 -25l9 -2M189 -27l-1 -4M189 -27l4 -0M190 -30l-2 -3M190 -30l4 -1M192 -32l-0 -0M192 -32l0 -0" stroke="rgb(83,83,83)" stroke-width="2.9" stroke-opacity="0.64"/><path d="M26 24L1 21M23 24l-4 3M23 24l-2 -5M20 23l-4 4M20 23l-3 -5M18 23l-6 7M18 23l-5 -8M15 22l-3 6M15 22l-3 -6M12 22l-7 6M12 22l-3 -9M9 22l-6 6M9 22l-5 -7M6 21l-4 3M6 21l-3 -4M4 21l-2 1M4 21l-1 -2" stroke="rgb(161,161,161)" stroke-width="2.7" stroke-opacity="0.69"/><path d="M104 206L72 224M101 207l0 4M101 207l-4 -2M99 209l-1 5M99 209l-5 -2M96 210l-1 6M96 210l-5 -3M94 212l-2 8M94 212l-8 -2M92 213l-2 12M92 213l-11 -4M89 214l1 12M89 214l-11 -6M87 216l0 6M87 216l-5 -3M84 217l-1 6M84 217l-5 -3M82 219l-2 8M82 219l-6 -5M80 220l-1 5M80 220l-4 -2M77 221l0 5M77 221l-5 -1M75 223l-0 0M75 223l-0 -0" stroke="rgb(123,123,123)" stroke-width="2.7" stroke-opacity="0.42"/><path d="M161 141L143 124M159 139l-6 2M159 139l2 -6M157 137l-6 -0M157 137l2 -6M155 135l-6 -0M155 135l1 -5M153 133l-12 2M153 133l0 -12M151 131l-5 0M151 131l1 -5M149 129l-6 1M149 129l2 -6M147 127l-7 3M147 127l0 -7M145 125l-2 0M145 125l0 -2" stroke="rgb(136,136,136)" stroke-width="2.8" stroke-opacity="0.59"/><path d="M170 21L187 -24M171 19l-2 -3M171 19l3 -2M172 16l-5 -8M172 16l9 -2M173 14l-5 -6M173 14l7 -3M174 11l-7 -9M174 11l11 -1M175 9l-6 -7M175 9l9 -4M176 6l-7 -8M176 6l9 -4M177 4l-13 -13M177 4l17 -7M178 1l-10 -13M178 1l17 -1M179 -2l-7 -12M179 -2l14 -1M180 -4l-8 -8M180 -4l11 -4M181 -7l-8 -9M181 -7l12 -2M182 -9l-6 -7M182 -9l9 -0M183 -12l-6 -8M183 -12l10 -2M184 -14l-5 -9M184 -14l10 -3M185 -17l-3 -4M185 -17l5 -2M185 -19l-1 -3M185 -19l4 -1M186 -22l-0 -0M186 -22l0 -0" stroke="rgb(113,113,113)" stroke-width="2.7" stroke-opacity="0.63"/><path d="M86 -20L99 28M87 -17l6 2M87 -17l-5 4M88 -14l11 6M88 -14l-10 8M88 -12l11 4M88 -12l-6 10M89 -9l10 5M89 -9l-6 9M90 -6l15 7M90 -6l-9 13M90 -4l10 6M90 -4l-9 8M91 -1l15 6M91 -1l-8 14M92 1l21 13M92 1l-18 17M93 4l10 5M93 4l-7 9M93 7l16 4M93 7l-11 12M94 9l16 9M94 9l-11 15M95 12l11 4M95 12l-7 10M96 15l8 4M96 15l-4 8M96 17l7 2M96 17l-5 4M97 20l7 4M97 20l-6 6M98 23l3 2M98 23l-3 2M98 25l0 0M98 25l-0 0" stroke="rgb(115,115,115)" stroke-width="2.2" stroke-opacity="0.40"/><path d="M59 221L54 187M58 219l-4 -3M58 219l3 -3M58 216l-4 -2M58 216l4 -3M58 213l-11 -4M58 213l9 -6M57 211l-8 -5M57 211l8 -5M57 208l-6 -4M57 208l4 -6M57 205l-12 -5M57 205l11 -7M56 203l-7 -3M56 203l6 -5M56 200l-9 -5M56 200l8 -6M56 197l-8 -2M56 197l7 -4M55 195l-5 -3M55 195l4 -4M55 192l-5 -2M55 192l4 -4M55 190l-0 -0M55 190l0 -0" stroke="rgb(128,128,128)" stroke-width="2.5" stroke-opacity="0.55"/><path d="M171 167L181 192M172 170l5 2M172 170l-2 5M173 172l9 2M173 172l-6 7M174 174l10 3M174 174l-4 10M175 177l11 0M175 177l-6 10M176 179l9 4M176 179l-7 7M177 182l9 0M177 182l-5 7M178 184l6 2M178 184l-3 5M179 187l6 1M179 187l-3 5M180 189l1 0M180 189l-0 1" stroke="rgb(124,124,124)" stroke-width="2.9" stroke-opacity="0.51"/><path d="M286 32L267 43M284 33l-0 4M284 33l-4 -2M281 34l0 6M281 34l-5 -3M279 36l-2 8M279 36l-7 -4M277 37l-1 4M277 37l-4 -1M274 39l-1 4M274 39l-4 -1M272 40l0 5M272 40l-5 -2M270 41l0 2M270 41l-2 -1" stroke="rgb(142,142,142)" stroke-width="2.6" stroke-opacity="0.47"/><path d="M29 87L-20 96M26 88l-2 4M26 88l-3 -3M23 88l-6 9M23 88l-6 -9M21 89l-3 10M21 89l-8 -7M18 89l-8 10M18 89l-10 -8M15 90l-7 12M15 90l-10 -10M12 90l-7 17M12 90l-12 -14M10 91l-8 13M10 91l-8 -12M7 91l-8 11M7 91l-10 -9M4 92l-7 11M4 92l-10 -9M2 92l-2 9M2 92l-7 -7M-1 93l-4 10M-1 93l-7 -8M-4 93l-3 11M-4 93l-8 -8M-6 94l-4 13M-6 94l-9 -11M-9 94l-2 6M-9 94l-4 -5M-12 95l-5 6M-12 95l-6 -5M-14 95l-1 2M-14 95l-1 -1M-17 96l-0 0M-17 96l-0 -0" stroke="rgb(169,169,169)" stroke-width="2.5" stroke-opacity="0.57"/><path d="M-11 174L27 143M-9 172l-0 -7M-9 172l6 3M-7 170l-1 -10M-7 170l9 3M-5 169l-3 -13M-5 169l12 5M-3 167l0 -16M-3 167l15 1M-1 165l1 -10M-1 165l10 3M1 164l-1 -11M1 164l10 4M3 162l-4 -15M3 162l15 3M6 160l0 -16M6 160l16 2M8 158l1 -17M8 158l17 2M10 157l-2 -13M10 157l12 6M12 155l0 -12M12 155l11 5M14 153l-3 -14M14 153l13 7M16 151l0 -14M16 151l12 6M18 150l2 -13M18 150l12 6M20 148l0 -8M20 148l8 2M22 146l-1 -3M22 146l3 1M24 144l-0 -0M24 144l0 0" stroke="rgb(162,162,162)" stroke-width="2.7" stroke-opacity="0.54"/><path d="M48 160L22 140M46 158l-5 2M46 158l1 -6M44 157l-8 1M44 157l-0 -8M42 155l-5 2M42 155l1 -6M39 153l-9 3M39 153l2 -9M37 152l-9 3M37 152l-0 -10M35 150l-13 2M35 150l-1 -13M33 148l-11 1M33 148l-1 -11M31 147l-8 2M31 147l0 -8M28 145l-4 1M28 145l-1 -4M26 143l-3 0M26 143l0 -3M24 141l-0 0M24 141l-0 -0" stroke="rgb(153,153,153)" stroke-width="3.0" stroke-opacity="0.61"/><path d="M3 87L-4 111M2 90l2 3M2 90l-4 1M1 92l4 4M1 92l-6 2M0 95l7 6M0 95l-8 3M-0 98l6 7M-0 98l-8 5M-1 101l6 7M-1 101l-8 5M-2 103l5 6M-2 103l-8 1M-2 106l3 4M-2 106l-5 1M-3 109l2 1M-3 109l-2 1" stroke="rgb(154,154,154)" stroke-width="2.2" stroke-opacity="0.40"/><path d="M155 7L154 57M155 10l4 4M155 10l-4 4M155 12l7 4M155 12l-7 4M155 15l9 6M155 15l-8 7M155 18l11 6M155 18l-10 9M155 20l10 5M155 20l-10 4M155 23l14 8M155 23l-12 10M155 25l15 8M155 25l-13 11M155 28l15 9M155 28l-16 7M154 31l12 13M154 31l-13 12M154 33l12 12M154 33l-13 10M154 36l14 8M154 36l-13 9M154 38l9 6M154 38l-10 4M154 41l9 8M154 41l-9 8M154 44l6 4M154 44l-6 3M154 46l5 3M154 46l-5 3M154 49l5 3M154 49l-5 3M154 51l1 1M154 51l-1 1M154 54l0 0M154 54l-0 0" stroke="rgb(132,132,132)" stroke-width="2.4" stroke-opacity="0.46"/><path d="M7 194L54 183M10 194l2 -5M10 194l4 3M12 193l4 -7M12 193l7 5M15 192l5 -10M15 192l9 6M18 192l2 -12M18 192l7 10M20 191l4 -15M20 191l13 8M23 190l3 -9M23 190l7 6M26 190l9 -14M26 190l12 12M28 189l2 -9M28 189l8 5M31 189l4 -13M31 189l8 11M33 188l4 -15M33 188l13 10M36 187l5 -13M36 187l10 9M39 187l5 -11M39 187l9 8M41 186l4 -11M41 186l7 10M44 186l3 -11M44 186l9 6M46 185l2 -6M46 185l4 5M49 184l2 -3M49 184l3 2M52 184l0 -0M52 184l0 0" stroke="rgb(146,146,146)" stroke-width="2.2" stroke-opacity="0.41"/><path d="M183 89L157 58M182 87l-8 1M182 87l4 -8M180 85l-12 -1M180 85l4 -12M178 83l-8 1M178 83l2 -8M176 81l-9 1M176 81l3 -8M174 79l-12 1M174 79l3 -12M173 77l-11 -0M173 77l5 -10M171 75l-16 2M171 75l6 -15M169 73l-18 4M169 73l4 -18M167 70l-14 0M167 70l1 -14M166 68l-17 -1M166 68l3 -16M164 66l-14 0M164 66l6 -12M162 64l-5 -0M162 64l1 -5M160 62l-5 1M160 62l2 -5M159 60l-0 -0M159 60l0 -0" stroke="rgb(155,155,155)" stroke-width="2.5" stroke-opacity="0.55"/><path d="M-18 91L8 95M-16 92l5 -4M-16 92l2 6M-13 92l4 -4M-13 92l2 5M-11 93l5 -5M-11 93l4 5M-8 93l6 -6M-8 93l5 7M-5 93l5 -5M-5 93l4 5M-3 94l9 -8M-3 94l6 11M-0 94l3 -4M-0 94l3 4M2 95l3 -2M2 95l1 3M5 95l1 -1M5 95l1 1" stroke="rgb(182,182,182)" stroke-width="3.0" stroke-opacity="0.50"/><path d="M72 182L44 186M69 183l-2 2M69 183l-2 -3M66 183l-3 6M66 183l-4 -6M64 183l-4 6M64 183l-5 -5M61 184l-4 10M61 184l-8 -8M58 184l-6 8M58 184l-5 -9M55 184l-4 9M55 184l-7 -7M52 185l-3 7M52 185l-5 -6M49 185l-4 5M49 185l-4 -5M46 185l-0 1M46 185l-1 -1" stroke="rgb(126,126,126)" stroke-width="2.4" stroke-opacity="0.56"/><path d="M101 179L114 212M102 181l6 2M102 181l-3 5M103 184l6 3M103 184l-4 6M104 186l13 3M104 186l-9 11M105 189l11 5M105 189l-7 10M106 191l17 3M106 191l-8 15M107 194l16 2M107 194l-11 12M108 197l15 3M108 197l-8 13M109 199l11 3M109 199l-8 9M110 202l7 0M110 202l-3 6M111 204l7 1M111 204l-4 7M112 207l5 2M112 207l-4 4M113 209l0 0M113 209l-0 0" stroke="rgb(138,138,138)" stroke-width="2.7" stroke-opacity="0.61"/><path d="M239 167L219 158M236 166l-3 2M236 166l-0 -3M234 165l-4 2M234 165l-0 -4M231 163l-4 4M231 163l-2 -5M229 162l-4 2M229 162l-0 -5M226 161l-4 3M226 161l-1 -5M224 160l-3 2M224 160l-1 -3M221 159l-1 0M221 159l-0 -1" stroke="rgb(115,115,115)" stroke-width="2.8" stroke-opacity="0.46"/><path d="M117 96L135 105M120 97l4 -3M120 97l1 5M122 98l5 -2M122 98l-1 5M125 100l9 -3M125 100l0 10M127 101l5 -2M127 101l1 6M130 103l7 -3M130 103l1 8M132 104l1 -1M132 104l0 2" stroke="rgb(172,172,172)" stroke-width="2.5" stroke-opacity="0.62"/><path d="M227 34L257 42M230 35l3 -3M230 35l1 4M233 36l9 -5M233 36l2 10M235 36l8 -9M235 36l4 12M238 37l6 -5M238 37l2 7M241 38l8 -8M241 38l5 10M243 39l7 -7M243 39l2 10M246 39l9 -11M246 39l6 13M249 40l6 -5M249 40l3 7M252 41l3 -2M252 41l1 4M254 41l0 -0M254 41l0 0" stroke="rgb(188,188,188)" stroke-width="2.5" stroke-opacity="0.50"/><path d="M64 81L92 56M66 79l-1 -5M66 79l5 1M68 77l-2 -11M68 77l10 2M70 75l-1 -7M70 75l7 0M72 73l-0 -11M72 73l11 2M74 72l-0 -9M74 72l9 2M76 70l-0 -9M76 70l8 3M78 68l-2 -8M78 68l8 2M80 66l-2 -9M80 66l9 1M82 65l1 -10M82 65l10 1M84 63l-2 -12M84 63l12 2M86 61l0 -8M86 61l8 1M88 59l-1 -6M88 59l6 1M90 57l-0 -0M90 57l0 0" stroke="rgb(116,116,116)" stroke-width="2.7" stroke-opacity="0.67"/><path d="M309 33L272 29M306 32l-3 4M306 32l-2 -5M304 32l-4 5M304 32l-3 -5M301 32l-5 6M301 32l-3 -7M298 32l-5 7M298 32l-3 -8M296 31l-8 8M296 31l-7 -9M293 31l-7 11M293 31l-7 -11M291 31l-5 8M291 31l-6 -8M288 31l-7 10M288 31l-6 -10M285 31l-5 7M285 31l-5 -7M283 30l-6 9M283 30l-4 -10M280 30l-7 6M280 30l-5 -7M277 30l-3 4M277 30l-2 -5M275 30l-0 0M275 30l-0 -0" stroke="rgb(143,143,143)" stroke-width="2.6" stroke-opacity="0.63"/><path d="M-28 105L18 116M-25 106l2 -3M-25 106l1 3M-22 106l7 -6M-22 106l3 9M-20 107l11 -6M-20 107l4 12M-17 108l7 -9M-17 108l4 11M-15 108l8 -5M-15 108l3 9M-12 109l7 -6M-12 109l2 9M-10 110l8 -5M-10 110l3 9M-7 110l8 -10M-7 110l6 12M-5 111l12 -10M-5 111l3 15M-2 111l14 -9M-2 111l7 15M1 112l9 -8M1 112l4 11M3 113l11 -7M3 113l4 12M6 113l9 -8M6 113l6 11M8 114l5 -4M8 114l3 6M11 114l4 -3M11 114l1 4M13 115l2 -2M13 115l2 3M16 116l0 -0M16 116l0 0" stroke="rgb(170,170,170)" stroke-width="2.5" stroke-opacity="0.63"/><path d="M128 172L124 196M127 174l2 2M127 174l-3 1M127 177l4 2M127 177l-4 1M126 180l3 4M126 180l-5 2M126 182l4 3M126 182l-4 2M125 185l5 5M125 185l-5 4M125 188l6 4M125 188l-6 5M125 190l3 2M125 190l-3 2M124 193l1 1M124 193l-1 0" stroke="rgb(110,110,110)" stroke-width="2.7" stroke-opacity="0.57"/><path d="M281 26L304 28M283 27l2 -3M283 27l2 3M286 27l3 -3M286 27l2 3M289 27l2 -4M289 27l1 4M291 27l5 -5M291 27l4 6M294 27l6 -7M294 27l3 8M296 27l6 -6M296 27l4 7M299 28l4 -4M299 28l2 6M302 28l1 -1M302 28l1 1" stroke="rgb(140,140,140)" stroke-width="3.0" stroke-opacity="0.63"/><path d="M89 142L121 136M92 142l2 -6M92 142l4 4M95 141l2 -6M95 141l5 4M97 141l3 -8M97 141l6 7M100 140l4 -6M100 140l6 4M102 140l6 -9M102 140l6 9M105 139l3 -7M105 139l5 6M108 139l5 -7M108 139l7 5M110 138l5 -9M110 138l6 8M113 138l3 -5M113 138l4 4M115 137l2 -4M115 137l3 2M118 137l0 -0M118 137l0 0" stroke="rgb(151,151,151)" stroke-width="2.8" stroke-opacity="0.49"/><path d="M113 44L78 51M111 45l-2 5M111 45l-3 -4M108 45l-4 6M108 45l-4 -6M105 46l-4 8M105 46l-7 -5M103 46l-6 11M103 46l-10 -8M100 47l-2 9M100 47l-6 -8M97 47l-5 10M97 47l-8 -7M94 48l-5 10M94 48l-6 -9M92 48l-3 6M92 48l-5 -5M89 49l-5 10M89 49l-7 -9M86 49l-4 6M86 49l-4 -6M83 50l-1 4M83 50l-2 -3M81 50l-0 0M81 50l-0 -0" stroke="rgb(118,118,118)" stroke-width="2.3" stroke-opacity="0.41"/><path d="M114 206L65 200M111 205l-4 5M111 205l-2 -5M109 205l-6 9M109 205l-6 -9M106 205l-7 10M106 205l-5 -12M103 204l-6 7M103 204l-6 -7M100 204l-12 15M100 204l-11 -16M98 204l-12 11M98 204l-7 -15M95 203l-11 16M95 203l-6 -19M92 203l-12 14M92 203l-8 -16M90 203l-9 7M90 203l-4 -11M87 202l-12 18M87 202l-12 -17M84 202l-12 11M84 202l-9 -14M81 202l-9 14M81 202l-11 -13M79 201l-9 12M79 201l-6 -13M76 201l-5 5M76 201l-3 -7M73 201l-4 4M73 201l-3 -5M71 200l-2 2M71 200l-1 -2M68 200l-0 0M68 200l-0 -0" stroke="rgb(136,136,136)" stroke-width="2.9" stroke-opacity="0.52"/><path d="M96 8L78 20M94 9l-1 4M94 9l-4 -2M91 11l1 8M91 11l-8 -1M89 12l-1 5M89 12l-4 -2M87 14l0 4M87 14l-4 -2M85 16l-0 8M85 16l-7 -2M82 17l0 4M82 17l-4 -1M80 19l-0 2M80 19l-2 -1" stroke="rgb(105,105,105)" stroke-width="2.2" stroke-opacity="0.62"/><path d="M167 22L172 69M167 25l3 1M167 25l-2 3M167 27l5 3M167 27l-4 5M168 30l10 8M168 30l-11 7M168 33l11 4M168 33l-9 8M168 35l10 6M168 35l-9 8M169 38l9 6M169 38l-8 7M169 40l15 5M169 40l-13 8M169 43l11 8M169 43l-11 9M169 46l9 3M169 46l-8 6M170 48l10 6M170 48l-10 6M170 51l9 7M170 51l-9 7M170 54l8 6M170 54l-9 6M171 56l6 4M171 56l-6 5M171 59l5 3M171 59l-5 4M171 61l7 3M171 61l-6 5M171 64l3 1M171 64l-3 2M172 67l0 0M172 67l-0 0" stroke="rgb(152,152,152)" stroke-width="2.5" stroke-opacity="0.53"/><path d="M35 131L74 133M38 131l2 -3M38 131l2 4M41 131l4 -5M41 131l3 5M43 131l7 -9M43 131l6 10M46 132l7 -6M46 132l6 7M49 132l9 -9M49 132l5 12M52 132l8 -7M52 132l5 10M54 132l8 -12M54 132l8 12M57 132l9 -14M57 132l6 15M60 132l10 -10M60 132l8 12M63 132l4 -6M63 132l4 6M65 133l5 -6M65 133l5 6M68 133l3 -4M68 133l3 4M71 133l0 -0M71 133l0 0" stroke="rgb(99,99,99)" stroke-width="2.9" stroke-opacity="0.41"/><path d="M165 92L151 120M164 94l2 4M164 94l-5 0M162 97l5 6M162 97l-8 -0M161 99l3 5M161 99l-6 -0M160 102l2 6M160 102l-6 2M159 104l4 5M159 104l-7 -0M158 107l2 6M158 107l-6 2M156 110l4 9M156 110l-10 1M155 112l3 5M155 112l-6 1M154 115l2 6M154 115l-6 1M153 117l0 0M153 117l-0 0" stroke="rgb(125,125,125)" stroke-width="2.4" stroke-opacity="0.46"/><path d="M91 -5L47 -22M88 -6l-7 4M88 -6l-1 -8M86 -7l-8 4M86 -7l-1 -9M83 -8l-6 4M83 -8l-0 -7M81 -9l-11 7M81 -9l-5 -12M78 -10l-10 8M78 -10l-2 -12M76 -11l-12 11M76 -11l-5 -16M74 -12l-10 8M74 -12l-1 -13M71 -13l-13 12M71 -13l-2 -18M69 -13l-8 6M69 -13l-3 -9M66 -14l-13 11M66 -14l-2 -17M64 -15l-9 5M64 -15l-4 -10M62 -16l-13 10M62 -16l-3 -16M59 -17l-9 8M59 -17l-3 -12M57 -18l-5 5M57 -18l-1 -7M54 -19l-6 4M54 -19l-2 -6M52 -20l-2 1M52 -20l-0 -2M49 -21l-0 0M49 -21l-0 -0" stroke="rgb(126,126,126)" stroke-width="2.7" stroke-opacity="0.51"/><path d="M245 145L259 161M247 147l6 1M247 147l-2 5M248 149l8 -1M248 149l-1 8M250 151l8 -2M250 151l-2 8M252 153l8 -1M252 153l-3 7M253 155l9 -1M253 155l-2 9M255 157l4 -0M255 157l-1 3M257 159l2 -0M257 159l-0 2" stroke="rgb(98,98,98)" stroke-width="2.7" stroke-opacity="0.45"/><path d="M41 175L45 149M42 172l-3 -2M42 172l3 -2M42 169l-4 -5M42 169l6 -2M43 166l-4 -3M43 166l5 -3M43 163l-5 -6M43 163l7 -3M43 161l-4 -3M43 161l5 -2M44 158l-4 -4M44 158l5 -2M44 155l-3 -2M44 155l3 -1M44 152l-2 -1M44 152l2 -1" stroke="rgb(164,164,164)" stroke-width="2.3" stroke-opacity="0.45"/><path d="M113 44L66 61M111 44l-1 3M111 44l-3 -2M108 45l-1 7M108 45l-7 -3M106 46l-1 7M106 46l-5 -5M103 47l-3 13M103 47l-12 -6M101 48l-3 10M101 48l-8 -6M98 49l-4 14M98 49l-13 -6M96 50l-7 19M96 50l-17 -11M94 51l-1 19M94 51l-16 -10M91 52l-2 15M91 52l-12 -8M89 53l-4 10M89 53l-9 -6M86 54l-4 8M86 54l-7 -6M84 55l-2 17M84 55l-15 -9M81 55l-1 11M81 55l-10 -5M79 56l-3 10M79 56l-8 -7M76 57l-0 10M76 57l-7 -7M74 58l-1 7M74 58l-6 -4M71 59l-0 2M71 59l-2 -1M69 60l-0 0M69 60l-0 -0" stroke="rgb(112,112,112)" stroke-width="2.4" stroke-opacity="0.51"/><path d="M40 115L12 128M38 116l-2 5M38 116l-4 -3M35 117l-1 4M35 117l-4 -1M33 118l0 10M33 118l-8 -6M30 120l-1 9M30 120l-7 -5M27 121l-1 6M27 121l-6 -3M25 122l-1 7M25 122l-6 -3M22 123l-1 6M22 123l-5 -3M20 125l-1 5M20 125l-5 -2M17 126l-1 5M17 126l-4 -3M15 127l-0 0M15 127l-0 -0" stroke="rgb(127,127,127)" stroke-width="2.5" stroke-opacity="0.55"/><path d="M119 83L111 110M118 86l3 4M118 86l-5 2M117 89l3 4M117 89l-5 1M116 91l7 6M116 91l-8 3M115 94l4 7M115 94l-7 3M115 97l4 7M115 97l-8 3M114 99l9 9M114 99l-12 4M113 102l4 5M113 102l-6 2M112 105l3 5M112 105l-6 2M112 107l1 1M112 107l-1 1" stroke="rgb(167,167,167)" stroke-width="2.8" stroke-opacity="0.59"/><path d="M238 112L220 128M236 114l-0 4M236 114l-4 -1M234 115l0 8M234 115l-7 -2M232 117l-0 5M232 117l-5 -2M230 119l1 6M230 119l-6 -2M228 121l1 9M228 121l-9 -2M226 122l-0 6M226 122l-6 -2M224 124l1 5M224 124l-5 -1M222 126l0 1M222 126l-1 -0" stroke="rgb(84,84,84)" stroke-width="2.8" stroke-opacity="0.59"/><path d="M192 104L223 99M195 104l2 -4M195 104l3 3M198 103l4 -8M198 103l6 7M201 103l2 -8M201 103l6 6M203 102l6 -11M203 102l10 8M206 102l2 -7M206 102l6 4M209 101l2 -7M209 101l6 5M212 101l5 -9M212 101l7 6M214 101l3 -9M214 101l7 6M217 100l1 -3M217 100l3 2M220 100l0 -0M220 100l0 0" stroke="rgb(123,123,123)" stroke-width="2.4" stroke-opacity="0.48"/><path d="M-17 84L12 113M-15 86l5 -1M-15 86l-1 5M-13 88l8 -1M-13 88l-1 8M-11 90l7 0M-11 90l-2 7M-9 92l14 -5M-9 92l-1 15M-7 94l10 0M-7 94l-0 10M-5 96l16 -2M-5 96l-2 16M-3 98l10 -2M-3 98l-1 10M-2 100l18 1M-2 100l-6 16M0 102l11 -2M0 102l-2 11M2 104l8 -3M2 104l-2 9M4 105l9 -3M4 105l-2 10M6 107l9 -0M6 107l-1 9M8 109l3 -1M8 109l-0 3M10 111l0 -0M10 111l-0 0" stroke="rgb(177,177,177)" stroke-width="2.9" stroke-opacity="0.68"/><path d="M124 193L147 154M126 190l-3 -5M126 190l6 -1M127 188l-3 -10M127 188l10 1M128 186l-5 -8M128 186l9 1M130 184l-2 -10M130 184l11 -0M131 181l-4 -13M131 181l13 1M132 179l-5 -12M132 179l13 -2M134 177l-7 -15M134 177l16 -4M135 174l-6 -18M135 174l18 -4M136 172l-6 -15M136 172l16 1M138 170l-5 -11M138 170l12 0M139 168l-4 -15M139 168l15 -4M141 165l-3 -10M141 165l11 1M142 163l-3 -7M142 163l8 -2M143 161l-2 -5M143 161l5 -1M145 159l-1 -2M145 159l3 0M146 156l-0 -0M146 156l0 -0" stroke="rgb(124,124,124)" stroke-width="2.9" stroke-opacity="0.68"/><path d="M50 2L65 -13M52 -0l-1 -4M52 -0l4 1M54 -2l-0 -4M54 -2l4 1M56 -4l-1 -6M56 -4l6 1M57 -6l-1 -10M57 -6l9 3M59 -8l-1 -4M59 -8l4 0M61 -10l-1 -4M61 -10l4 1M63 -11l-0 -1M63 -11l1 0" stroke="rgb(113,113,113)" stroke-width="2.7" stroke-opacity="0.60"/><path d="M254 47L214 34M252 46l-5 5M252 46l-1 -7M249 46l-6 4M249 46l-2 -7M246 45l-13 9M246 45l-3 -16M244 44l-8 8M244 44l-2 -11M241 43l-16 13M241 43l-5 -20M239 42l-8 8M239 42l-5 -11M236 42l-8 8M236 42l-3 -11M234 41l-13 8M234 41l-2 -15M231 40l-12 13M231 40l-6 -16M229 39l-11 9M229 39l-6 -13M226 38l-6 5M226 38l-3 -8M224 38l-10 9M224 38l-3 -13M221 37l-7 4M221 37l-2 -8M219 36l-4 3M219 36l-2 -5M216 35l-0 0M216 35l-0 -0" stroke="rgb(183,183,183)" stroke-width="2.9" stroke-opacity="0.63"/><path d="M180 145L163 158M178 146l-1 6M178 146l-5 -3M176 148l0 6M176 148l-6 -1M174 150l1 5M174 150l-5 -1M172 151l1 8M172 151l-7 -3M169 153l1 7M169 153l-6 -3M167 154l-0 4M167 154l-4 -1M165 156l0 3M165 156l-3 -0" stroke="rgb(124,124,124)" stroke-width="3.0" stroke-opacity="0.61"/><path d="M182 22L168 69M181 25l4 7M181 25l-8 1M180 28l8 8M180 28l-11 3M180 30l6 12M180 30l-12 5M179 33l4 8M179 33l-9 3M178 35l6 8M178 35l-9 4M177 38l9 9M177 38l-12 1M177 41l12 14M177 41l-17 8M176 43l12 11M176 43l-14 8M175 46l8 13M175 46l-14 6M174 48l8 9M174 48l-11 4M173 51l12 18M173 51l-21 5M173 54l9 9M173 54l-11 6M172 56l9 15M172 56l-17 4M171 59l4 8M171 59l-8 3M170 62l4 4M170 62l-5 2M169 64l1 2M169 64l-2 1M169 67l0 0M169 67l-0 0" stroke="rgb(133,133,133)" stroke-width="2.9" stroke-opacity="0.52"/><path d="M-29 60L-8 41M-26 58l-1 -4M-26 58l4 1M-24 56l-1 -5M-24 56l5 0M-22 54l-2 -9M-22 54l9 1M-20 52l-0 -6M-20 52l6 0M-18 51l-3 -11M-18 51l11 3M-16 49l-1 -8M-16 49l8 1M-14 47l-1 -7M-14 47l7 3M-12 45l0 -4M-12 45l4 1M-10 43l-0 -1M-10 43l1 0" stroke="rgb(136,136,136)" stroke-width="2.4" stroke-opacity="0.62"/><path d="M172 199L196 159M173 196l-3 -6M173 196l6 -1M174 194l-2 -5M174 194l6 -1M176 192l-5 -7M176 192l9 1M177 189l-2 -8M177 189l8 1M179 187l-3 -13M179 187l13 2M180 185l-2 -10M180 185l10 1M182 182l-4 -17M182 182l17 -0M183 180l-10 -15M183 180l18 2M185 178l-9 -14M185 178l17 -2M186 175l-8 -13M186 175l15 1M188 173l-7 -11M188 173l13 1M189 171l-8 -12M189 171l14 1M190 168l-2 -6M190 168l7 -0M192 166l-1 -4M192 166l4 0M193 164l-2 -4M193 164l4 -0M195 162l-0 -0M195 162l0 0" stroke="rgb(120,120,120)" stroke-width="2.9" stroke-opacity="0.48"/><path d="M24 57L49 68M26 58l5 -2M26 58l1 5M29 59l8 -5M29 59l3 9M31 60l9 -7M31 60l1 11M34 61l6 -6M34 61l3 8M36 62l11 -8M36 62l5 12M39 63l5 -4M39 63l0 7M41 64l4 -3M41 64l0 5M44 65l5 -4M44 65l0 6M46 67l1 -0M46 67l0 1" stroke="rgb(105,105,105)" stroke-width="2.8" stroke-opacity="0.52"/><path d="M114 167L90 165M111 167l-4 5M111 167l-3 -5M109 167l-3 4M109 167l-3 -4M106 166l-6 5M106 166l-4 -7M104 166l-4 7M104 166l-5 -6M101 166l-3 4M101 166l-3 -4M98 166l-3 3M98 166l-2 -4M96 166l-3 3M96 166l-2 -4M93 166l-1 1M93 166l-1 -1" stroke="rgb(121,121,121)" stroke-width="2.3" stroke-opacity="0.53"/><path d="M81 208L34 221M78 209l-3 7M78 209l-6 -4M75 210l-5 11M75 210l-10 -6M73 210l-2 10M73 210l-8 -6M70 211l-2 16M70 211l-11 -11M68 212l-5 17M68 212l-16 -9M65 213l-7 15M65 213l-12 -12M62 213l-7 19M62 213l-15 -14M60 214l-3 10M60 214l-8 -7M57 215l-10 18M57 215l-18 -11M55 215l-5 18M55 215l-14 -11M52 216l-10 17M52 216l-13 -15M49 217l-4 8M49 217l-7 -6M47 218l-2 7M47 218l-6 -4M44 218l-3 11M44 218l-10 -7M42 219l-1 9M42 219l-6 -6M39 220l-1 2M39 220l-2 -1M36 221l-0 0M36 221l-0 -0" stroke="rgb(155,155,155)" stroke-width="2.4" stroke-opacity="0.54"/><path d="M1 121L-6 75M1 118l-5 -2M1 118l4 -3M0 115l-8 -4M0 115l7 -5M0 113l-11 -5M0 113l8 -9M-0 110l-11 -4M-0 110l9 -7M-1 107l-10 -7M-1 107l10 -8M-1 105l-12 -5M-1 105l9 -9M-2 102l-7 -4M-2 102l6 -5M-2 99l-8 -5M-2 99l6 -7M-2 97l-8 -5M-2 97l6 -6M-3 94l-15 -6M-3 94l9 -13M-3 91l-9 -3M-3 91l6 -8M-4 88l-11 -4M-4 88l7 -9M-4 86l-4 -3M-4 86l3 -4M-5 83l-5 -4M-5 83l4 -5M-5 80l-3 -2M-5 80l3 -2M-5 78l-0 -0M-5 78l0 -0" stroke="rgb(144,144,144)" stroke-width="2.9" stroke-opacity="0.50"/><path d="M14 117L15 70M14 115l-2 -2M14 115l3 -2M14 112l-7 -4M14 112l6 -5M14 109l-8 -6M14 109l8 -6M14 107l-6 -5M14 107l6 -5M14 104l-10 -9M14 104l12 -5M14 102l-7 -7M14 102l8 -7M14 99l-14 -7M14 99l14 -6M14 96l-11 -7M14 96l11 -8M14 94l-9 -10M14 94l12 -6M14 91l-10 -7M14 91l9 -8M15 89l-9 -9M15 89l11 -4M15 86l-6 -5M15 86l5 -5M15 83l-6 -5M15 83l5 -5M15 81l-7 -5M15 81l8 -4M15 78l-4 -3M15 78l4 -3M15 76l-3 -1M15 76l2 -2M15 73l-0 -0M15 73l0 -0" stroke="rgb(164,164,164)" stroke-width="2.5" stroke-opacity="0.59"/><path d="M12 118L-21 91M10 116l-4 1M10 116l1 -4M8 115l-10 3M8 115l1 -10M6 113l-9 3M6 113l-1 -10M4 111l-12 3M4 111l1 -13M2 109l-15 2M2 109l1 -15M-0 108l-17 3M-0 108l2 -17M-2 106l-10 4M-2 106l2 -11M-4 104l-9 1M-4 104l0 -9M-6 103l-11 5M-6 103l3 -12M-8 101l-12 1M-8 101l1 -12M-10 99l-14 1M-10 99l1 -14M-12 97l-7 2M-12 97l-0 -7M-15 96l-4 1M-15 96l0 -4M-17 94l-3 1M-17 94l-0 -3M-19 92l-0 0M-19 92l-0 -0" stroke="rgb(152,152,152)" stroke-width="2.8" stroke-opacity="0.61"/><path d="M49 166L75 163M51 165l2 -3M51 165l2 3M54 165l4 -5M54 165l4 5M57 165l5 -8M57 165l8 6M59 164l3 -4M59 164l3 4M62 164l4 -10M62 164l8 7M64 164l4 -5M64 164l4 5M67 164l5 -6M67 164l5 6M70 163l1 -3M70 163l2 3M72 163l1 -1M72 163l1 1" stroke="rgb(145,145,145)" stroke-width="2.7" stroke-opacity="0.44"/><path d="M-9 68L-23 36M-10 65l-6 -0M-10 65l3 -5M-11 63l-8 -2M-11 63l5 -6M-12 60l-8 -2M-12 60l5 -6M-13 58l-9 -2M-13 58l4 -9M-14 55l-15 -3M-14 55l8 -13M-15 53l-8 -2M-15 53l4 -8M-16 51l-8 -2M-16 51l4 -8M-17 48l-11 -4M-17 48l8 -9M-18 46l-11 -5M-18 46l6 -10M-19 43l-8 -3M-19 43l6 -7M-20 41l-6 -2M-20 41l3 -6M-21 38l-0 -0M-21 38l0 -0" stroke="rgb(161,161,161)" stroke-width="2.2" stroke-opacity="0.43"/><path d="M244 -39L223 1M243 -36l3 4M243 -36l-5 -0M242 -34l5 8M242 -34l-9 1M240 -32l4 9M240 -32l-10 0M239 -29l7 12M239 -29l-14 4M238 -27l5 10M238 -27l-12 -1M237 -25l4 9M237 -25l-10 0M235 -22l6 12M235 -22l-13 1M234 -20l3 9M234 -20l-10 1M233 -18l7 11M233 -18l-12 2M232 -16l6 8M232 -16l-10 -1M230 -13l5 7M230 -13l-8 1M229 -11l3 5M229 -11l-6 1M228 -9l4 10M228 -9l-10 3M227 -6l3 5M227 -6l-5 1M225 -4l1 3M225 -4l-3 0M224 -2l0 0M224 -2l-0 0" stroke="rgb(170,170,170)" stroke-width="2.7" stroke-opacity="0.41"/><path d="M81 204L124 226M83 205l6 -4M83 205l2 7M85 207l8 -4M85 207l2 8M88 208l7 -4M88 208l-1 8M90 209l16 -7M90 209l4 17M93 210l17 -12M93 210l2 21M95 212l11 -4M95 212l0 11M98 213l13 -8M98 213l4 15M100 214l18 -9M100 214l6 19M102 215l12 -5M102 215l2 12M105 217l14 -11M105 217l5 17M107 218l11 -6M107 218l3 12M110 219l8 -4M110 219l2 9M112 220l13 -7M112 220l4 14M115 222l10 -3M115 222l3 10M117 223l8 -6M117 223l-1 10M119 224l4 -2M119 224l1 4M122 225l0 -0M122 225l-0 0" stroke="rgb(128,128,128)" stroke-width="2.7" stroke-opacity="0.56"/><path d="M142 42L126 25M140 40l-6 0M140 40l3 -6M138 38l-4 1M138 38l1 -5M136 36l-11 2M136 36l3 -10M135 34l-9 2M135 34l1 -9M133 32l-7 2M133 32l0 -8M131 30l-6 0M131 30l0 -6M129 28l-4 -0M129 28l1 -4M127 27l-2 0M127 27l1 -2" stroke="rgb(101,101,101)" stroke-width="2.6" stroke-opacity="0.62"/><path d="M115 106L114 78M115 103l-2 -2M115 103l2 -1M115 100l-6 -5M115 100l6 -5M115 97l-5 -5M115 97l5 -5M115 95l-7 -3M115 95l5 -5M115 92l-7 -6M115 92l8 -5M115 89l-4 -2M115 89l4 -2M115 86l-4 -2M115 86l4 -2M114 84l-3 -2M114 84l3 -3M114 81l-1 -1M114 81l1 -1" stroke="rgb(169,169,169)" stroke-width="2.6" stroke-opacity="0.40"/><path d="M55 -13L64 7M56 -11l4 2M56 -11l-2 4M57 -8l3 0M57 -8l-2 3M58 -6l6 1M58 -6l-4 5M59 -3l8 1M59 -3l-4 7M60 -1l6 2M60 -1l-4 5M61 2l4 2M61 2l-2 4M62 4l2 1M62 4l-1 2" stroke="rgb(99,99,99)" stroke-width="2.9" stroke-opacity="0.53"/><path d="M301 73L283 95M299 75l1 5M299 75l-5 -1M297 78l1 9M297 78l-9 1M295 80l1 9M295 80l-9 -2M293 82l2 8M293 82l-8 0M292 84l2 9M292 84l-9 1M290 86l3 7M290 86l-8 -1M288 88l3 6M288 88l-6 1M286 90l1 4M286 90l-4 0M284 92l0 1M284 92l-1 -0" stroke="rgb(165,165,165)" stroke-width="2.9" stroke-opacity="0.55"/><path d="M280 50L263 74M278 53l2 4M278 53l-5 -0M276 55l1 4M276 55l-5 1M275 57l1 5M275 57l-6 -0M273 60l3 10M273 60l-10 -0M272 62l4 9M272 62l-10 0M270 65l3 7M270 65l-7 -0M268 67l2 5M268 67l-5 0M267 69l2 6M267 69l-6 -1M265 72l1 1M265 72l-1 0" stroke="rgb(163,163,163)" stroke-width="2.7" stroke-opacity="0.63"/><path d="M45 61L23 64M42 62l-1 3M42 62l-2 -2M40 62l-2 4M40 62l-3 -3M37 62l-3 7M37 62l-6 -5M34 63l-2 8M34 63l-6 -5M31 63l-2 6M31 63l-4 -6M29 64l-3 5M29 64l-4 -4M26 64l-1 2M26 64l-1 -2" stroke="rgb(112,112,112)" stroke-width="3.0" stroke-opacity="0.40"/><path d="M266 88L293 72M268 86l0 -5M268 86l4 2M271 85l1 -10M271 85l9 4M273 83l3 -12M273 83l10 6M276 82l-0 -11M276 82l10 5M278 80l-1 -9M278 80l8 4M280 79l2 -9M280 79l9 3M283 77l1 -6M283 77l6 2M285 76l1 -5M285 76l5 1M288 75l1 -4M288 75l4 1M290 73l0 -0M290 73l0 0" stroke="rgb(164,164,164)" stroke-width="2.9" stroke-opacity="0.63"/><path d="M107 158L90 135M105 155l-4 -1M105 155l1 -4M104 153l-4 -1M104 153l1 -4M102 151l-6 -0M102 151l2 -6M100 148l-8 1M100 148l2 -7M99 146l-12 1M99 146l6 -10M97 144l-8 -0M97 144l3 -7M95 141l-10 -2M95 141l4 -9M94 139l-6 0M94 139l1 -6M92 137l-2 -0M92 137l1 -1" stroke="rgb(162,162,162)" stroke-width="2.4" stroke-opacity="0.43"/><path d="M252 -23L269 1M254 -21l5 -1M254 -21l-2 4M255 -19l4 1M255 -19l-1 4M257 -16l7 -2M257 -16l-2 7M258 -14l6 1M258 -14l-1 6M260 -12l10 -0M260 -12l-2 9M261 -10l9 0M261 -10l-2 9M263 -8l5 -1M263 -8l-2 4M264 -6l7 -1M264 -6l-4 6M266 -3l2 0M266 -3l-1 2M267 -1l0 0M267 -1l-0 0" stroke="rgb(150,150,150)" stroke-width="2.9" stroke-opacity="0.54"/><path d="M232 153L233 188M232 156l4 3M232 156l-3 3M232 158l5 4M232 158l-4 4M233 161l9 6M233 161l-8 8M233 164l11 8M233 164l-11 8M233 166l13 9M233 166l-11 11M233 169l8 7M233 169l-9 5M233 172l7 7M233 172l-7 6M233 174l9 4M233 174l-6 7M233 177l6 5M233 177l-5 6M233 180l7 3M233 180l-7 4M233 182l4 4M233 182l-4 3M233 185l0 0M233 185l-0 0" stroke="rgb(102,102,102)" stroke-width="2.4" stroke-opacity="0.67"/><path d="M261 107L298 129M263 108l6 -1M263 108l-0 6M266 110l7 -5M266 110l0 9M268 111l10 -3M268 111l1 11M270 112l14 -5M270 112l-1 15M272 114l9 -4M272 114l-1 10M275 115l13 -6M275 115l4 14M277 117l12 -3M277 117l1 12M279 118l17 -6M279 118l-2 18M282 119l16 -5M282 119l-2 17M284 121l13 -4M284 121l3 13M286 122l10 -6M286 122l2 11M288 123l10 -5M288 123l2 10M291 125l7 -3M291 125l2 8M293 126l3 -1M293 126l-0 3M295 127l0 -0M295 127l-0 0" stroke="rgb(113,113,113)" stroke-width="2.5" stroke-opacity="0.56"/><path d="M-17 53L5 87M-15 55l8 -1M-15 55l-3 7M-14 57l6 -1M-14 57l-3 5M-12 60l7 0M-12 60l-2 7M-11 62l18 1M-11 62l-10 15M-9 64l13 2M-9 64l-5 12M-8 67l10 1M-8 67l-3 9M-7 69l11 -1M-7 69l-5 10M-5 71l17 0M-5 71l-5 16M-4 74l11 2M-4 74l-5 10M-2 76l10 2M-2 76l-5 9M-1 78l7 -1M-1 78l-2 7M0 80l9 -1M0 80l-3 9M2 83l6 1M2 83l-2 5M3 85l0 0M3 85l-0 0" stroke="rgb(159,159,159)" stroke-width="2.6" stroke-opacity="0.42"/><path d="M210 85L235 60M212 83l-0 -4M212 83l4 1M214 81l-1 -6M214 81l6 2M216 79l-3 -10M216 79l10 0M218 77l-0 -9M218 77l9 0M220 75l-3 -10M220 75l10 3M222 73l-2 -8M222 73l9 0M224 71l-0 -11M224 71l11 1M225 69l-3 -12M225 69l13 2M227 67l-0 -12M227 67l12 1M229 65l-0 -8M229 65l8 1M231 64l-0 -4M231 64l4 0M233 62l-0 -0M233 62l0 0" stroke="rgb(175,175,175)" stroke-width="2.6" stroke-opacity="0.46"/><path d="M-6 99L26 109M-3 99l4 -3M-3 99l1 5M-1 100l8 -5M-1 100l2 9M2 101l3 -4M2 101l2 4M5 102l7 -5M5 102l2 8M7 103l7 -4M7 103l2 7M10 104l8 -9M10 104l4 11M12 105l6 -4M12 105l3 6M15 106l7 -7M15 106l4 9M18 107l7 -5M18 107l2 8M20 108l3 -3M20 108l2 4M23 108l0 -0M23 108l0 0" stroke="rgb(159,159,159)" stroke-width="2.8" stroke-opacity="0.65"/><path d="M216 49L201 20M215 47l-8 -0M215 47l2 -7M213 44l-11 0M213 44l4 -10M212 42l-7 0M212 42l3 -7M211 40l-7 -1M211 40l3 -7M210 37l-10 -3M210 37l5 -9M208 35l-15 -5M208 35l7 -14M207 32l-16 -0M207 32l4 -15M206 30l-10 -3M206 30l4 -10M205 27l-11 0M205 27l7 -8M204 25l-3 -1M204 25l1 -3M202 23l-0 -0M202 23l0 -0" stroke="rgb(196,196,196)" stroke-width="3.0" stroke-opacity="0.69"/><path d="M139 217L116 222M136 218l-3 7M136 218l-5 -5M133 218l-3 7M133 218l-5 -6M130 219l-2 5M130 219l-3 -5M127 219l-3 5M127 219l-4 -4M124 220l-2 8M124 220l-6 -6M122 221l-1 4M122 221l-3 -2M119 221l-2 3M119 221l-2 -2" stroke="rgb(112,112,112)" stroke-width="2.9" stroke-opacity="0.43"/><path d="M11 2L-13 10M8 3l-1 3M8 3l-3 -2M6 3l-2 6M6 3l-5 -4M3 4l-2 4M3 4l-4 -3M0 5l-1 4M0 5l-3 -3M-2 6l-3 6M-2 6l-6 -4M-5 7l-2 5M-5 7l-4 -3M-8 8l-1 3M-8 8l-3 -1M-10 9l-0 1M-10 9l-1 -1" stroke="rgb(154,154,154)" stroke-width="2.6" stroke-opacity="0.63"/><path d="M172 50L146 45M169 50l-3 2M169 50l-1 -3M167 49l-5 5M167 49l-4 -5M164 49l-5 7M164 49l-2 -8M162 48l-5 7M162 48l-2 -9M159 48l-4 5M159 48l-3 -6M156 47l-7 6M156 47l-5 -8M154 47l-3 5M154 47l-1 -5M151 46l-3 4M151 46l-2 -5M149 45l-1 1M149 45l-0 -1" stroke="rgb(162,162,162)" stroke-width="2.7" stroke-opacity="0.44"/><path d="M83 180L92 225M83 182l7 4M83 182l-6 4M84 185l11 6M84 185l-10 8M84 188l11 4M84 188l-9 7M85 190l7 5M85 190l-5 7M85 193l15 5M85 193l-9 13M86 196l9 6M86 196l-6 9M87 198l12 3M87 198l-8 10M87 201l12 7M87 201l-9 10M88 204l11 7M88 204l-9 10M88 207l14 3M88 207l-10 11M89 209l8 5M89 209l-7 6M89 212l12 5M89 212l-11 8M90 215l8 5M90 215l-6 7M91 217l10 3M91 217l-8 8M91 220l4 2M91 220l-3 4M92 223l0 0M92 223l-0 0" stroke="rgb(117,117,117)" stroke-width="2.4" stroke-opacity="0.56"/><path d="M152 208L162 168M153 206l-4 -6M153 206l7 -1M153 203l-8 -6M153 203l10 -4M154 200l-8 -8M154 200l11 -2M155 198l-7 -6M155 198l9 -2M155 195l-8 -10M155 195l11 -6M156 192l-11 -13M156 192l15 -7M157 190l-9 -8M157 190l10 -6M157 187l-10 -17M157 187l18 -7M158 184l-6 -10M158 184l10 -6M159 182l-4 -8M159 182l8 -4M159 179l-6 -7M159 179l9 -2M160 176l-6 -5M160 176l8 -3M161 174l-3 -5M161 174l5 -2M161 171l-0 -0M161 171l0 -0" stroke="rgb(99,99,99)" stroke-width="2.6" stroke-opacity="0.49"/><path d="M278 211L296 197M280 209l-0 -3M280 209l3 1M283 207l-2 -6M283 207l6 1M285 206l0 -5M285 206l5 1M287 204l-2 -9M287 204l9 3M289 202l1 -8M289 202l9 1M292 200l-1 -3M292 200l3 1M294 199l-0 -2M294 199l2 0" stroke="rgb(88,88,88)" stroke-width="2.4" stroke-opacity="0.47"/><path d="M179 49L137 74M177 51l1 7M177 51l-6 -3M174 52l-0 11M174 52l-10 -5M172 54l-1 14M172 54l-13 -6M170 55l-3 20M170 55l-18 -9M167 56l-4 22M167 56l-21 -6M165 58l-3 10M165 58l-10 -3M163 59l-5 17M163 59l-15 -10M160 60l-0 19M160 60l-16 -11M158 62l-2 15M158 62l-12 -9M156 63l1 23M156 63l-22 -8M153 64l-6 21M153 64l-21 -6M151 66l-4 15M151 66l-15 -4M149 67l-3 18M149 67l-18 -5M146 68l-3 14M146 68l-12 -8M144 70l-1 7M144 70l-6 -4M142 71l0 3M142 71l-3 -1M139 73l-0 0M139 73l-0 -0" stroke="rgb(143,143,143)" stroke-width="2.9" stroke-opacity="0.62"/><path d="M-24 144L1 106M-23 142l-3 -7M-23 142l7 -2M-21 140l-3 -6M-21 140l6 1M-20 137l-1 -6M-20 137l7 1M-18 135l-4 -15M-18 135l15 -1M-17 133l-6 -13M-17 133l14 -1M-15 131l-8 -13M-15 131l15 2M-14 129l-7 -10M-14 129l12 -1M-12 126l-4 -12M-12 126l13 1M-11 124l-5 -8M-11 124l9 1M-9 122l-5 -13M-9 122l14 1M-8 120l-6 -14M-8 120l15 -3M-6 117l-3 -10M-6 117l11 -0M-5 115l-3 -12M-5 115l12 2M-3 113l-3 -6M-3 113l6 0M-2 111l-2 -4M-2 111l4 -1M-0 109l-0 -0M-0 109l0 0" stroke="rgb(121,121,121)" stroke-width="2.7" stroke-opacity="0.68"/><path d="M8 -1L30 4M11 -0l3 -2M11 -0l1 3M13 0l4 -4M13 0l2 5M16 1l7 -6M16 1l5 8M19 1l7 -6M19 1l3 8M22 2l7 -5M22 2l4 8M25 3l3 -3M25 3l2 4M28 3l1 -1M28 3l0 2" stroke="rgb(125,125,125)" stroke-width="2.7" stroke-opacity="0.54"/><path d="M233 185L269 198M236 186l6 -5M236 186l1 7M238 187l10 -4M238 187l2 11M241 188l12 -7M241 188l6 13M243 189l12 -11M243 189l7 14M246 189l12 -7M246 189l2 14M249 190l10 -9M249 190l2 14M251 191l9 -6M251 191l4 10M254 192l7 -6M254 192l3 9M256 193l12 -11M256 193l2 16M259 194l9 -4M259 194l3 10M261 195l4 -3M261 195l1 5M264 196l2 -2M264 196l1 3M266 197l0 -0M266 197l0 0" stroke="rgb(93,93,93)" stroke-width="2.2" stroke-opacity="0.54"/><path d="M251 107L295 85M254 105l0 -5M254 105l4 3M256 104l0 -8M256 104l7 4M258 103l3 -8M258 103l7 4M261 102l4 -12M261 102l12 5M263 101l3 -16M263 101l13 11M266 99l4 -14M266 99l14 6M268 98l1 -16M268 98l15 7M271 97l1 -14M271 97l11 7M273 96l3 -16M273 96l13 11M276 94l2 -14M276 94l11 9M278 93l2 -13M278 93l12 4M281 92l-0 -7M281 92l6 4M283 91l3 -9M283 91l8 3M286 90l1 -7M286 90l6 4M288 88l1 -4M288 88l4 2M290 87l0 -2M290 87l1 1M293 86l0 -0M293 86l0 0" stroke="rgb(143,143,143)" stroke-width="2.7" stroke-opacity="0.43"/><path d="M18 -9L54 -2M21 -8l2 -3M21 -8l1 3M23 -8l3 -4M23 -8l1 5M26 -7l4 -5M26 -7l2 6M29 -7l5 -4M29 -7l4 6M32 -6l8 -8M32 -6l6 10M34 -6l8 -11M34 -6l8 11M37 -5l8 -6M37 -5l4 10M40 -5l6 -7M40 -5l4 9M43 -4l4 -5M43 -4l3 6M45 -4l4 -5M45 -4l3 6M48 -3l2 -2M48 -3l2 3M51 -3l0 -0M51 -3l0 0" stroke="rgb(108,108,108)" stroke-width="2.9" stroke-opacity="0.59"/><path d="M265 -12L260 30M264 -10l3 3M264 -10l-3 1M264 -7l5 4M264 -7l-6 3M264 -4l8 5M264 -4l-8 6M264 -2l6 6M264 -2l-7 4M263 1l7 8M263 1l-8 6M263 4l10 10M263 4l-13 6M263 6l7 7M263 6l-8 6M262 9l11 12M262 9l-14 9M262 12l7 6M262 12l-7 5M262 14l10 9M262 14l-12 6M262 17l9 5M262 17l-9 6M261 20l8 9M261 20l-10 5M261 22l5 6M261 22l-6 4M261 25l2 3M261 25l-3 1M261 28l0 0M261 28l-0 0" stroke="rgb(130,130,130)" stroke-width="2.2" stroke-opacity="0.50"/><path d="M131 198L92 222M129 200l-0 3M129 200l-3 -2M127 201l-1 7M127 201l-7 -2M124 202l-3 11M124 202l-10 -6M122 204l-1 9M122 204l-8 -5M120 205l1 15M120 205l-14 -4M117 207l1 9M117 207l-8 -4M115 208l-1 11M115 208l-10 -4M113 209l1 16M113 209l-15 -6M110 211l1 15M110 211l-14 -5M108 212l-1 9M108 212l-9 -2M106 214l-2 13M106 214l-12 -5M103 215l-2 13M103 215l-13 -3M101 217l-3 10M101 217l-9 -6M99 218l-2 6M99 218l-6 -3M96 219l-0 3M96 219l-2 -1M94 221l-0 0M94 221l-0 -0" stroke="rgb(133,133,133)" stroke-width="2.6" stroke-opacity="0.62"/><path d="M114 121L153 119M116 121l5 -5M116 121l3 6M119 121l7 -9M119 121l7 9M121 120l6 -10M121 120l8 8M124 120l8 -9M124 120l5 11M127 120l4 -9M127 120l6 8M129 120l8 -11M129 120l7 12M132 120l9 -10M132 120l9 10M134 120l6 -7M134 120l6 7M137 120l10 -15M137 120l9 15M140 120l4 -6M140 120l4 6M142 120l4 -10M142 120l7 8M145 119l7 -8M145 119l6 8M147 119l3 -4M147 119l2 4M150 119l0 -0M150 119l0 0" stroke="rgb(133,133,133)" stroke-width="2.3" stroke-opacity="0.44"/><path d="M85 201L75 238M84 203l3 3M84 203l-4 2M83 206l4 5M83 206l-6 3M83 209l11 10M83 209l-15 3M82 211l13 11M82 211l-17 3M81 214l5 10M81 214l-10 6M81 217l5 7M81 217l-8 3M80 219l10 13M80 219l-14 8M79 222l9 9M79 222l-12 4M78 225l5 6M78 225l-8 2M78 227l5 6M78 227l-8 2M77 230l6 9M77 230l-9 5M76 233l3 3M76 233l-4 1M75 236l0 0M75 236l-0 0" stroke="rgb(111,111,111)" stroke-width="2.2" stroke-opacity="0.46"/><path d="M149 52L121 76M147 54l1 5M147 54l-5 -0M145 56l0 7M145 56l-7 -1M142 58l-2 13M142 58l-13 -4M140 60l-1 8M140 60l-8 -1M138 61l-1 9M138 61l-9 -2M136 63l5 18M136 63l-18 -3M134 65l0 10M134 65l-10 -1M132 67l1 14M132 67l-14 -5M130 68l-0 10M130 68l-10 -1M127 70l0 6M127 70l-6 -2M125 72l0 3M125 72l-3 -1M123 74l0 0M123 74l-0 -0" stroke="rgb(116,116,116)" stroke-width="2.2" stroke-opacity="0.64"/><path d="M6 125L-4 168M5 128l5 5M5 128l-7 1M4 131l8 9M4 131l-10 6M4 133l7 5M4 133l-7 5M3 136l8 8M3 136l-9 6M3 139l14 13M3 139l-19 5M2 141l11 10M2 141l-12 8M2 144l15 12M2 144l-18 8M1 147l10 14M1 147l-15 8M0 150l10 9M0 150l-13 3M-0 152l8 6M-0 152l-10 3M-1 155l7 6M-1 155l-8 4M-1 158l4 5M-1 158l-6 4M-2 160l6 9M-2 160l-9 5M-2 163l2 2M-2 163l-3 1M-3 166l0 0M-3 166l-0 0" stroke="rgb(143,143,143)" stroke-width="2.5" stroke-opacity="0.62"/><path d="M44 35L16 52M42 37l-0 3M42 37l-3 -2M40 38l-1 7M40 38l-6 -3M37 39l-0 7M37 39l-6 -5M35 41l-1 9M35 41l-9 -2M32 42l-1 7M32 42l-6 -3M30 44l-2 11M30 44l-9 -6M28 45l-2 13M28 45l-11 -7M25 46l-2 8M25 46l-8 -3M23 48l-0 7M23 48l-6 -3M20 49l-0 5M20 49l-5 -1M18 50l-0 0M18 50l-0 -0" stroke="rgb(107,107,107)" stroke-width="2.6" stroke-opacity="0.67"/><path d="M3 144L38 133M6 143l2 -5M6 143l4 2M8 142l2 -12M8 142l9 8M11 141l1 -8M11 141l6 5M14 141l6 -12M14 141l9 10M16 140l3 -8M16 140l7 5M19 139l5 -18M19 139l14 12M22 138l3 -12M22 138l11 6M24 137l2 -16M24 137l13 10M27 136l3 -10M27 136l8 7M30 136l2 -10M30 136l9 6M32 135l1 -4M32 135l4 2M35 134l0 -0M35 134l0 0" stroke="rgb(148,148,148)" stroke-width="2.8" stroke-opacity="0.56"/><path d="M42 124L68 153M44 126l8 0M44 126l-0 8M46 128l7 -1M46 128l-3 6M48 130l9 -1M48 130l-3 8M50 132l15 -1M50 132l-6 13M51 134l17 1M51 134l-5 16M53 136l15 -2M53 136l-4 14M55 139l17 -4M55 139l-1 18M57 141l18 -2M57 141l-6 17M59 143l10 -0M59 143l-2 10M60 145l14 -4M60 145l-5 14M62 147l7 -1M62 147l-1 7M64 149l6 -1M64 149l-2 6M66 151l0 0M66 151l-0 0" stroke="rgb(167,167,167)" stroke-width="2.8" stroke-opacity="0.68"/><path d="M99 174L79 206M97 176l2 5M97 176l-5 0M96 179l2 9M96 179l-9 0M95 181l4 8M95 181l-9 2M93 183l5 10M93 183l-11 -1M92 185l7 12M92 185l-14 1M91 188l5 8M91 188l-9 1M89 190l3 9M89 190l-9 -1M88 192l4 6M88 192l-8 -0M86 194l5 10M86 194l-12 -1M85 197l2 5M85 197l-5 -0M84 199l3 5M84 199l-5 1M82 201l1 4M82 201l-4 -0M81 203l0 0M81 203l-0 -0" stroke="rgb(125,125,125)" stroke-width="2.7" stroke-opacity="0.62"/></g><g filter="url(#fb2)" fill="none" stroke-linecap="round"><path d="M162 106L178 126M164 107l2 -0M164 107l-1 2M165 109l5 -1M165 109l-0 5M166 111l4 -1M166 111l-1 4M168 112l5 -1M168 112l-2 4M169 114l5 -0M169 114l-1 5M170 116l6 -1M170 116l-1 6M171 117l8 1M171 117l-1 8M173 119l8 -0M173 119l-2 7M174 121l5 -0M174 121l-1 5M175 122l2 -0M175 122l-1 2M177 124l0 -0M177 124l-0 0" stroke="rgb(219,219,219)" stroke-width="1.9" stroke-opacity="0.57"/><path d="M33 38L-1 36M31 38l-3 3M31 38l-2 -4M29 38l-3 5M29 38l-4 -5M27 38l-6 6M27 38l-4 -8M25 38l-4 4M25 38l-3 -5M23 38l-9 7M23 38l-6 -10M21 37l-6 6M21 37l-4 -7M19 37l-10 12M19 37l-5 -14M17 37l-4 7M17 37l-5 -7M15 37l-5 7M15 37l-3 -8M13 37l-5 5M13 37l-3 -6M11 37l-6 6M11 37l-6 -6M9 37l-3 5M9 37l-2 -5M7 36l-6 8M7 36l-7 -7M5 36l-2 4M5 36l-2 -4M3 36l-2 2M3 36l-2 -3M1 36l-0 0M1 36l-0 -0" stroke="rgb(190,190,190)" stroke-width="1.2" stroke-opacity="0.88"/><path d="M284 179L275 215M284 181l3 4M284 181l-4 2M283 183l3 4M283 183l-5 1M282 185l4 4M282 185l-5 2M282 187l4 6M282 187l-7 1M281 189l7 7M281 189l-10 2M281 191l10 10M281 191l-13 5M280 193l9 7M280 193l-11 3M280 195l7 9M280 195l-11 5M279 197l9 10M279 197l-11 7M279 199l9 8M279 199l-12 3M278 201l10 8M278 201l-12 4M278 203l7 9M278 203l-10 6M277 205l4 6M277 205l-7 1M277 207l5 6M277 207l-7 2M276 209l2 3M276 209l-3 1M276 211l1 2M276 211l-2 1M275 213l0 0M275 213l-0 0" stroke="rgb(150,150,150)" stroke-width="2.0" stroke-opacity="0.76"/><path d="M280 -28L277 -9M280 -25l2 3M280 -25l-4 2M279 -23l4 3M279 -23l-5 3M279 -21l4 3M279 -21l-5 2M279 -19l3 3M279 -19l-5 1M278 -17l4 4M278 -17l-5 2M278 -15l5 5M278 -15l-7 2M277 -13l3 2M277 -13l-3 2M277 -11l1 1M277 -11l-1 1" stroke="rgb(198,198,198)" stroke-width="1.4" stroke-opacity="0.92"/><path d="M23 27L23 42M23 29l3 1M23 29l-3 1M23 32l3 3M23 32l-4 2M23 34l6 4M23 34l-6 3M23 36l4 3M23 36l-4 3M23 38l3 2M23 38l-3 2M23 40l2 1M23 40l-1 1" stroke="rgb(196,196,196)" stroke-width="1.4" stroke-opacity="0.92"/><path d="M200 68L224 41M202 66l-0 -2M202 66l2 -0M203 64l-1 -7M203 64l7 -0M205 63l-1 -6M205 63l5 1M206 61l-1 -9M206 61l9 2M207 60l-2 -10M207 60l10 1M209 58l-4 -11M209 58l11 1M210 57l-3 -11M210 57l11 2M212 55l-2 -9M212 55l9 1M213 53l-2 -12M213 53l11 3M214 52l-4 -9M214 52l10 2M216 50l-4 -12M216 50l12 1M217 49l-2 -7M217 49l7 2M219 47l-1 -8M219 47l8 -1M220 46l-0 -3M220 46l3 -0M221 44l-0 -2M221 44l2 -0M223 42l-0 -0M223 42l0 0" stroke="rgb(210,210,210)" stroke-width="1.9" stroke-opacity="0.56"/><path d="M114 104L114 120M114 106l4 3M114 106l-3 3M114 108l5 3M114 108l-5 3M114 110l3 2M114 110l-3 2M114 112l6 3M114 112l-5 3M114 114l4 2M114 114l-4 2M114 116l4 3M114 116l-4 4M114 118l1 1M114 118l-1 1" stroke="rgb(217,217,217)" stroke-width="2.0" stroke-opacity="0.94"/><path d="M202 31L229 51M204 33l5 -1M204 33l0 5M206 34l5 -3M206 34l0 6M207 35l8 -2M207 35l1 8M209 36l9 -2M209 36l0 9M211 38l9 -2M211 38l-2 9M212 39l9 -2M212 39l-1 9M214 40l10 -3M214 40l-1 10M216 41l7 -3M216 41l1 7M217 42l8 -4M217 42l-2 8M219 44l11 -2M219 44l-0 11M221 45l7 -3M221 45l1 7M222 46l5 -2M222 46l-1 6M224 47l6 -2M224 47l-1 6M226 49l3 -1M226 49l0 3M227 50l0 -0M227 50l-0 0" stroke="rgb(230,230,230)" stroke-width="1.3" stroke-opacity="0.77"/><path d="M220 51L216 25M219 49l-3 -2M219 49l3 -2M219 47l-7 -4M219 47l6 -4M219 45l-8 -6M219 45l8 -6M218 43l-7 -4M218 43l5 -6M218 41l-7 -5M218 41l5 -7M218 39l-6 -3M218 39l4 -5M217 37l-6 -2M217 37l4 -5M217 35l-8 -3M217 35l7 -5M217 33l-4 -3M217 33l4 -3M217 31l-7 -2M217 31l6 -5M216 29l-3 -2M216 29l3 -2M216 27l-0 -0M216 27l0 -0" stroke="rgb(221,221,221)" stroke-width="1.7" stroke-opacity="0.84"/><path d="M5 145L24 115M6 143l-1 -4M6 143l4 -1M7 142l-4 -8M7 142l9 -0M8 140l-6 -9M8 140l11 -0M9 138l-5 -9M9 138l10 -1M10 136l-3 -14M10 136l14 1M12 134l-5 -11M12 134l12 2M13 133l-3 -9M13 133l9 1M14 131l-6 -13M14 131l14 1M15 129l-7 -11M15 129l14 0M16 127l-3 -10M16 127l10 -2M17 125l-2 -7M17 125l7 1M18 124l-3 -6M18 124l7 -1M19 122l-4 -10M19 122l10 -2M20 120l-4 -6M20 120l7 1M22 118l-1 -2M22 118l2 0M23 116l-0 -0M23 116l0 0" stroke="rgb(176,176,176)" stroke-width="1.5" stroke-opacity="0.56"/><path d="M67 157L74 170M68 159l3 1M68 159l-1 3M69 161l5 0M69 161l-3 4M70 163l6 1M70 163l-4 5M71 164l4 -0M71 164l-1 4M72 166l3 -0M72 166l-2 3M73 168l2 0M73 168l-1 2" stroke="rgb(199,199,199)" stroke-width="1.5" stroke-opacity="0.59"/><path d="M299 -11L267 3M298 -11l-2 6M298 -11l-6 -2M296 -10l-0 9M296 -10l-8 -5M294 -9l-3 8M294 -9l-8 -3M292 -8l-2 6M292 -8l-6 -3M290 -7l0 14M290 -7l-12 -7M288 -6l-2 13M288 -6l-11 -8M286 -5l0 14M286 -5l-11 -9M284 -4l-2 14M284 -4l-13 -5M283 -4l-2 11M283 -4l-11 -4M281 -3l-2 9M281 -3l-8 -3M279 -2l-3 11M279 -2l-9 -8M277 -1l-2 11M277 -1l-9 -5M275 -0l-2 7M275 -0l-5 -5M273 1l-1 8M273 1l-6 -4M271 2l-0 2M271 2l-2 -1M269 3l-0 0M269 3l-0 -0" stroke="rgb(195,195,195)" stroke-width="2.0" stroke-opacity="0.86"/><path d="M47 163L61 152M48 162l0 -3M48 162l3 1M50 161l-1 -4M50 161l4 0M51 159l-0 -4M51 159l4 1M53 158l0 -6M53 158l6 1M54 157l0 -4M54 157l3 2M56 155l-1 -5M56 155l5 1M58 154l-0 -2M58 154l2 0M59 153l-0 -1M59 153l1 0" stroke="rgb(220,220,220)" stroke-width="2.0" stroke-opacity="0.79"/><path d="M-14 149L-20 168M-15 151l1 2M-15 151l-2 1M-16 153l4 4M-16 153l-5 3M-16 155l4 3M-16 155l-5 2M-17 157l2 4M-17 157l-4 1M-18 159l3 4M-18 159l-4 2M-18 161l3 5M-18 161l-6 2M-19 163l3 3M-19 163l-4 1M-20 166l1 1M-20 166l-2 0" stroke="rgb(216,216,216)" stroke-width="1.9" stroke-opacity="0.89"/><path d="M271 207L267 238M271 209l2 2M271 209l-2 2M271 211l5 3M271 211l-5 2M270 213l9 6M270 213l-10 5M270 215l9 7M270 215l-11 4M270 217l6 4M270 217l-6 4M270 219l9 7M270 219l-10 4M269 221l10 11M269 221l-13 8M269 223l8 11M269 223l-13 4M269 225l7 7M269 225l-8 5M268 227l8 10M268 227l-10 7M268 229l4 5M268 229l-6 2M268 230l6 9M268 230l-10 5M268 232l4 4M268 232l-5 3M267 234l2 2M267 234l-2 1M267 236l0 0M267 236l-0 0" stroke="rgb(142,142,142)" stroke-width="1.4" stroke-opacity="0.86"/><path d="M198 37L229 34M200 36l2 -3M200 36l2 3M202 36l5 -6M202 36l6 5M204 36l5 -8M204 36l7 8M206 36l4 -6M206 36l5 5M208 36l6 -8M208 36l7 6M210 35l7 -8M210 35l8 7M212 35l7 -8M212 35l6 9M215 35l5 -12M215 35l7 11M217 35l4 -6M217 35l5 6M219 35l2 -6M219 35l5 4M221 34l5 -10M221 34l5 10M223 34l1 -4M223 34l2 3M225 34l2 -4M225 34l3 3M227 34l0 -0M227 34l0 0" stroke="rgb(228,228,228)" stroke-width="1.3" stroke-opacity="0.87"/><path d="M170 88L137 68M168 87l-4 2M168 87l0 -5M166 86l-5 1M166 86l-1 -5M164 85l-10 3M164 85l-0 -10M163 84l-13 5M163 84l-3 -14M161 83l-12 5M161 83l-1 -13M159 82l-8 4M159 82l-1 -9M157 81l-17 7M157 81l0 -18M156 80l-15 10M156 80l-5 -17M154 79l-18 4M154 79l2 -18M152 78l-16 5M152 78l0 -16M151 77l-12 5M151 77l-0 -13M149 76l-10 5M149 76l0 -12M147 75l-6 3M147 75l0 -7M145 74l-11 5M145 74l-1 -12M144 73l-5 2M144 73l1 -6M142 72l-3 2M142 72l-1 -4M140 71l-2 1M140 71l-1 -2M138 69l-0 0M138 69l-0 -0" stroke="rgb(192,192,192)" stroke-width="1.5" stroke-opacity="0.84"/><path d="M16 129L10 157M15 131l2 2M15 131l-3 1M15 133l6 5M15 133l-7 2M15 135l6 6M15 135l-7 5M14 137l6 7M14 137l-9 3M14 139l5 7M14 139l-8 4M13 141l9 9M13 141l-12 4M13 143l4 5M13 143l-6 3M13 145l5 8M13 145l-9 2M12 147l4 6M12 147l-6 4M12 149l5 5M12 149l-7 2M12 151l3 2M12 151l-4 1M11 153l3 2M11 153l-3 2M11 155l0 0M11 155l-0 0" stroke="rgb(222,222,222)" stroke-width="1.4" stroke-opacity="0.65"/><path d="M277 86L246 91M275 86l-1 4M275 86l-3 -3M273 87l-1 4M273 87l-3 -3M271 87l-2 7M271 87l-4 -6M269 87l-3 5M269 87l-4 -4M267 88l-5 9M267 88l-6 -9M265 88l-5 10M265 88l-7 -9M263 88l-6 8M263 88l-8 -7M260 89l-2 6M260 89l-5 -4M258 89l-3 7M258 89l-4 -6M256 89l-2 5M256 89l-4 -3M254 89l-3 7M254 89l-5 -6M252 90l-3 4M252 90l-3 -4M250 90l-1 2M250 90l-1 -2M248 90l-0 0M248 90l-0 -0" stroke="rgb(210,210,210)" stroke-width="1.8" stroke-opacity="0.62"/><path d="M171 69L197 49M173 67l0 -5M173 67l5 1M175 66l0 -7M175 66l7 1M176 65l-1 -5M176 65l5 2M178 64l-1 -6M178 64l6 1M179 62l2 -9M179 62l9 3M181 61l-0 -11M181 61l10 4M183 60l-0 -7M183 60l6 3M184 59l-1 -8M184 59l8 3M186 57l-2 -11M186 57l11 2M188 56l-2 -10M188 56l10 3M189 55l-0 -9M189 55l8 3M191 54l-0 -6M191 54l5 1M192 52l-1 -6M192 52l6 2M194 51l-0 -3M194 51l3 0M196 50l-0 -0M196 50l0 0" stroke="rgb(195,195,195)" stroke-width="1.7" stroke-opacity="0.89"/><path d="M213 72L242 66M215 72l2 -5M215 72l4 3M217 71l3 -4M217 71l4 3M219 71l2 -7M219 71l5 5M221 70l5 -9M221 70l9 6M223 70l5 -10M223 70l9 7M225 70l3 -8M225 70l7 5M227 69l2 -6M227 69l4 5M229 69l5 -8M229 69l6 7M230 68l3 -7M230 68l5 6M232 68l2 -5M232 68l4 4M234 68l4 -6M234 68l6 4M236 67l1 -4M236 67l3 2M238 67l1 -4M238 67l3 3M240 66l0 -0M240 66l0 0" stroke="rgb(209,209,209)" stroke-width="1.3" stroke-opacity="0.78"/><path d="M226 231L229 193M226 229l-2 -3M226 229l3 -2M226 226l-5 -4M226 226l6 -2M227 224l-6 -7M227 224l9 -3M227 222l-10 -6M227 222l11 -4M227 220l-11 -7M227 220l12 -5M227 218l-6 -3M227 218l5 -5M227 216l-9 -7M227 216l9 -6M227 214l-8 -6M227 214l8 -6M227 212l-8 -10M227 212l11 -7M228 210l-10 -8M228 210l9 -9M228 208l-9 -5M228 208l9 -5M228 206l-9 -8M228 206l11 -4M228 204l-8 -5M228 204l8 -4M228 202l-7 -6M228 202l8 -3M228 199l-6 -4M228 199l7 -3M229 197l-2 -1M229 197l2 -1M229 195l-0 -0M229 195l0 -0" stroke="rgb(164,164,164)" stroke-width="1.5" stroke-opacity="0.56"/><path d="M-6 117L-26 114M-9 117l-3 2M-9 117l-1 -4M-11 117l-2 2M-11 117l-1 -3M-13 116l-4 5M-13 116l-2 -6M-15 116l-3 3M-15 116l-2 -4M-17 116l-5 5M-17 116l-3 -6M-20 115l-5 5M-20 115l-3 -6M-22 115l-3 3M-22 115l-1 -4M-24 115l-1 1M-24 115l-0 -1" stroke="rgb(187,187,187)" stroke-width="1.3" stroke-opacity="0.68"/><path d="M192 109L187 124M191 110l2 3M191 110l-4 1M190 112l2 3M190 112l-3 1M190 114l3 6M190 114l-7 2M189 116l6 5M189 116l-7 3M189 118l3 5M189 118l-6 3M188 120l3 5M188 120l-5 1M187 122l1 1M187 122l-1 0" stroke="rgb(171,171,171)" stroke-width="1.4" stroke-opacity="0.69"/><path d="M256 160L274 163M258 160l2 -1M258 160l1 2M260 161l2 -3M260 161l2 3M262 161l4 -4M262 161l2 5M264 161l2 -3M264 161l2 3M266 161l5 -6M266 161l3 8M268 162l3 -4M268 162l2 5M270 162l2 -2M270 162l1 3M272 162l1 -1M272 162l1 1" stroke="rgb(140,140,140)" stroke-width="1.3" stroke-opacity="0.58"/><path d="M200 178L211 165M201 176l-1 -3M201 176l3 -0M203 175l-2 -3M203 175l4 -0M204 173l-2 -3M204 173l4 1M206 171l-1 -4M206 171l4 1M207 170l-1 -4M207 170l4 -0M208 168l-1 -3M208 168l3 0M210 167l-0 -2M210 167l2 -0" stroke="rgb(143,143,143)" stroke-width="1.6" stroke-opacity="0.65"/><path d="M178 22L190 -8M179 20l-3 -3M179 20l4 -1M180 18l-4 -4M180 18l5 -2M180 16l-6 -7M180 16l9 -0M181 14l-5 -9M181 14l9 -4M182 12l-6 -11M182 12l12 -5M183 10l-6 -10M183 10l11 -2M183 9l-5 -7M183 9l8 -0M184 7l-4 -7M184 7l8 -2M185 5l-3 -7M185 5l7 -2M185 3l-4 -9M185 3l10 -2M186 1l-4 -7M186 1l8 -1M187 -1l-5 -7M187 -1l8 -3M188 -3l-3 -4M188 -3l6 -1M188 -5l-1 -3M188 -5l3 -1M189 -7l-0 -0M189 -7l0 -0" stroke="rgb(162,162,162)" stroke-width="1.6" stroke-opacity="0.69"/><path d="M83 33L73 59M82 35l4 3M82 35l-5 1M81 37l3 5M81 37l-6 1M81 39l5 7M81 39l-8 1M80 41l6 9M80 41l-10 4M79 43l7 7M79 43l-9 4M78 45l5 6M78 45l-8 1M78 47l4 4M78 47l-5 2M77 49l2 5M77 49l-5 2M76 51l3 6M76 51l-7 1M76 53l3 3M76 53l-4 0M75 55l1 3M75 55l-3 1M74 57l0 0M74 57l-0 0" stroke="rgb(147,147,147)" stroke-width="1.2" stroke-opacity="0.59"/><path d="M92 43L126 42M94 43l3 -4M94 43l3 4M97 43l6 -6M97 43l5 7M99 43l5 -8M99 43l6 8M101 43l8 -11M101 43l7 11M103 43l6 -11M103 43l9 8M105 43l8 -11M105 43l10 9M107 43l9 -12M107 43l10 12M109 42l6 -7M109 42l7 7M111 42l6 -11M111 42l6 10M114 42l5 -6M114 42l4 7M116 42l4 -9M116 42l6 7M118 42l5 -5M118 42l4 6M120 42l4 -7M120 42l6 6M122 42l2 -3M122 42l2 3M124 42l0 -0M124 42l0 0" stroke="rgb(162,162,162)" stroke-width="1.4" stroke-opacity="0.73"/><path d="M163 -12L184 -6M165 -11l4 -2M165 -11l2 4M167 -10l4 -3M167 -10l1 5M169 -10l6 -5M169 -10l3 7M171 -9l6 -4M171 -9l3 7M173 -9l8 -8M173 -9l4 10M175 -8l5 -6M175 -8l2 8M177 -7l6 -3M177 -7l3 6M180 -7l2 -2M180 -7l1 3M182 -6l1 -1M182 -6l1 1" stroke="rgb(134,134,134)" stroke-width="1.7" stroke-opacity="0.74"/><path d="M169 -13L158 -23M167 -14l-2 1M167 -14l-0 -2M166 -16l-5 2M166 -16l2 -5M164 -17l-5 0M164 -17l0 -5M163 -18l-5 1M163 -18l1 -5M161 -20l-3 1M161 -20l1 -2M160 -21l-1 0M160 -21l-0 -1" stroke="rgb(143,143,143)" stroke-width="1.5" stroke-opacity="0.90"/><path d="M182 -14L199 -6M184 -13l2 -2M184 -13l1 3M186 -12l5 -3M186 -12l1 5M188 -11l4 -2M188 -11l1 5M189 -10l6 -5M189 -10l1 7M191 -9l3 -2M191 -9l0 4M193 -8l7 -3M193 -8l-0 7M195 -8l3 -2M195 -8l1 3M197 -7l1 -0M197 -7l0 1" stroke="rgb(169,169,169)" stroke-width="1.8" stroke-opacity="0.88"/><path d="M39 135L59 139M41 135l1 -2M41 135l1 2M43 136l3 -3M43 136l1 4M45 136l3 -2M45 136l1 4M47 137l7 -4M47 137l4 7M49 137l4 -3M49 137l2 5M51 138l6 -6M51 138l3 7M53 138l3 -2M53 138l2 3M55 139l3 -3M55 139l2 4M57 139l0 -0M57 139l0 1" stroke="rgb(228,228,228)" stroke-width="1.7" stroke-opacity="0.58"/><path d="M114 188L102 203M113 190l1 4M113 190l-4 -1M111 191l3 5M111 191l-6 0M110 193l1 7M110 193l-7 -1M109 195l3 8M109 195l-8 -1M107 197l1 4M107 197l-4 -0M106 198l1 6M106 198l-6 -0M105 200l2 4M105 200l-4 0M104 202l0 1M104 202l-1 0" stroke="rgb(190,190,190)" stroke-width="1.9" stroke-opacity="0.93"/><path d="M140 115L175 100M142 114l1 -3M142 114l2 2M144 114l1 -4M144 114l3 2M146 113l2 -8M146 113l7 5M148 112l2 -10M148 112l9 5M150 111l1 -11M150 111l10 4M152 110l3 -11M152 110l11 5M154 109l4 -9M154 109l7 6M156 109l3 -11M156 109l9 8M157 108l3 -13M157 108l13 5M159 107l4 -11M159 107l9 6M161 106l1 -7M161 106l5 4M163 105l1 -7M163 105l6 3M165 105l1 -6M165 105l5 3M167 104l2 -6M167 104l5 4M169 103l0 -6M169 103l5 3M171 102l0 -2M171 102l2 1M173 101l0 -0M173 101l0 0" stroke="rgb(172,172,172)" stroke-width="1.4" stroke-opacity="0.93"/><path d="M180 97L180 60M180 95l-4 -3M180 95l4 -4M180 93l-3 -3M180 93l3 -3M180 91l-7 -4M180 91l6 -5M180 89l-8 -4M180 89l7 -5M180 87l-8 -4M180 87l7 -4M180 84l-8 -4M180 84l7 -6M180 82l-5 -5M180 82l6 -5M180 80l-10 -9M180 80l10 -10M180 78l-6 -3M180 78l6 -4M180 76l-11 -9M180 76l10 -9M180 74l-6 -4M180 74l6 -4M180 72l-10 -5M180 72l9 -6M180 70l-5 -2M180 70l5 -2M180 68l-6 -4M180 68l6 -3M180 66l-3 -3M180 66l4 -2M180 64l-2 -1M180 64l2 -1M180 62l-0 -0M180 62l0 -0" stroke="rgb(193,193,193)" stroke-width="1.4" stroke-opacity="0.75"/><path d="M288 109L304 102M290 108l0 -2M290 108l2 1M292 107l1 -7M292 107l6 4M294 106l2 -5M294 106l4 4M296 106l2 -7M296 106l6 3M298 105l2 -7M298 105l7 3M300 104l0 -3M300 104l2 2M302 103l0 -1M302 103l1 1" stroke="rgb(202,202,202)" stroke-width="1.4" stroke-opacity="0.68"/><path d="M290 171L284 196M290 173l4 3M290 173l-4 3M289 175l4 3M289 175l-4 3M289 177l4 5M289 177l-6 2M288 179l6 5M288 179l-8 1M288 181l7 9M288 181l-10 3M287 183l7 9M287 183l-11 5M287 185l7 8M287 185l-9 6M286 188l4 6M286 188l-6 4M286 190l5 5M286 190l-7 3M285 192l3 4M285 192l-4 3M284 194l0 0M284 194l-0 0" stroke="rgb(148,148,148)" stroke-width="1.6" stroke-opacity="0.91"/><path d="M239 -10L248 25M239 -8l5 2M239 -8l-3 4M240 -6l5 2M240 -6l-3 4M241 -4l6 2M241 -4l-4 4M241 -2l6 2M241 -2l-3 5M242 0l10 2M242 0l-6 9M242 2l12 7M242 2l-8 12M243 4l6 3M243 4l-5 5M243 6l15 4M243 6l-9 13M244 8l12 4M244 8l-7 10M244 10l7 2M244 10l-6 5M245 12l8 5M245 12l-7 6M245 14l6 4M245 14l-6 5M246 16l6 3M246 16l-5 5M246 18l8 2M246 18l-5 7M247 20l6 3M247 20l-4 6M247 21l3 1M247 21l-2 2M248 23l0 0M248 23l-0 0" stroke="rgb(205,205,205)" stroke-width="1.5" stroke-opacity="0.71"/><path d="M12 233L27 212M13 231l-1 -3M13 231l3 -0M15 230l-2 -4M15 230l4 -1M16 228l-1 -5M16 228l5 0M17 226l-3 -9M17 226l10 -0M18 225l-4 -9M18 225l10 1M20 223l-2 -9M20 223l9 -2M21 221l-1 -6M21 221l6 1M22 219l-1 -8M22 219l8 0M23 218l-2 -5M23 218l6 -1M25 216l-2 -4M25 216l5 1M26 214l-0 -0M26 214l0 0" stroke="rgb(185,185,185)" stroke-width="1.7" stroke-opacity="0.58"/><path d="M232 132L222 153M231 134l1 2M231 134l-3 1M230 136l3 6M230 136l-6 2M230 138l4 8M230 138l-9 0M229 140l2 5M229 140l-5 2M228 141l3 6M228 141l-6 0M227 143l5 6M227 143l-8 2M226 145l3 4M226 145l-5 1M225 147l3 4M225 147l-5 -0M224 149l2 4M224 149l-4 1M223 151l0 0M223 151l-0 0" stroke="rgb(162,162,162)" stroke-width="1.2" stroke-opacity="0.84"/><path d="M216 114L199 99M215 112l-4 1M215 112l1 -4M213 111l-5 2M213 111l-0 -5M211 110l-4 0M211 110l0 -5M210 109l-9 3M210 109l-0 -9M208 107l-7 1M208 107l1 -7M207 106l-7 3M207 106l1 -8M205 105l-6 1M205 105l-1 -6M203 103l-3 1M203 103l1 -3M202 102l-4 1M202 102l1 -4M200 101l-0 0M200 101l0 -0" stroke="rgb(198,198,198)" stroke-width="1.9" stroke-opacity="0.90"/><path d="M76 36L67 68M75 38l2 2M75 38l-2 1M74 40l4 6M74 40l-6 3M74 42l4 6M74 42l-7 1M73 44l6 6M73 44l-8 3M73 46l5 8M73 46l-9 3M72 48l5 5M72 48l-6 3M72 50l8 9M72 50l-12 3M71 52l5 4M71 52l-6 1M71 54l5 5M71 54l-7 2M70 56l4 6M70 56l-6 4M70 58l3 4M70 58l-5 2M69 60l4 3M69 60l-4 2M69 62l2 4M69 62l-4 2M68 64l1 1M68 64l-2 0M68 66l0 0M68 66l-0 0" stroke="rgb(158,158,158)" stroke-width="1.6" stroke-opacity="0.61"/><path d="M179 22L161 15M177 21l-2 1M177 21l-0 -2M175 21l-3 2M175 21l-0 -3M173 20l-4 4M173 20l-1 -6M171 19l-3 1M171 19l-1 -4M169 18l-5 5M169 18l-3 -6M167 17l-4 2M167 17l-1 -5M165 16l-4 2M165 16l-1 -4M163 16l-1 1M163 16l-0 -1" stroke="rgb(159,159,159)" stroke-width="1.9" stroke-opacity="0.80"/><path d="M-3 29L-20 34M-5 29l-0 2M-5 29l-2 -1M-7 30l-2 6M-7 30l-4 -4M-9 31l-1 5M-9 31l-4 -3M-11 31l-2 6M-11 31l-5 -3M-13 32l-1 6M-13 32l-4 -4M-15 33l-1 3M-15 33l-3 -2M-18 33l-1 1M-18 33l-1 -1" stroke="rgb(202,202,202)" stroke-width="1.3" stroke-opacity="0.95"/><path d="M156 81L182 96M158 82l3 -2M158 82l1 3M160 83l7 -2M160 83l1 7M162 84l6 -4M162 84l0 7M163 85l5 -3M163 85l1 6M165 86l9 -5M165 86l-1 10M167 87l10 -5M167 87l0 12M169 88l9 -6M169 88l2 11M170 89l10 -5M170 89l0 11M172 90l6 -3M172 90l1 7M174 91l5 -3M174 91l1 6M175 92l5 -3M175 92l-0 6M177 93l3 -2M177 93l1 3M179 94l2 -0M179 94l-0 2M181 95l0 -0M181 95l0 0" stroke="rgb(202,202,202)" stroke-width="1.7" stroke-opacity="0.59"/><path d="M192 46L172 70M190 47l1 3M190 47l-3 -1M189 49l2 7M189 49l-7 -1M188 51l2 7M188 51l-7 -1M186 52l3 6M186 52l-7 -1M185 54l3 8M185 54l-9 -0M184 55l1 8M184 55l-8 0M183 57l4 9M183 57l-9 -1M181 59l5 13M181 59l-14 0M180 60l4 9M180 60l-9 0M179 62l1 7M179 62l-7 -1M178 63l5 10M178 63l-10 -2M176 65l2 4M176 65l-5 -0M175 67l1 3M175 67l-3 -1M174 68l0 0M174 68l-0 0" stroke="rgb(199,199,199)" stroke-width="1.9" stroke-opacity="0.92"/><path d="M168 46L192 60M169 47l4 -1M169 47l0 4M171 48l6 -2M171 48l1 6M173 49l3 -2M173 49l1 4M175 50l9 -3M175 50l1 10M177 51l7 -3M177 51l-0 7M178 52l6 -4M178 52l-0 7M180 53l9 -5M180 53l-1 10M182 54l9 -4M182 54l3 10M184 55l5 -2M184 55l0 5M185 56l5 -3M185 56l2 6M187 57l4 -2M187 57l1 4M189 58l3 -1M189 58l1 3M191 59l0 -0M191 59l0 0" stroke="rgb(193,193,193)" stroke-width="1.5" stroke-opacity="0.81"/><path d="M276 216L267 178M276 214l-4 -1M276 214l3 -3M275 212l-4 -2M275 212l3 -3M275 210l-5 -2M275 210l3 -4M274 208l-12 -3M274 208l8 -9M274 206l-12 -6M274 206l10 -9M274 204l-12 -2M274 204l9 -9M273 202l-9 -3M273 202l7 -6M273 200l-13 -7M273 200l11 -9M272 198l-12 -3M272 198l10 -7M272 196l-13 -7M272 196l10 -11M271 194l-7 -4M271 194l4 -7M271 192l-7 -4M271 192l6 -6M270 190l-12 -4M270 190l10 -8M270 188l-9 -3M270 188l6 -7M269 186l-4 -1M269 186l2 -4M269 184l-6 -3M269 184l4 -5M268 182l-2 -1M268 182l1 -2M268 180l-0 -0M268 180l0 -0" stroke="rgb(162,162,162)" stroke-width="1.8" stroke-opacity="0.78"/><path d="M30 105L1 118M28 106l-1 4M28 106l-4 -2M26 107l0 5M26 107l-4 -3M24 108l-2 7M24 108l-6 -4M22 109l0 10M22 109l-8 -7M20 109l0 7M20 109l-5 -4M18 110l-3 10M18 110l-8 -7M16 111l-1 11M16 111l-9 -6M15 112l-2 9M15 112l-7 -5M13 113l-1 9M13 113l-8 -5M11 114l-2 9M11 114l-7 -5M9 115l-0 7M9 115l-6 -3M7 115l-2 6M7 115l-6 -3M5 116l0 3M5 116l-2 -2M3 117l-0 0M3 117l-0 -0" stroke="rgb(224,224,224)" stroke-width="1.7" stroke-opacity="0.89"/><path d="M164 135L189 156M165 136l5 -2M165 136l-1 5M167 138l4 -1M167 138l-1 4M169 139l6 -1M169 139l-1 6M170 140l7 -3M170 140l1 7M172 142l6 -2M172 142l0 7M173 143l12 -4M173 143l-1 12M175 144l7 -2M175 144l1 7M177 146l10 -2M177 146l0 10M178 147l8 -4M178 147l0 8M180 148l12 -1M180 148l-2 12M181 150l8 -2M181 150l0 8M183 151l8 -2M183 151l-0 8M185 152l5 -1M185 152l0 5M186 154l2 -1M186 154l-0 2M188 155l0 -0M188 155l0 0" stroke="rgb(185,185,185)" stroke-width="1.9" stroke-opacity="0.62"/><path d="M293 126L268 103M291 124l-3 1M291 124l1 -4M290 123l-7 2M290 123l-0 -7M288 121l-8 1M288 121l1 -8M287 120l-8 2M287 120l1 -8M285 119l-9 4M285 119l1 -10M284 117l-8 2M284 117l3 -8M282 116l-8 0M282 116l-0 -8M281 114l-10 5M281 114l1 -11M279 113l-6 1M279 113l1 -6M277 111l-10 3M277 111l3 -10M276 110l-10 2M276 110l1 -10M274 109l-4 2M274 109l1 -4M273 107l-4 2M273 107l1 -4M271 106l-3 1M271 106l1 -3M270 104l-0 0M270 104l0 -0" stroke="rgb(144,144,144)" stroke-width="1.7" stroke-opacity="0.70"/><path d="M76 141L91 122M77 139l-0 -3M77 139l3 -0M79 137l-1 -3M79 137l3 0M80 136l-1 -6M80 136l6 0M81 134l-2 -5M81 134l5 0M83 132l-2 -5M83 132l5 -1M84 131l-2 -4M84 131l4 1M85 129l-1 -5M85 129l5 -0M87 127l-2 -4M87 127l5 0M88 126l-0 -2M88 126l2 0M89 124l-0 -0M89 124l0 0" stroke="rgb(191,191,191)" stroke-width="1.6" stroke-opacity="0.94"/><path d="M118 211L117 227M118 214l3 3M118 214l-4 2M118 216l3 2M118 216l-3 1M118 218l3 4M118 218l-4 4M117 220l4 3M117 220l-5 2M117 223l3 3M117 223l-4 2M117 225l2 1M117 225l-2 1" stroke="rgb(156,156,156)" stroke-width="1.5" stroke-opacity="0.67"/><path d="M255 90L221 76M253 89l-4 3M253 89l-0 -5M251 89l-6 3M251 89l-1 -7M250 88l-7 6M250 88l-2 -9M248 87l-8 7M248 87l-4 -10M246 86l-5 5M246 86l-0 -7M244 86l-8 3M244 86l-1 -8M242 85l-7 7M242 85l-1 -9M240 84l-6 4M240 84l-2 -7M238 83l-4 4M238 83l-2 -6M236 82l-8 4M236 82l-1 -9M234 82l-11 5M234 82l-1 -12M233 81l-7 5M233 81l-4 -8M231 80l-4 4M231 80l-0 -6M229 79l-5 4M229 79l-2 -6M227 79l-4 3M227 79l-0 -5M225 78l-2 1M225 78l-0 -2M223 77l-0 0M223 77l-0 -0" stroke="rgb(230,230,230)" stroke-width="1.3" stroke-opacity="0.95"/><path d="M219 130L244 131M221 130l3 -3M221 130l3 4M223 130l5 -5M223 130l2 6M225 130l7 -8M225 130l6 8M228 130l7 -8M228 130l4 10M230 130l3 -5M230 130l3 5M232 131l9 -8M232 131l8 9M234 131l6 -9M234 131l7 9M236 131l4 -7M236 131l4 7M238 131l5 -5M238 131l5 5M240 131l3 -4M240 131l4 4M242 131l0 -0M242 131l0 0" stroke="rgb(144,144,144)" stroke-width="1.4" stroke-opacity="0.77"/><path d="M-4 72L18 69M-2 72l2 -3M-2 72l2 3M0 72l2 -3M0 72l3 2M2 71l3 -7M2 71l5 5M5 71l2 -3M5 71l2 3M7 70l2 -3M7 70l3 3M9 70l3 -5M9 70l5 4M11 70l3 -5M11 70l4 4M13 69l1 -3M13 69l2 2M15 69l0 -1M15 69l1 1" stroke="rgb(235,235,235)" stroke-width="1.6" stroke-opacity="0.86"/><path d="M41 162L63 191M42 164l5 -1M42 164l-2 5M43 165l6 -0M43 165l-2 6M45 167l8 -0M45 167l-4 7M46 169l13 1M46 169l-3 13M47 170l7 0M47 170l-1 7M48 172l16 -0M48 172l-2 15M50 173l11 -1M50 173l-2 10M51 175l8 1M51 175l-2 8M52 176l10 0M52 176l-3 10M53 178l15 1M53 178l-3 15M55 180l11 -2M55 180l-4 10M56 181l8 -2M56 181l-1 8M57 183l10 1M57 183l-2 10M58 184l5 -1M58 184l-1 5M60 186l7 -2M60 186l-2 7M61 188l3 0M61 188l-1 3M62 189l0 -0M62 189l-0 0" stroke="rgb(207,207,207)" stroke-width="1.4" stroke-opacity="0.65"/><path d="M20 101L5 73M19 100l-4 0M19 100l2 -4M18 98l-6 -0M18 98l2 -5M17 96l-11 -3M17 96l6 -10M16 94l-8 0M16 94l3 -7M15 92l-8 -3M15 92l5 -7M14 91l-15 -3M14 91l5 -15M13 89l-9 -1M13 89l3 -9M12 87l-8 -3M12 87l4 -8M11 85l-8 -2M11 85l5 -7M10 84l-11 -3M10 84l6 -9M9 82l-12 -0M9 82l7 -10M8 80l-7 -1M8 80l3 -6M7 78l-7 -2M7 78l5 -6M6 76l-4 -1M6 76l2 -4M6 75l-0 -0M6 75l0 -0" stroke="rgb(226,226,226)" stroke-width="1.5" stroke-opacity="0.57"/><path d="M48 7L50 35M48 9l3 1M48 9l-2 2M48 11l6 3M48 11l-6 3M48 13l6 3M48 13l-6 4M48 15l6 3M48 15l-5 3M48 17l6 4M48 17l-6 5M49 19l7 4M49 19l-7 4M49 21l9 4M49 21l-8 6M49 23l9 6M49 23l-7 8M49 25l9 4M49 25l-6 7M49 27l7 3M49 27l-6 5M49 29l3 3M49 29l-4 2M50 31l2 1M50 31l-1 1M50 33l0 0M50 33l-0 0" stroke="rgb(178,178,178)" stroke-width="1.6" stroke-opacity="0.83"/><path d="M-2 195L-25 187M-4 194l-3 2M-4 194l-1 -3M-6 194l-5 6M-6 194l-2 -7M-8 193l-6 7M-8 193l-4 -8M-10 192l-4 4M-10 192l-1 -6M-12 192l-9 6M-12 192l-4 -10M-14 191l-10 5M-14 191l-3 -11M-16 190l-6 3M-16 190l-1 -7M-18 190l-6 5M-18 190l-2 -7M-19 189l-3 2M-19 189l-2 -3M-21 189l-2 2M-21 189l-1 -3M-23 188l-0 0M-23 188l-0 -0" stroke="rgb(185,185,185)" stroke-width="2.0" stroke-opacity="0.76"/><path d="M248 41L256 70M249 43l4 1M249 43l-3 2M249 45l9 1M249 45l-4 8M250 47l5 3M250 47l-3 5M250 49l10 2M250 49l-6 8M251 50l12 4M251 50l-6 11M251 52l10 2M251 52l-6 8M252 54l11 2M252 54l-8 7M252 56l9 4M252 56l-6 7M253 58l8 4M253 58l-6 6M253 60l5 3M253 60l-3 5M254 62l7 4M254 62l-5 6M254 64l7 1M254 64l-5 5M255 66l4 2M255 66l-4 3M255 68l0 0M255 68l-0 0" stroke="rgb(206,206,206)" stroke-width="1.4" stroke-opacity="0.81"/><path d="M-27 12L-1 26M-25 13l4 -1M-25 13l0 4M-23 14l4 -3M-23 14l0 5M-22 15l7 -5M-22 15l2 9M-20 16l6 -4M-20 16l2 7M-18 17l8 -3M-18 17l1 8M-16 18l10 -5M-16 18l3 11M-14 19l7 -4M-14 19l2 8M-12 20l8 -4M-12 20l2 9M-10 21l5 -3M-10 21l0 6M-9 22l9 -6M-9 22l-0 11M-7 23l5 -2M-7 23l0 6M-5 24l4 -2M-5 24l-0 4M-3 25l0 -0M-3 25l0 0" stroke="rgb(188,188,188)" stroke-width="1.7" stroke-opacity="0.84"/><path d="M236 96L265 76M238 95l1 -5M238 95l5 1M240 94l-1 -7M240 94l7 2M241 93l-1 -7M241 93l6 3M243 92l1 -7M243 92l7 3M245 90l-0 -15M245 90l14 5M247 89l-1 -11M247 89l10 5M248 88l-2 -10M248 88l10 3M250 87l-1 -9M250 87l9 1M252 86l-1 -14M252 86l14 2M253 84l0 -8M253 84l8 2M255 83l-2 -12M255 83l12 4M257 82l2 -10M257 82l10 2M259 81l-1 -8M259 81l8 2M260 79l-0 -4M260 79l4 1M262 78l-0 -4M262 78l4 1M264 77l0 -0M264 77l0 0" stroke="rgb(226,226,226)" stroke-width="2.0" stroke-opacity="0.64"/><path d="M52 135L54 161M52 137l2 2M52 137l-2 2M52 139l3 2M52 139l-2 3M52 141l7 4M52 141l-7 4M53 143l5 4M53 143l-5 3M53 145l5 3M53 145l-5 3M53 147l7 4M53 147l-7 4M53 149l6 4M53 149l-5 6M53 151l7 5M53 151l-7 5M53 153l6 3M53 153l-6 4M53 155l4 3M53 155l-4 3M54 157l3 2M54 157l-3 2M54 159l0 0M54 159l-0 0" stroke="rgb(226,226,226)" stroke-width="1.8" stroke-opacity="0.84"/><path d="M188 97L210 109M189 98l3 -2M189 98l0 3M191 99l5 -3M191 99l1 6M193 100l6 -3M193 100l1 7M195 101l5 -4M195 101l1 6M197 102l9 -3M197 102l3 9M199 103l6 -2M199 103l0 6M200 104l7 -3M200 104l1 7M202 105l4 -2M202 105l0 4M204 106l3 -3M204 106l1 4M206 107l3 -2M206 107l-0 3M208 108l0 -0M208 108l0 0" stroke="rgb(217,217,217)" stroke-width="1.8" stroke-opacity="0.71"/><path d="M70 -6L87 -14M72 -7l1 -5M72 -7l4 3M73 -7l1 -3M73 -7l3 1M75 -8l-0 -8M75 -8l6 4M77 -9l-0 -7M77 -9l6 4M79 -10l-0 -6M79 -10l5 3M81 -11l2 -6M81 -11l5 4M83 -12l0 -5M83 -12l4 3M85 -13l0 -1M85 -13l1 0" stroke="rgb(179,179,179)" stroke-width="1.4" stroke-opacity="0.77"/><path d="M5 166L19 141M6 164l-2 -3M6 164l3 0M7 162l-4 -6M7 162l6 -1M8 161l-2 -4M8 161l5 -1M9 159l-6 -9M9 159l11 0M10 157l-3 -5M10 157l6 -1M11 155l-3 -7M11 155l7 -2M12 153l-7 -10M12 153l12 -4M13 151l-4 -8M13 151l9 -1M14 150l-5 -6M14 150l7 0M15 148l-3 -5M15 148l5 -1M16 146l-3 -4M16 146l5 -1M17 144l-1 -3M17 144l3 -1M18 142l-0 -0M18 142l0 0" stroke="rgb(212,212,212)" stroke-width="1.6" stroke-opacity="0.89"/><path d="M4 146L20 127M6 145l-3 -5M6 145l6 1M7 143l-3 -8M7 143l9 0M8 141l-1 -8M8 141l8 1M10 140l-2 -8M10 140l8 2M11 138l-3 -8M11 138l8 0M12 137l-5 -10M12 137l11 -0M14 135l-5 -9M14 135l10 2M15 133l-2 -6M15 133l7 1M16 132l-1 -4M16 132l4 -0M18 130l-0 -4M18 130l4 0M19 128l-0 -0M19 128l0 -0" stroke="rgb(225,225,225)" stroke-width="1.6" stroke-opacity="0.93"/><path d="M264 -6L273 -23M265 -8l-1 -2M265 -8l2 -0M266 -10l-2 -4M266 -10l4 -1M267 -12l-3 -6M267 -12l7 -1M268 -13l-2 -6M268 -13l6 -2M269 -15l-3 -6M269 -15l7 -1M270 -17l-1 -5M270 -17l5 -1M271 -19l-2 -4M271 -19l5 0M272 -21l-1 -1M272 -21l1 -0" stroke="rgb(189,189,189)" stroke-width="1.8" stroke-opacity="0.70"/><path d="M259 168L220 159M257 168l-4 4M257 168l-2 -6M255 167l-7 8M255 167l-2 -10M252 167l-5 4M252 167l-3 -5M250 166l-11 10M250 166l-8 -12M248 166l-9 6M248 166l-5 -10M246 165l-6 7M246 165l-2 -9M244 165l-7 5M244 165l-4 -8M242 164l-10 12M242 164l-7 -14M240 164l-11 11M240 164l-6 -14M238 164l-9 12M238 164l-8 -13M236 163l-10 6M236 163l-3 -11M234 163l-12 9M234 163l-7 -13M232 162l-11 9M232 162l-4 -14M230 162l-4 6M230 162l-2 -7M228 161l-5 6M228 161l-4 -6M226 161l-3 3M226 161l-1 -4M224 160l-2 1M224 160l-1 -2M222 160l-0 0M222 160l-0 -0" stroke="rgb(169,169,169)" stroke-width="1.5" stroke-opacity="0.75"/><path d="M103 90L117 83M105 89l-0 -3M105 89l2 2M107 88l0 -6M107 88l5 3M109 87l-0 -7M109 87l6 4M111 86l1 -5M111 86l4 3M113 85l1 -4M113 85l4 2M115 84l-0 -2M115 84l2 1" stroke="rgb(210,210,210)" stroke-width="2.0" stroke-opacity="0.61"/><path d="M97 63L62 65M95 63l-3 3M95 63l-2 -4M92 64l-5 8M92 64l-6 -8M90 64l-6 10M90 64l-7 -10M88 64l-7 8M88 64l-7 -8M86 64l-5 6M86 64l-4 -7M84 64l-5 13M84 64l-8 -12M82 64l-8 10M82 64l-7 -10M80 64l-9 15M80 64l-9 -15M78 64l-8 13M78 64l-9 -12M76 64l-5 8M76 64l-6 -8M74 64l-10 11M74 64l-7 -13M72 64l-9 10M72 64l-10 -9M70 65l-2 5M70 65l-3 -4M68 65l-4 7M68 65l-5 -6M66 65l-2 3M66 65l-3 -2M64 65l-0 0M64 65l-0 -0" stroke="rgb(141,141,141)" stroke-width="1.9" stroke-opacity="0.88"/><path d="M125 94L119 78M125 92l-4 -1M125 92l2 -4M124 90l-5 -2M124 90l2 -5M123 88l-6 -0M123 88l4 -5M122 86l-4 -1M122 86l2 -3M122 84l-6 -1M122 84l4 -6M121 82l-5 -1M121 82l3 -4M120 80l-2 -1M120 80l1 -1" stroke="rgb(191,191,191)" stroke-width="1.9" stroke-opacity="0.92"/><path d="M199 56L219 43M200 55l1 -3M200 55l3 1M202 54l1 -7M202 54l7 3M204 53l1 -7M204 53l7 2M205 52l-1 -10M205 52l10 4M207 51l0 -6M207 51l6 2M209 50l2 -7M209 50l7 3M210 49l0 -10M210 49l8 6M212 48l1 -8M212 48l8 3M214 47l-1 -4M214 47l4 2M216 45l0 -5M216 45l5 2M217 44l-0 -0M217 44l0 0" stroke="rgb(209,209,209)" stroke-width="1.6" stroke-opacity="0.65"/><path d="M116 81L116 97M116 83l2 2M116 83l-2 2M116 86l4 2M116 86l-3 3M116 88l3 2M116 88l-3 2M116 90l3 2M116 90l-3 3M116 92l3 2M116 92l-3 2M116 94l2 1M116 94l-2 1" stroke="rgb(209,209,209)" stroke-width="1.9" stroke-opacity="0.62"/><path d="M219 172L235 162M221 171l1 -3M221 171l3 2M223 170l1 -3M223 170l3 1M225 169l-1 -7M225 169l7 2M226 168l1 -7M226 168l6 4M228 167l-1 -7M228 167l7 2M230 166l-0 -3M230 166l3 2M231 165l1 -5M231 165l5 1M233 164l-0 -1M233 164l1 0" stroke="rgb(175,175,175)" stroke-width="1.3" stroke-opacity="0.91"/><path d="M243 61L230 74M241 62l1 3M241 62l-3 -1M240 64l0 4M240 64l-4 0M238 65l2 5M238 65l-5 0M237 67l1 4M237 67l-4 -1M236 68l1 4M236 68l-4 -1M234 70l2 6M234 70l-6 -2M233 71l0 2M233 71l-2 -1M231 73l0 2M231 73l-2 -0" stroke="rgb(219,219,219)" stroke-width="1.8" stroke-opacity="0.85"/><path d="M29 -14L17 2M28 -13l1 4M28 -13l-4 0M27 -11l0 4M27 -11l-4 0M26 -9l2 4M26 -9l-4 1M25 -8l3 7M25 -8l-8 -0M23 -6l2 5M23 -6l-5 0M22 -5l1 4M22 -5l-4 0M21 -3l2 4M21 -3l-5 1M20 -1l2 4M20 -1l-4 -1M19 0l0 1M19 0l-1 0" stroke="rgb(157,157,157)" stroke-width="2.0" stroke-opacity="0.64"/><path d="M106 114L101 79M106 112l-3 -1M106 112l3 -2M106 110l-8 -3M106 110l6 -5M105 108l-8 -3M105 108l6 -6M105 106l-7 -2M105 106l4 -5M105 104l-7 -3M105 104l4 -6M104 102l-11 -7M104 102l8 -10M104 100l-14 -5M104 100l11 -10M104 98l-6 -5M104 98l5 -6M104 96l-14 -7M104 96l10 -12M103 94l-12 -5M103 94l9 -10M103 91l-6 -3M103 91l4 -5M103 89l-6 -3M103 89l5 -4M102 87l-8 -3M102 87l7 -5M102 85l-7 -3M102 85l5 -5M102 83l-2 -1M102 83l1 -2M101 81l-0 -0M101 81l0 -0" stroke="rgb(187,187,187)" stroke-width="1.9" stroke-opacity="0.79"/><path d="M240 94L230 132M240 96l3 5M240 96l-5 3M239 98l5 4M239 98l-6 2M238 100l5 4M238 100l-6 3M238 102l8 7M238 102l-10 4M237 104l10 9M237 104l-13 4M237 106l6 4M237 106l-6 3M236 108l7 7M236 108l-9 4M236 110l10 11M236 110l-15 3M235 112l5 8M235 112l-9 2M235 114l10 10M235 114l-13 5M234 116l9 7M234 116l-10 6M234 118l5 4M234 118l-6 1M233 120l7 7M233 120l-10 2M233 122l7 9M233 122l-10 4M232 124l3 3M232 124l-4 1M232 126l2 3M232 126l-3 2M231 128l1 1M231 128l-1 1M231 130l0 0M231 130l-0 0" stroke="rgb(158,158,158)" stroke-width="1.5" stroke-opacity="0.63"/><path d="M281 76L272 103M280 78l2 3M280 78l-4 1M280 80l3 3M280 80l-4 1M279 82l2 4M279 82l-5 2M279 84l4 7M279 84l-8 2M278 86l3 5M278 86l-6 2M277 87l7 9M277 87l-11 4M277 89l7 6M277 89l-9 3M276 91l6 6M276 91l-8 2M275 93l4 7M275 93l-8 2M275 95l3 3M275 95l-4 2M274 97l1 3M274 97l-3 1M273 99l2 2M273 99l-3 0M273 101l0 0M273 101l-0 0" stroke="rgb(226,226,226)" stroke-width="1.5" stroke-opacity="0.69"/><path d="M93 137L68 132M91 137l-3 2M91 137l-2 -4M89 136l-5 3M89 136l-3 -5M87 136l-7 4M87 136l-4 -8M85 135l-5 3M85 135l-2 -6M83 135l-7 5M83 135l-4 -7M81 135l-8 5M81 135l-2 -9M79 134l-6 5M79 134l-2 -8M77 134l-5 6M77 134l-2 -7M75 133l-2 3M75 133l-1 -3M73 133l-4 3M73 133l-2 -4M71 132l-0 0M71 132l-0 -0" stroke="rgb(168,168,168)" stroke-width="1.5" stroke-opacity="0.81"/><path d="M151 28L132 26M149 28l-3 3M149 28l-2 -3M147 28l-3 3M147 28l-2 -3M145 27l-6 5M145 27l-5 -6M143 27l-6 6M143 27l-4 -7M141 27l-3 4M141 27l-3 -4M139 27l-2 3M139 27l-2 -3M136 27l-2 2M136 27l-2 -3M134 27l-1 1M134 27l-1 -1" stroke="rgb(183,183,183)" stroke-width="1.8" stroke-opacity="0.75"/><path d="M14 20L16 -10M14 18l-4 -3M14 18l4 -3M14 16l-6 -5M14 16l6 -5M14 14l-6 -6M14 14l6 -5M14 12l-9 -7M14 12l10 -4M14 10l-7 -8M14 10l9 -5M15 8l-8 -8M15 8l9 -7M15 6l-9 -7M15 6l10 -6M15 4l-8 -9M15 4l9 -8M15 2l-9 -8M15 2l9 -8M15 -0l-10 -5M15 -0l9 -7M15 -2l-5 -6M15 -2l7 -3M15 -4l-3 -3M15 -4l3 -2M16 -6l-2 -1M16 -6l2 -1M16 -8l-0 -0M16 -8l0 -0" stroke="rgb(173,173,173)" stroke-width="1.5" stroke-opacity="0.94"/><path d="M94 2L76 27M93 3l3 6M93 3l-6 1M92 5l3 6M92 5l-6 0M90 7l3 7M90 7l-8 1M89 8l2 9M89 8l-9 -0M88 10l4 8M88 10l-9 0M87 12l5 14M87 12l-15 1M85 13l2 12M85 13l-12 -2M84 15l4 15M84 15l-16 -0M83 17l3 6M83 17l-7 1M82 18l1 11M82 18l-11 -0M81 20l5 10M81 20l-11 -1M79 22l1 5M79 22l-5 -1M78 23l2 4M78 23l-5 1M77 25l0 0M77 25l-0 0" stroke="rgb(171,171,171)" stroke-width="2.0" stroke-opacity="0.89"/><path d="M255 90L238 75M254 89l-3 0M254 89l0 -3M252 87l-4 1M252 87l1 -4M251 86l-3 1M251 86l-0 -4M249 85l-4 1M249 85l0 -4M247 83l-7 1M247 83l1 -7M246 82l-8 2M246 82l1 -8M244 81l-4 2M244 81l0 -4M243 79l-6 2M243 79l1 -6M241 78l-2 1M241 78l1 -2M240 76l-0 0M240 76l0 -0" stroke="rgb(217,217,217)" stroke-width="1.7" stroke-opacity="0.81"/><path d="M-14 181L-14 153M-14 179l-5 -2M-14 179l5 -3M-14 177l-4 -2M-14 177l3 -3M-14 174l-7 -5M-14 174l8 -4M-14 172l-8 -3M-14 172l8 -4M-14 170l-10 -9M-14 170l12 -6M-14 168l-8 -6M-14 168l8 -6M-14 166l-5 -4M-14 166l5 -4M-14 164l-6 -3M-14 164l6 -3M-14 162l-6 -6M-14 162l8 -4M-14 159l-5 -4M-14 159l6 -3M-14 157l-3 -3M-14 157l4 -2M-14 155l-0 -0M-14 155l0 -0" stroke="rgb(216,216,216)" stroke-width="1.8" stroke-opacity="0.60"/><path d="M11 216L36 218M13 216l3 -4M13 216l2 4M15 216l2 -3M15 216l1 4M17 216l8 -7M17 216l4 10M19 216l3 -6M19 216l4 5M21 216l7 -6M21 216l7 7M23 217l7 -6M23 217l4 8M26 217l4 -8M26 217l3 9M28 217l5 -8M28 217l5 8M30 217l4 -6M30 217l5 6M32 217l2 -2M32 217l2 2M34 217l0 -0M34 217l0 0" stroke="rgb(198,198,198)" stroke-width="1.5" stroke-opacity="0.80"/><path d="M41 67L12 50M39 66l-3 1M39 66l-1 -3M37 65l-8 4M37 65l-2 -9M36 64l-8 2M36 64l0 -9M34 63l-6 1M34 63l-1 -6M32 62l-8 2M32 62l-1 -8M30 61l-14 7M30 61l-1 -15M28 60l-15 7M28 60l-4 -16M27 59l-13 5M27 59l2 -14M25 58l-8 6M25 58l-1 -10M23 56l-9 5M23 56l-2 -11M21 55l-6 4M21 55l-0 -8M20 54l-5 3M20 54l-1 -6M18 53l-5 3M18 53l-0 -6M16 52l-4 1M16 52l0 -4M14 51l-0 0M14 51l0 -0" stroke="rgb(155,155,155)" stroke-width="1.5" stroke-opacity="0.74"/><path d="M84 150L90 185M85 152l4 2M85 152l-2 3M85 154l7 2M85 154l-6 4M85 156l7 5M85 156l-7 5M86 158l6 4M86 158l-5 4M86 160l13 7M86 160l-12 8M86 162l9 5M86 162l-8 7M87 164l8 4M87 164l-5 7M87 166l14 4M87 166l-9 11M87 168l14 8M87 168l-13 9M88 170l9 5M88 170l-7 8M88 172l9 6M88 172l-7 8M88 175l6 4M88 175l-6 4M89 177l6 3M89 177l-5 4M89 179l5 1M89 179l-4 3M89 181l2 1M89 181l-2 1M90 183l0 0M90 183l-0 0" stroke="rgb(212,212,212)" stroke-width="1.7" stroke-opacity="0.73"/><path d="M116 111L120 93M116 109l-4 -3M116 109l5 -1M117 106l-3 -5M117 106l5 -2M117 104l-6 -5M117 104l7 -4M118 102l-4 -4M118 102l6 -2M118 100l-3 -3M118 100l4 -1M119 98l-3 -4M119 98l5 -1M119 96l-1 -1M119 96l1 -0" stroke="rgb(211,211,211)" stroke-width="1.7" stroke-opacity="0.83"/><path d="M39 167L39 127M39 164l-3 -2M39 164l3 -2M39 162l-5 -4M39 162l6 -4M39 160l-10 -5M39 160l9 -7M39 158l-9 -5M39 158l9 -5M39 156l-9 -7M39 156l10 -5M39 154l-12 -7M39 154l11 -8M39 152l-8 -6M39 152l7 -7M39 150l-11 -7M39 150l11 -7M39 148l-8 -4M39 148l7 -7M39 146l-9 -6M39 146l9 -6M39 144l-9 -9M39 144l10 -7M39 142l-13 -9M39 142l14 -7M39 140l-13 -7M39 140l11 -9M39 138l-7 -4M39 138l7 -5M39 136l-6 -3M39 136l5 -4M39 134l-4 -4M39 134l4 -4M39 132l-1 -1M39 132l1 -1M39 129l-0 -0M39 129l0 -0" stroke="rgb(227,227,227)" stroke-width="1.6" stroke-opacity="0.63"/><path d="M93 89L93 62M93 87l-4 -2M93 87l3 -3M93 85l-3 -4M93 85l4 -3M93 83l-5 -3M93 83l5 -3M93 81l-8 -7M93 81l8 -7M93 79l-6 -5M93 79l7 -4M93 77l-7 -4M93 77l7 -4M93 74l-8 -6M93 74l8 -5M93 72l-5 -2M93 72l5 -3M93 70l-3 -3M93 70l4 -2M93 68l-4 -4M93 68l5 -2M93 66l-3 -2M93 66l2 -2M93 64l-0 -0M93 64l0 -0" stroke="rgb(196,196,196)" stroke-width="2.0" stroke-opacity="0.68"/><path d="M126 92L124 129M126 94l3 3M126 94l-3 2M126 96l7 4M126 96l-7 3M126 98l5 4M126 98l-6 3M126 100l5 3M126 100l-5 4M126 102l6 4M126 102l-6 3M126 104l8 8M126 104l-11 4M125 106l9 6M125 106l-9 6M125 108l5 6M125 108l-7 3M125 111l7 5M125 111l-7 6M125 113l9 9M125 113l-11 6M125 115l6 4M125 115l-7 3M125 117l10 5M125 117l-9 7M125 119l8 6M125 119l-7 7M125 121l4 4M125 121l-4 4M124 123l4 3M124 123l-4 3M124 125l1 1M124 125l-1 1M124 127l0 0M124 127l-0 0" stroke="rgb(188,188,188)" stroke-width="1.3" stroke-opacity="0.79"/><path d="M248 49L222 61M246 50l-1 4M246 50l-3 -2M244 51l0 6M244 51l-5 -3M242 52l-2 7M242 52l-6 -4M241 52l-2 9M241 52l-7 -6M239 53l-2 7M239 53l-6 -4M237 54l-1 8M237 54l-7 -4M235 55l-1 5M235 55l-5 -2M233 56l-1 5M233 56l-4 -2M231 57l-1 9M231 57l-7 -6M229 58l-2 6M229 58l-6 -3M228 59l-0 3M228 59l-3 -1M226 59l-1 2M226 59l-2 -1M224 60l-0 0M224 60l-0 -0" stroke="rgb(212,212,212)" stroke-width="1.3" stroke-opacity="0.58"/><path d="M208 -5L232 -10M210 -6l3 -5M210 -6l3 4M212 -6l2 -8M212 -6l6 5M214 -6l4 -9M214 -6l8 5M216 -7l3 -7M216 -7l6 4M218 -7l3 -10M218 -7l6 8M220 -8l4 -6M220 -8l5 5M222 -8l3 -8M222 -8l7 6M224 -9l5 -9M224 -9l8 6M226 -9l3 -5M226 -9l5 4M228 -9l1 -4M228 -9l3 3M230 -10l0 -0M230 -10l0 0" stroke="rgb(230,230,230)" stroke-width="1.6" stroke-opacity="0.79"/><path d="M190 29L209 45M192 30l4 -2M192 30l-0 4M193 32l5 -1M193 32l-1 5M195 33l6 -1M195 33l-1 6M196 34l6 -2M196 34l0 6M198 36l5 -1M198 36l0 5M200 37l9 -1M200 37l-1 9M201 38l6 -1M201 38l-0 6M203 40l4 -2M203 40l-0 4M204 41l6 -2M204 41l-2 6M206 42l3 -1M206 42l-1 3M208 44l0 -0M208 44l-0 0" stroke="rgb(182,182,182)" stroke-width="1.8" stroke-opacity="0.82"/><path d="M124 182L100 205M122 183l1 4M122 183l-5 -0M121 185l1 5M121 185l-5 -1M119 186l1 5M119 186l-5 -2M118 188l2 5M118 188l-5 -1M117 189l2 7M117 189l-7 -0M115 191l2 12M115 191l-12 -3M114 192l2 8M114 192l-8 -1M112 194l3 12M112 194l-11 -4M111 195l1 8M111 195l-8 -3M109 197l3 7M109 197l-7 -2M108 198l0 7M108 198l-7 -1M106 199l1 6M106 199l-6 -1M105 201l2 5M105 201l-5 -1M103 202l1 2M103 202l-2 0M102 204l0 0M102 204l-0 -0" stroke="rgb(192,192,192)" stroke-width="1.8" stroke-opacity="0.87"/><path d="M158 117L122 127M156 118l-2 5M156 118l-4 -4M154 118l-5 9M154 118l-7 -8M152 119l-2 6M152 119l-5 -4M150 119l-2 12M150 119l-10 -7M148 120l-5 13M148 120l-10 -11M146 120l-7 16M146 120l-14 -11M144 121l-3 16M144 121l-14 -10M142 121l-6 14M142 121l-11 -10M140 122l-2 11M140 122l-8 -7M138 122l-6 13M138 122l-10 -10M136 123l-3 7M136 123l-5 -6M134 123l-2 11M134 123l-8 -8M132 124l-3 9M132 124l-6 -7M130 124l-6 10M130 124l-9 -7M128 125l-1 6M128 125l-4 -5M126 126l-1 2M126 126l-1 -2M124 126l-0 0M124 126l-0 -0" stroke="rgb(162,162,162)" stroke-width="1.4" stroke-opacity="0.77"/><path d="M136 158L128 130M136 157l-4 -1M136 157l3 -3M135 155l-8 -2M135 155l5 -6M135 153l-7 -3M135 153l4 -7M134 151l-12 -3M134 151l8 -9M133 149l-11 -3M133 149l5 -10M133 147l-7 -3M133 147l6 -6M132 145l-8 -5M132 145l6 -7M132 143l-6 -3M132 143l4 -5M131 141l-6 -3M131 141l5 -4M131 139l-8 -3M131 139l5 -7M130 137l-6 -2M130 137l3 -5M129 135l-7 -3M129 135l4 -6M129 134l-2 -1M129 134l2 -2M128 132l-0 -0M128 132l0 -0" stroke="rgb(194,194,194)" stroke-width="1.6" stroke-opacity="0.71"/><path d="M104 187L123 171M106 186l-1 -3M106 186l3 1M107 185l-1 -4M107 185l4 1M109 183l1 -6M109 183l6 2M110 182l-2 -6M110 182l6 1M112 181l-2 -9M112 181l9 3M114 179l0 -6M114 179l5 3M115 178l-0 -4M115 178l4 2M117 177l0 -7M117 177l7 1M118 175l-2 -6M118 175l6 2M120 174l-0 -2M120 174l2 1M121 173l-0 -0M121 173l0 0" stroke="rgb(202,202,202)" stroke-width="1.2" stroke-opacity="0.94"/><path d="M214 154L208 173M214 156l1 3M214 156l-3 1M213 158l3 4M213 158l-4 2M212 160l6 6M212 160l-8 2M212 162l2 4M212 162l-5 1M211 164l3 6M211 164l-7 2M210 166l3 4M210 166l-5 0M210 168l5 4M210 168l-6 2M209 169l3 3M209 169l-3 1M208 171l1 1M208 171l-1 0" stroke="rgb(162,162,162)" stroke-width="1.6" stroke-opacity="0.65"/><path d="M188 120L167 143M186 122l1 3M186 122l-3 -0M185 123l2 7M185 123l-8 -0M184 125l3 8M184 125l-8 -0M182 126l4 10M182 126l-11 -2M181 128l2 13M181 128l-13 -2M180 129l1 11M180 129l-12 1M178 131l1 13M178 131l-13 -2M177 132l4 11M177 132l-11 1M176 134l1 6M176 134l-6 -1M174 135l2 7M174 135l-7 -2M173 137l2 5M173 137l-5 -0M172 138l2 5M172 138l-6 -1M170 140l0 2M170 140l-2 -0M169 141l0 0M169 141l-0 -0" stroke="rgb(193,193,193)" stroke-width="1.7" stroke-opacity="0.78"/><path d="M257 45L226 45M255 45l-2 3M255 45l-2 -3M253 45l-4 6M253 45l-4 -6M251 45l-4 7M251 45l-5 -6M249 45l-6 9M249 45l-7 -9M247 45l-6 10M247 45l-6 -9M245 45l-8 7M245 45l-4 -10M243 45l-5 8M243 45l-7 -7M241 45l-4 5M241 45l-3 -6M239 45l-6 9M239 45l-6 -9M237 45l-4 4M237 45l-3 -5M235 45l-2 5M235 45l-3 -4M232 45l-2 3M232 45l-2 -3M230 45l-2 2M230 45l-2 -2M228 45l-0 0M228 45l-0 -0" stroke="rgb(204,204,204)" stroke-width="1.9" stroke-opacity="0.76"/><path d="M237 196L257 211M238 197l3 -1M238 197l-0 3M240 198l5 -2M240 198l1 5M242 199l5 -1M242 199l-0 5M244 201l5 -1M244 201l-0 5M245 202l7 -2M245 202l1 7M247 203l8 -3M247 203l-1 8M249 204l7 -2M249 204l-1 7M250 206l5 -1M250 206l-1 6M252 207l5 -1M252 207l-1 5M254 208l2 -1M254 208l-0 2M255 209l0 -0M255 209l-0 0" stroke="rgb(157,157,157)" stroke-width="1.6" stroke-opacity="0.75"/><path d="M252 72L268 84M254 73l3 -1M254 73l-0 3M255 74l3 -1M255 74l-1 3M257 75l3 -1M257 75l-0 3M258 77l4 -2M258 77l0 4M260 78l6 -3M260 78l0 7M262 79l7 -3M262 79l-1 7M263 80l5 -2M263 80l-0 5M265 82l2 -1M265 82l-0 3M267 83l1 -0M267 83l-0 1" stroke="rgb(215,215,215)" stroke-width="1.8" stroke-opacity="0.87"/><path d="M233 76L196 60M231 75l-3 3M231 75l-1 -4M229 74l-7 5M229 74l-2 -8M227 73l-4 4M227 73l-0 -5M225 72l-8 4M225 72l-1 -9M223 72l-5 5M223 72l-2 -7M222 71l-7 4M222 71l-2 -8M220 70l-8 6M220 70l-2 -10M218 69l-12 9M218 69l-1 -15M216 68l-12 6M216 68l-2 -13M214 68l-8 4M214 68l-1 -9M212 67l-10 5M212 67l-1 -11M210 66l-9 3M210 66l-3 -9M208 65l-11 5M208 65l-0 -12M206 64l-6 3M206 64l-2 -7M204 64l-7 4M204 64l-1 -8M202 63l-5 3M202 63l-2 -6M200 62l-2 1M200 62l-0 -2M198 61l-0 0M198 61l-0 -0" stroke="rgb(211,211,211)" stroke-width="1.3" stroke-opacity="0.66"/><path d="M268 36L275 23M269 34l-2 -2M269 34l3 -1M270 32l-2 -4M270 32l5 0M271 31l-2 -3M271 31l4 -1M272 29l-4 -6M272 29l7 -2M273 27l-2 -3M273 27l4 -1M274 25l-1 -2M274 25l2 0" stroke="rgb(214,214,214)" stroke-width="1.2" stroke-opacity="0.94"/><path d="M223 115L243 114M225 115l3 -4M225 115l3 4M227 115l3 -4M227 115l3 4M229 114l5 -6M229 114l6 5M231 114l5 -8M231 114l6 6M233 114l3 -4M233 114l3 4M235 114l2 -4M235 114l3 4M237 114l3 -4M237 114l4 3M239 114l2 -4M239 114l3 3M241 114l0 -1M241 114l0 0" stroke="rgb(149,149,149)" stroke-width="1.8" stroke-opacity="0.84"/><path d="M167 207L144 197M165 206l-5 3M165 206l-1 -5M163 205l-4 3M163 205l-2 -5M162 205l-6 3M162 205l-0 -7M160 204l-9 4M160 204l-3 -9M158 203l-8 7M158 203l-4 -9M156 202l-6 3M156 202l-2 -6M154 201l-7 6M154 201l-4 -9M152 200l-7 5M152 200l-0 -8M150 200l-5 4M150 200l-1 -6M148 199l-2 2M148 199l-0 -3M146 198l-0 0M146 198l-0 -0" stroke="rgb(139,139,139)" stroke-width="1.7" stroke-opacity="0.78"/><path d="M221 59L196 45M220 58l-3 1M220 58l-0 -3M218 57l-7 2M218 57l-1 -7M216 56l-7 2M216 56l-1 -7M214 55l-9 3M214 55l-1 -9M212 54l-7 4M212 54l-2 -8M210 53l-7 3M210 53l-1 -8M209 52l-8 2M209 52l1 -8M207 51l-5 3M207 51l-1 -6M205 50l-4 1M205 50l0 -4M203 49l-5 2M203 49l-2 -5M201 48l-5 4M201 48l-2 -6M200 47l-2 1M200 47l-0 -2M198 46l-0 0M198 46l-0 -0" stroke="rgb(237,237,237)" stroke-width="1.7" stroke-opacity="0.58"/><path d="M155 140L143 124M153 138l-3 0M153 138l1 -3M152 136l-4 1M152 136l1 -4M151 134l-4 -1M151 134l1 -4M149 133l-6 0M149 133l1 -6M148 131l-7 1M148 131l3 -6M147 129l-4 0M147 129l1 -4M145 127l-3 0M145 127l1 -3M144 126l-2 -0M144 126l1 -1" stroke="rgb(186,186,186)" stroke-width="1.5" stroke-opacity="0.80"/><path d="M-7 139L-23 127M-9 138l-4 1M-9 138l0 -4M-11 136l-5 1M-11 136l-1 -5M-13 135l-6 1M-13 135l-0 -6M-14 134l-7 3M-14 134l-1 -8M-16 133l-8 4M-16 133l-1 -9M-18 131l-6 4M-18 131l-0 -7M-20 130l-3 2M-20 130l1 -3M-21 129l-1 1M-21 129l0 -2" stroke="rgb(179,179,179)" stroke-width="1.6" stroke-opacity="0.68"/><path d="M65 37L42 26M63 36l-4 3M63 36l-1 -5M61 35l-4 1M61 35l-0 -4M60 34l-6 5M60 34l-1 -8M58 33l-9 4M58 33l-1 -10M56 32l-5 3M56 32l-2 -6M54 32l-9 5M54 32l-3 -10M52 31l-9 4M52 31l-0 -10M50 30l-5 3M50 30l-1 -5M48 29l-5 4M48 29l-0 -7M46 28l-3 2M46 28l-1 -3M44 27l-0 0M44 27l-0 -0" stroke="rgb(173,173,173)" stroke-width="2.0" stroke-opacity="0.74"/><path d="M230 49L222 16M230 47l-2 -1M230 47l1 -2M229 45l-7 -3M229 45l5 -5M229 43l-9 -2M229 43l6 -7M229 41l-10 -4M229 41l6 -9M228 39l-9 -3M228 39l7 -6M228 37l-6 -3M228 37l5 -5M227 35l-8 -2M227 35l5 -6M227 33l-9 -6M227 33l7 -8M226 31l-9 -3M226 31l8 -6M226 29l-8 -2M226 29l5 -7M225 27l-5 -1M225 27l4 -4M225 25l-8 -2M225 25l7 -5M224 24l-7 -3M224 24l5 -6M224 22l-4 -1M224 22l2 -3M223 20l-2 -1M223 20l2 -2M223 18l-0 -0M223 18l0 -0" stroke="rgb(230,230,230)" stroke-width="1.4" stroke-opacity="0.87"/><path d="M34 164L-1 167M32 164l-2 5M32 164l-3 -4M30 164l-2 3M30 164l-2 -3M28 164l-5 8M28 164l-7 -6M26 164l-5 6M26 164l-6 -5M24 165l-4 10M24 165l-8 -8M22 165l-4 5M22 165l-4 -5M20 165l-5 11M20 165l-7 -10M18 165l-5 7M18 165l-6 -6M16 165l-7 8M16 165l-7 -8M14 165l-3 5M14 165l-5 -4M12 166l-6 7M12 166l-6 -7M10 166l-4 10M10 166l-5 -9M7 166l-3 5M7 166l-3 -4M5 166l-3 5M5 166l-5 -4M3 166l-1 2M3 166l-1 -1M1 167l-0 0M1 167l-0 -0" stroke="rgb(204,204,204)" stroke-width="1.6" stroke-opacity="0.86"/><path d="M269 97L251 125M268 99l1 3M268 99l-3 -0M267 101l2 7M267 101l-8 -1M265 102l3 8M265 102l-9 0M264 104l4 9M264 104l-10 -1M263 106l3 6M263 106l-7 1M262 107l3 9M262 107l-10 2M261 109l3 10M261 109l-10 2M260 111l2 8M260 111l-8 -0M259 113l3 9M259 113l-9 -0M257 114l6 11M257 114l-12 1M256 116l3 7M256 116l-7 -1M255 118l2 8M255 118l-8 1M254 120l1 4M254 120l-4 -0M253 121l2 4M253 121l-4 -1M252 123l0 0M252 123l-0 0" stroke="rgb(206,206,206)" stroke-width="1.8" stroke-opacity="0.82"/><path d="M116 21L140 26M118 21l2 -2M118 21l1 3M120 22l3 -4M120 22l1 5M122 22l3 -5M122 22l3 5M124 23l4 -4M124 23l2 6M126 23l4 -4M126 23l1 6M128 24l9 -5M128 24l2 10M130 24l7 -6M130 24l3 8M132 24l7 -6M132 24l2 9M134 25l3 -2M134 25l1 4M136 25l3 -2M136 25l2 4M138 26l0 -0M138 26l0 0" stroke="rgb(163,163,163)" stroke-width="1.6" stroke-opacity="0.57"/><path d="M75 -7L80 -30M76 -9l-2 -2M76 -9l3 -1M76 -11l-4 -7M76 -11l7 -4M76 -13l-7 -5M76 -13l8 -4M77 -15l-4 -3M77 -15l5 -1M77 -17l-5 -8M77 -17l9 -5M78 -19l-7 -8M78 -19l11 -3M78 -21l-5 -4M78 -21l5 -4M79 -23l-5 -5M79 -23l7 -3M79 -25l-3 -3M79 -25l3 -2M80 -27l-0 -0M80 -27l0 -0" stroke="rgb(154,154,154)" stroke-width="1.5" stroke-opacity="0.74"/><path d="M111 70L92 78M109 71l-1 2M109 71l-2 -1M107 72l-0 6M107 72l-5 -4M105 73l-0 7M105 73l-5 -4M103 73l-2 7M103 73l-5 -4M101 74l-1 8M101 74l-7 -4M100 75l0 9M100 75l-7 -5M98 76l-1 6M98 76l-5 -2M96 77l-0 3M96 77l-3 -1M94 78l-0 1M94 78l-1 -1" stroke="rgb(201,201,201)" stroke-width="1.4" stroke-opacity="0.72"/><path d="M149 137L136 155M148 139l1 3M148 139l-3 -1M147 141l2 3M147 141l-4 -0M145 143l1 6M145 143l-6 -1M144 144l1 6M144 144l-6 1M143 146l3 6M143 146l-7 0M141 148l2 7M141 148l-7 -0M140 150l2 6M140 150l-6 1M139 151l1 3M139 151l-3 -0M137 153l0 1M137 153l-1 0" stroke="rgb(183,183,183)" stroke-width="1.8" stroke-opacity="0.68"/><path d="M155 119L185 112M157 118l2 -5M157 118l4 4M159 118l1 -4M159 118l3 3M161 117l4 -9M161 117l7 7M163 117l4 -10M163 117l7 9M165 116l5 -9M165 116l9 5M167 116l6 -10M167 116l9 7M169 115l2 -8M169 115l7 5M171 115l4 -7M171 115l5 7M173 114l5 -9M173 114l8 7M175 114l3 -5M175 114l5 3M177 114l1 -7M177 114l5 4M179 113l2 -6M179 113l4 5M181 113l2 -4M181 113l3 3M183 112l0 -0M183 112l0 0" stroke="rgb(210,210,210)" stroke-width="1.5" stroke-opacity="0.66"/><path d="M170 79L163 111M169 81l4 3M169 81l-5 2M169 83l5 7M169 83l-8 2M168 85l4 6M168 85l-6 2M168 87l5 4M168 87l-6 2M167 89l11 10M167 89l-13 8M167 91l5 7M167 91l-8 2M167 93l6 8M167 93l-10 3M166 95l8 13M166 95l-14 5M166 97l11 10M166 97l-13 6M165 99l5 5M165 99l-7 1M165 101l7 5M165 101l-7 4M165 103l3 5M165 103l-5 3M164 105l5 4M164 105l-6 2M164 107l2 2M164 107l-3 1M163 109l0 0M163 109l-0 0" stroke="rgb(219,219,219)" stroke-width="1.7" stroke-opacity="0.67"/><path d="M240 93L209 102M238 94l-3 5M238 94l-5 -4M236 94l-1 7M236 94l-5 -6M234 95l-2 9M234 95l-8 -5M232 96l-2 9M232 96l-7 -6M231 96l-6 12M231 96l-11 -7M229 97l-6 12M229 97l-12 -6M227 97l-3 8M227 97l-5 -6M225 98l-5 9M225 98l-8 -7M223 98l-3 7M223 98l-6 -5M221 99l-6 11M221 99l-10 -8M219 99l-4 9M219 99l-7 -6M217 100l-1 9M217 100l-7 -4M215 101l-1 4M215 101l-4 -3M213 101l-1 4M213 101l-4 -2M211 102l-0 0M211 102l-0 -0" stroke="rgb(169,169,169)" stroke-width="1.3" stroke-opacity="0.63"/><path d="M312 69L279 80M310 70l-1 3M310 70l-2 -2M308 71l-2 4M308 71l-3 -3M306 71l-1 6M306 71l-5 -3M305 72l-5 10M305 72l-7 -8M303 73l-2 9M303 73l-7 -6M301 73l-3 7M301 73l-6 -4M299 74l-3 9M299 74l-7 -7M297 75l-1 9M297 75l-7 -6M295 75l-2 7M295 75l-7 -3M293 76l-2 6M293 76l-6 -3M291 76l-1 12M291 76l-11 -6M289 77l-3 7M289 77l-6 -5M287 78l-4 8M287 78l-7 -6M285 78l-2 4M285 78l-4 -2M283 79l-0 2M283 79l-2 -2M281 80l-0 0M281 80l-0 -0" stroke="rgb(198,198,198)" stroke-width="1.7" stroke-opacity="0.58"/><path d="M300 183L286 209M299 185l1 2M299 185l-2 1M298 186l2 4M298 186l-4 1M297 188l3 7M297 188l-8 1M296 190l2 4M296 190l-5 0M295 192l5 7M295 192l-8 1M294 194l2 6M294 194l-6 -0M293 196l4 5M293 196l-6 1M292 198l3 7M292 198l-7 -0M291 199l2 6M291 199l-6 1M290 201l3 6M290 201l-6 2M289 203l3 4M289 203l-5 1M288 205l1 2M288 205l-2 0M287 207l0 0M287 207l-0 0" stroke="rgb(125,125,125)" stroke-width="1.3" stroke-opacity="0.78"/><path d="M243 1L261 -21M245 -0l-2 -4M245 -0l4 -0M246 -2l-1 -6M246 -2l6 0M247 -4l-2 -7M247 -4l7 1M248 -5l-2 -8M248 -5l8 2M250 -7l-5 -9M250 -7l10 -1M251 -8l-3 -12M251 -8l12 3M252 -10l-7 -12M252 -10l13 3M253 -12l-3 -8M253 -12l8 2M255 -13l-3 -8M255 -13l9 -1M256 -15l-1 -6M256 -15l6 1M257 -16l-2 -7M257 -16l7 0M258 -18l-0 -3M258 -18l3 -0M260 -20l-0 -0M260 -20l0 0" stroke="rgb(197,197,197)" stroke-width="1.7" stroke-opacity="0.79"/><path d="M253 51L233 72M251 53l0 2M251 53l-2 -1M250 54l-0 3M250 54l-3 -0M248 56l1 6M248 56l-6 -2M247 57l3 8M247 57l-8 -3M246 59l3 10M246 59l-10 -1M244 60l1 6M244 60l-6 -1M243 62l3 11M243 62l-11 -3M241 63l0 7M241 63l-7 -2M240 65l2 10M240 65l-10 -1M239 66l1 7M239 66l-7 0M237 68l2 7M237 68l-7 -1M236 69l1 4M236 69l-4 -1M234 71l0 0M234 71l-0 0" stroke="rgb(208,208,208)" stroke-width="1.6" stroke-opacity="0.72"/><path d="M281 112L244 124M279 113l-1 5M279 113l-4 -3M277 114l-2 5M277 114l-4 -2M276 114l-2 10M276 114l-7 -7M274 115l-4 8M274 115l-8 -6M272 115l-2 10M272 115l-8 -5M270 116l-3 9M270 116l-7 -7M268 117l-7 11M268 117l-11 -7M266 117l-1 8M266 117l-6 -6M264 118l-4 12M264 118l-11 -7M262 118l-7 14M262 118l-13 -8M260 119l-3 15M260 119l-12 -8M258 120l-2 8M258 120l-6 -6M256 120l-2 9M256 120l-6 -7M254 121l-3 5M254 121l-4 -3M252 121l-1 9M252 121l-7 -6M250 122l-1 4M250 122l-3 -3M248 123l-0 2M248 123l-2 -1M246 123l-0 0M246 123l-0 -0" stroke="rgb(176,176,176)" stroke-width="1.5" stroke-opacity="0.59"/><path d="M235 56L226 38M234 54l-4 -0M234 54l2 -3M233 52l-4 -2M233 52l2 -4M232 50l-5 -0M232 50l2 -4M231 48l-9 -1M231 48l5 -7M230 46l-8 -3M230 46l5 -7M229 44l-5 -0M229 44l2 -4M228 42l-3 -1M228 42l1 -3M227 40l-1 -0M227 40l1 -1" stroke="rgb(204,204,204)" stroke-width="1.8" stroke-opacity="0.94"/><path d="M-18 197L9 225M-17 198l4 0M-17 198l-1 4M-15 200l8 -1M-15 200l-2 8M-14 201l9 -3M-14 201l-4 9M-13 203l6 -1M-13 203l-0 6M-11 204l7 0M-11 204l-2 7M-10 206l7 -1M-10 206l-0 7M-8 207l9 -3M-8 207l-0 10M-7 209l13 -1M-7 209l-5 13M-5 210l8 -3M-5 210l-1 8M-4 212l10 -3M-4 212l-2 10M-3 213l12 -1M-3 213l-4 12M-1 215l8 -0M-1 215l-2 8M0 216l9 -1M0 216l-0 9M2 218l6 -0M2 218l-1 6M3 219l6 -2M3 219l-2 6M4 221l6 0M4 221l-2 5M6 222l2 -0M6 222l-0 2M7 224l0 0M7 224l-0 0" stroke="rgb(181,181,181)" stroke-width="1.2" stroke-opacity="0.86"/><path d="M152 96L161 84M153 95l-2 -4M153 95l4 -0M155 93l-2 -3M155 93l4 0M156 91l-1 -4M156 91l4 0M157 89l-2 -3M157 89l4 0M159 87l-1 -2M159 87l3 -0M160 86l-1 -2M160 86l2 0" stroke="rgb(199,199,199)" stroke-width="1.5" stroke-opacity="0.80"/><path d="M292 73L286 56M292 71l-3 -1M292 71l2 -3M291 69l-3 -1M291 69l2 -3M290 68l-7 -2M290 68l4 -6M289 66l-8 -1M289 66l4 -7M289 64l-7 -1M289 64l4 -5M288 62l-5 -1M288 62l2 -5M287 60l-3 -1M287 60l2 -3M286 58l-1 -0M286 58l1 -1" stroke="rgb(182,182,182)" stroke-width="1.5" stroke-opacity="0.68"/><path d="M207 166L208 136M207 164l-4 -4M207 164l5 -3M207 162l-6 -3M207 162l5 -4M207 160l-5 -3M207 160l5 -3M207 158l-6 -3M207 158l6 -4M207 156l-6 -4M207 156l7 -3M207 154l-8 -7M207 154l9 -5M207 152l-8 -9M207 152l9 -8M207 150l-13 -8M207 150l13 -7M207 148l-9 -7M207 148l10 -4M207 146l-6 -4M207 146l6 -3M207 144l-6 -4M207 144l6 -4M208 142l-5 -4M208 142l6 -2M208 140l-4 -2M208 140l3 -3M208 138l-0 -0M208 138l0 -0" stroke="rgb(166,166,166)" stroke-width="1.8" stroke-opacity="0.72"/><path d="M177 -5L193 -14M179 -6l1 -3M179 -6l3 2M180 -7l1 -4M180 -7l3 2M182 -8l0 -4M182 -8l4 1M184 -9l1 -6M184 -9l6 2M186 -10l1 -6M186 -10l5 3M188 -11l1 -6M188 -11l5 3M190 -12l1 -3M190 -12l3 2M191 -13l-0 -1M191 -13l1 0" stroke="rgb(165,165,165)" stroke-width="1.7" stroke-opacity="0.71"/><path d="M191 203L208 206M193 203l1 -2M193 203l1 2M195 204l3 -3M195 204l2 4M197 204l4 -4M197 204l3 4M199 205l5 -5M199 205l3 6M201 205l4 -5M201 205l3 6M204 205l2 -1M204 205l1 3M206 206l1 -1M206 206l1 1" stroke="rgb(142,142,142)" stroke-width="1.7" stroke-opacity="0.83"/><path d="M261 44L289 36M263 44l2 -4M263 44l3 2M265 43l2 -4M265 43l4 2M267 43l2 -6M267 43l4 4M269 42l2 -6M269 42l4 4M271 41l2 -6M271 41l4 4M273 41l3 -5M273 41l4 4M275 40l1 -6M275 40l5 3M277 40l2 -7M277 40l5 5M279 39l3 -7M279 39l7 4M281 39l2 -5M281 39l4 4M283 38l3 -5M283 38l5 3M285 38l1 -3M285 38l2 3M287 37l0 -0M287 37l0 0" stroke="rgb(221,221,221)" stroke-width="1.7" stroke-opacity="0.84"/><path d="M260 67L297 55M262 66l2 -5M262 66l4 3M264 65l2 -8M264 65l7 4M266 65l5 -10M266 65l9 7M268 64l2 -10M268 64l9 5M270 64l5 -12M270 64l10 8M272 63l4 -10M272 63l9 7M274 62l4 -8M274 62l8 4M276 62l4 -10M276 62l9 5M277 61l5 -13M277 61l9 11M279 60l4 -8M279 60l8 5M281 60l3 -8M281 60l7 4M283 59l1 -14M283 59l12 8M285 58l3 -7M285 58l5 5M287 58l1 -8M287 58l7 4M289 57l1 -7M289 57l6 5M291 57l1 -5M291 57l4 2M293 56l1 -3M293 56l2 2M295 55l0 -0M295 55l0 0" stroke="rgb(208,208,208)" stroke-width="1.3" stroke-opacity="0.86"/><path d="M7 68L-27 83M5 69l-1 4M5 69l-4 -2M3 70l-2 6M3 70l-5 -4M1 71l-2 11M1 71l-9 -6M-1 71l-4 10M-1 71l-8 -7M-2 72l-2 13M-2 72l-10 -9M-4 73l-0 13M-4 73l-10 -8M-6 74l-0 14M-6 74l-12 -7M-8 75l-4 13M-8 75l-13 -5M-10 76l-0 15M-10 76l-13 -8M-12 76l-4 14M-12 76l-12 -7M-14 77l-3 15M-14 77l-12 -10M-16 78l-2 10M-16 78l-9 -6M-17 79l-1 9M-17 79l-7 -6M-19 80l-1 9M-19 80l-8 -4M-21 81l-1 4M-21 81l-3 -1M-23 81l-1 2M-23 81l-2 -1M-25 82l-0 0M-25 82l-0 -0" stroke="rgb(222,222,222)" stroke-width="2.0" stroke-opacity="0.83"/><path d="M132 213L151 223M134 214l3 -2M134 214l-0 3M136 215l4 -1M136 215l1 4M138 216l3 -1M138 216l1 3M140 217l5 -2M140 217l1 5M142 218l7 -2M142 218l-0 7M144 219l5 -4M144 219l-0 7M146 220l5 -3M146 220l1 5M148 221l4 -1M148 221l0 4M150 222l1 -0M150 222l0 1" stroke="rgb(172,172,172)" stroke-width="1.7" stroke-opacity="0.58"/><path d="M88 11L102 -22M89 9l-2 -3M89 9l3 -0M90 7l-3 -6M90 7l6 -3M91 5l-4 -7M91 5l8 -0M92 3l-4 -6M92 3l7 -1M92 1l-5 -11M92 1l12 -1M93 -0l-7 -11M93 -0l12 -5M94 -2l-5 -10M94 -2l11 -1M95 -4l-6 -11M95 -4l13 -3M96 -6l-4 -7M96 -6l8 -3M96 -8l-7 -11M96 -8l12 -5M97 -10l-4 -9M97 -10l10 -1M98 -12l-6 -7M98 -12l9 -2M99 -14l-2 -5M99 -14l5 -1M99 -16l-2 -6M99 -16l6 -1M100 -18l-1 -2M100 -18l2 -0M101 -20l-0 -0M101 -20l0 -0" stroke="rgb(163,163,163)" stroke-width="1.6" stroke-opacity="0.92"/><path d="M43 52L25 52M41 52l-4 4M41 52l-3 -4M39 52l-4 7M39 52l-3 -7M36 52l-3 3M36 52l-3 -3M34 52l-3 4M34 52l-3 -4M32 52l-2 5M32 52l-4 -4M30 52l-4 4M30 52l-3 -4M28 52l-1 2M28 52l-2 -2" stroke="rgb(190,190,190)" stroke-width="1.6" stroke-opacity="0.61"/><path d="M206 82L234 88M208 83l3 -2M208 83l1 3M210 83l4 -5M210 83l2 6M212 83l4 -5M212 83l3 5M214 84l6 -7M214 84l5 8M216 84l3 -4M216 84l2 4M218 85l4 -5M218 85l3 6M220 85l5 -8M220 85l4 8M222 85l6 -7M222 85l3 9M224 86l6 -5M224 86l2 7M226 86l7 -4M226 86l4 6M228 87l2 -3M228 87l2 3M230 87l2 -2M230 87l1 2M232 87l0 -0M232 87l0 0" stroke="rgb(216,216,216)" stroke-width="1.4" stroke-opacity="0.59"/><path d="M227 10L258 3M229 9l3 -5M229 9l4 4M231 9l2 -4M231 9l3 3M233 9l6 -9M233 9l6 8M235 8l3 -10M235 8l7 8M237 8l3 -7M237 8l6 4M239 7l4 -6M239 7l5 5M241 7l6 -12M241 7l9 10M243 6l2 -10M243 6l8 7M245 6l7 -11M245 6l11 7M248 5l2 -8M248 5l7 5M250 5l3 -9M250 5l8 6M252 5l1 -4M252 5l3 4M254 4l1 -3M254 4l2 2M256 4l0 -0M256 4l0 0" stroke="rgb(218,218,218)" stroke-width="1.3" stroke-opacity="0.75"/><path d="M74 173L51 160M72 172l-6 2M72 172l1 -6M70 171l-8 2M70 171l1 -8M68 170l-8 3M68 170l-1 -9M67 169l-10 3M67 169l-2 -10M65 168l-11 7M65 168l-2 -13M63 167l-12 5M63 167l1 -13M61 166l-8 5M61 166l-2 -9M60 165l-11 3M60 165l-2 -12M58 164l-7 3M58 164l-1 -7M56 163l-4 3M56 163l-0 -5M54 162l-2 2M54 162l-0 -3M53 161l-0 0M53 161l0 -0" stroke="rgb(225,225,225)" stroke-width="1.6" stroke-opacity="0.91"/><path d="M257 80L271 66M259 78l-1 -4M259 78l4 0M260 77l-1 -5M260 77l5 -0M262 75l-0 -4M262 75l4 0M263 74l-1 -5M263 74l5 1M265 72l-0 -8M265 72l8 2M266 70l-1 -4M266 70l4 1M268 69l-0 -4M268 69l3 1M269 67l-0 -1M269 67l1 0" stroke="rgb(217,217,217)" stroke-width="1.5" stroke-opacity="0.76"/><path d="M51 221L45 198M50 219l-3 -1M50 219l2 -3M50 217l-6 -3M50 217l4 -5M49 215l-4 -1M49 215l2 -3M49 213l-7 -2M49 213l6 -5M48 211l-9 -2M48 211l5 -7M48 209l-6 -3M48 209l5 -4M48 207l-4 -3M48 207l4 -4M47 205l-5 -3M47 205l3 -5M47 203l-4 -1M47 203l3 -2M46 202l-3 -1M46 202l2 -2M46 200l-0 -0M46 200l0 -0" stroke="rgb(178,178,178)" stroke-width="1.2" stroke-opacity="0.57"/><path d="M167 133L180 142M168 134l3 -1M168 134l0 3M170 135l4 -1M170 135l0 4M172 136l6 -2M172 136l-1 6M173 137l3 -2M173 137l0 4M175 138l7 -1M175 138l-0 7M177 140l3 -2M177 140l-0 4M179 141l2 -1M179 141l-0 2" stroke="rgb(173,173,173)" stroke-width="1.5" stroke-opacity="0.59"/><path d="M88 128L125 137M90 129l3 -3M90 129l2 4M92 129l5 -3M92 129l3 5M95 130l7 -8M95 130l4 10M97 130l6 -4M97 130l3 6M99 131l7 -4M99 131l2 7M101 131l9 -11M101 131l6 13M103 132l6 -7M103 132l2 9M105 132l9 -10M105 132l4 13M107 133l6 -7M107 133l4 8M109 133l11 -7M109 133l6 11M111 134l11 -10M111 134l8 13M113 134l7 -5M113 134l4 7M115 135l8 -9M115 135l3 12M117 135l5 -4M117 135l2 6M119 136l5 -3M119 136l2 6M121 136l2 -2M121 136l2 2M123 137l0 -0M123 137l0 0" stroke="rgb(175,175,175)" stroke-width="1.3" stroke-opacity="0.65"/><path d="M151 57L167 87M152 59l6 1M152 59l-2 5M153 60l7 1M153 60l-3 6M154 62l10 3M154 62l-4 10M155 64l10 3M155 64l-6 9M156 66l10 1M156 66l-6 9M157 68l12 1M157 68l-7 10M158 69l12 3M158 69l-4 12M159 71l14 4M159 71l-7 12M159 73l8 1M159 73l-3 7M160 75l13 0M160 75l-7 11M161 77l9 -1M161 77l-3 9M162 78l10 1M162 78l-3 9M163 80l6 1M163 80l-3 5M164 82l5 1M164 82l-2 5M165 84l3 -0M165 84l-1 3M166 85l0 0M166 85l-0 0" stroke="rgb(214,214,214)" stroke-width="1.6" stroke-opacity="0.86"/><path d="M-30 -19L-3 -18M-28 -19l1 -2M-28 -19l1 2M-26 -19l3 -4M-26 -19l2 4M-24 -19l3 -4M-24 -19l3 4M-22 -19l6 -7M-22 -19l3 8M-20 -19l4 -8M-20 -19l6 7M-18 -19l4 -5M-18 -19l4 5M-15 -19l6 -5M-15 -19l5 6M-13 -19l6 -6M-13 -19l3 8M-11 -19l3 -4M-11 -19l3 4M-9 -19l3 -3M-9 -19l2 4M-7 -19l2 -3M-7 -19l2 2M-5 -18l0 -0M-5 -18l0 0" stroke="rgb(177,177,177)" stroke-width="1.7" stroke-opacity="0.79"/><path d="M213 58L218 84M214 60l3 2M214 60l-2 3M214 62l4 3M214 62l-4 3M214 64l7 4M214 64l-7 5M215 66l6 4M215 66l-6 4M215 68l10 6M215 68l-10 6M215 70l10 3M215 70l-9 6M216 72l11 8M216 72l-9 10M216 74l6 2M216 74l-5 4M216 76l9 4M216 76l-7 7M217 78l5 2M217 78l-4 4M217 80l3 2M217 80l-3 2M217 82l0 0M217 82l-0 0" stroke="rgb(218,218,218)" stroke-width="1.7" stroke-opacity="0.58"/><path d="M120 88L131 50M121 86l-2 -4M121 86l5 -1M121 84l-4 -6M121 84l7 -2M122 82l-9 -8M122 82l12 -2M123 80l-6 -8M123 80l10 -2M123 78l-8 -14M123 78l15 -7M124 76l-7 -9M124 76l10 -5M124 74l-9 -12M124 74l14 -7M125 72l-8 -11M125 72l14 -3M125 70l-6 -8M125 70l9 -4M126 68l-11 -15M126 68l16 -9M127 66l-11 -13M127 66l16 -6M127 64l-7 -9M127 64l10 -5M128 62l-10 -9M128 62l12 -7M128 60l-10 -10M128 60l14 -3M129 58l-3 -5M129 58l6 -1M129 56l-4 -3M129 56l4 -3M130 54l-1 -1M130 54l2 -0M130 52l-0 -0M130 52l0 -0" stroke="rgb(193,193,193)" stroke-width="1.8" stroke-opacity="0.94"/><path d="M83 165L82 135M83 163l-4 -3M83 163l4 -3M83 161l-5 -3M83 161l5 -2M83 158l-10 -4M83 158l8 -6M83 156l-6 -6M83 156l6 -6M83 154l-12 -5M83 154l11 -8M83 152l-6 -4M83 152l7 -3M82 150l-6 -3M82 150l5 -4M82 148l-5 -5M82 148l6 -4M82 146l-8 -5M82 146l8 -5M82 143l-7 -3M82 143l5 -5M82 141l-5 -4M82 141l4 -5M82 139l-3 -2M82 139l3 -2M82 137l-0 -0M82 137l0 -0" stroke="rgb(185,185,185)" stroke-width="1.8" stroke-opacity="0.57"/><path d="M8 -15L-15 5M6 -13l-0 3M6 -13l-3 -1M5 -12l-0 3M5 -12l-3 -1M3 -11l2 8M3 -11l-7 -3M2 -9l0 5M2 -9l-5 -2M0 -8l1 7M0 -8l-7 -2M-1 -7l0 10M-1 -7l-10 -2M-3 -6l-1 11M-3 -6l-11 -1M-4 -4l-0 10M-4 -4l-9 -4M-6 -3l1 8M-6 -3l-7 -2M-8 -2l1 6M-8 -2l-6 -1M-9 -0l2 7M-9 -0l-7 -2M-11 1l-0 5M-11 1l-4 -1M-12 2l0 3M-12 2l-3 -1M-14 4l-0 0M-14 4l-0 -0" stroke="rgb(191,191,191)" stroke-width="1.4" stroke-opacity="0.76"/><path d="M164 166L177 195M165 168l6 2M165 168l-4 4M166 169l5 0M166 169l-2 4M166 171l8 1M166 171l-3 7M167 173l9 3M167 173l-5 9M168 175l14 -0M168 175l-8 12M169 177l15 2M169 177l-7 13M170 179l14 6M170 179l-7 14M170 181l12 3M170 181l-5 11M171 182l13 5M171 182l-8 11M172 184l7 3M172 184l-4 7M173 186l10 4M173 186l-6 9M174 188l5 1M174 188l-3 4M175 190l5 1M175 190l-2 4M175 192l3 0M175 192l-1 3M176 194l0 0M176 194l-0 0" stroke="rgb(148,148,148)" stroke-width="1.9" stroke-opacity="0.66"/><path d="M234 194L266 199M236 195l2 -4M236 195l3 4M238 195l6 -4M238 195l4 6M240 195l7 -5M240 195l3 9M242 195l7 -8M242 195l3 10M244 196l7 -7M244 196l5 8M246 196l7 -5M246 196l4 7M248 196l6 -5M248 196l5 6M250 197l7 -9M250 197l4 10M252 197l4 -7M252 197l4 7M254 197l8 -7M254 197l4 10M256 197l6 -7M256 197l3 9M258 198l4 -5M258 198l3 6M260 198l4 -4M260 198l2 6M262 198l1 -2M262 198l1 2M264 198l0 -0M264 198l0 0" stroke="rgb(142,142,142)" stroke-width="1.7" stroke-opacity="0.85"/><path d="M194 133L199 103M194 131l-3 -2M194 131l3 -2M195 129l-6 -4M195 129l6 -3M195 127l-4 -4M195 127l5 -3M195 125l-8 -6M195 125l8 -6M196 123l-7 -6M196 123l7 -6M196 121l-6 -8M196 121l9 -4M196 119l-6 -4M196 119l7 -2M196 117l-7 -8M196 117l10 -4M197 115l-9 -6M197 115l10 -3M197 113l-4 -4M197 113l5 -3M197 111l-5 -6M197 111l7 -4M198 109l-4 -5M198 109l5 -3M198 107l-2 -2M198 107l2 -1M198 105l-0 -0M198 105l0 -0" stroke="rgb(173,173,173)" stroke-width="1.7" stroke-opacity="0.94"/><path d="M-27 63L-7 61M-25 63l2 -3M-25 63l3 2M-23 62l3 -6M-23 62l4 5M-21 62l2 -5M-21 62l3 4M-19 62l3 -4M-19 62l2 4M-17 62l2 -5M-17 62l4 4M-15 62l3 -7M-15 62l4 6M-13 61l3 -6M-13 61l4 6M-11 61l2 -5M-11 61l4 3M-9 61l0 -1M-9 61l1 1" stroke="rgb(189,189,189)" stroke-width="1.7" stroke-opacity="0.81"/><path d="M15 186L-8 163M14 184l-5 2M14 184l-0 -6M12 183l-4 0M12 183l1 -4M11 181l-6 1M11 181l1 -6M9 180l-9 2M9 180l1 -9M8 178l-8 1M8 178l1 -8M6 177l-8 0M6 177l1 -8M5 176l-13 4M5 176l5 -12M4 174l-11 1M4 174l1 -11M2 173l-7 1M2 173l1 -7M1 171l-9 1M1 171l2 -9M-1 170l-10 2M-1 170l3 -10M-2 168l-5 1M-2 168l0 -5M-4 167l-7 2M-4 167l0 -7M-5 166l-3 0M-5 166l0 -3M-6 164l-0 0M-6 164l0 -0" stroke="rgb(219,219,219)" stroke-width="1.3" stroke-opacity="0.86"/><path d="M111 59L100 73M110 61l1 2M110 61l-2 -0M109 63l3 6M109 63l-6 -1M107 64l3 7M107 64l-8 -0M106 66l1 5M106 66l-5 -1M104 68l1 6M104 68l-6 0M103 69l1 4M103 69l-4 -0M102 71l0 1M102 71l-1 -0" stroke="rgb(145,145,145)" stroke-width="1.5" stroke-opacity="0.64"/><path d="M155 213L175 218M157 214l3 -3M157 214l1 4M159 214l3 -3M159 214l2 4M161 215l6 -4M161 215l2 7M163 215l4 -4M163 215l2 4M165 215l6 -6M165 215l2 8M167 216l5 -3M167 216l3 6M169 216l3 -3M169 216l2 4M171 217l3 -3M171 217l2 4M173 217l1 -1M173 217l0 1" stroke="rgb(155,155,155)" stroke-width="2.0" stroke-opacity="0.70"/><path d="M232 10L220 -10M230 8l-3 0M230 8l1 -3M229 6l-5 -0M229 6l2 -4M228 4l-7 -0M228 4l3 -7M227 3l-6 -0M227 3l3 -5M226 1l-5 -0M226 1l2 -5M225 -1l-7 -1M225 -1l4 -6M224 -3l-9 -0M224 -3l3 -8M223 -4l-7 -1M223 -4l2 -7M222 -6l-4 -0M222 -6l2 -4M221 -8l-0 -0M221 -8l0 -0" stroke="rgb(220,220,220)" stroke-width="1.4" stroke-opacity="0.81"/><path d="M71 90L90 78M72 89l1 -5M72 89l5 2M74 88l1 -6M74 88l6 2M76 87l-0 -7M76 87l6 2M78 85l0 -8M78 85l8 3M80 84l1 -5M80 84l4 3M81 83l1 -8M81 83l7 3M83 82l-1 -7M83 82l7 2M85 81l0 -5M85 81l4 3M87 80l-0 -3M87 80l3 1M89 79l0 -0M89 79l0 0" stroke="rgb(168,168,168)" stroke-width="2.0" stroke-opacity="0.55"/><path d="M2 21L-0 -17M2 19l-3 -2M2 19l3 -2M2 17l-6 -3M2 17l6 -4M2 15l-8 -5M2 15l7 -6M2 13l-8 -8M2 13l9 -6M1 11l-7 -4M1 11l6 -5M1 9l-13 -9M1 9l11 -11M1 7l-12 -4M1 7l10 -9M1 5l-7 -6M1 5l7 -6M1 3l-9 -4M1 3l9 -5M1 1l-12 -7M1 1l12 -7M1 -1l-12 -5M1 -1l10 -9M1 -3l-10 -4M1 -3l8 -7M0 -5l-11 -8M0 -5l12 -7M0 -7l-6 -4M0 -7l5 -5M0 -9l-9 -5M0 -9l8 -6M0 -11l-5 -4M0 -11l5 -4M-0 -13l-1 -1M-0 -13l1 -1M-0 -15l-0 -0M-0 -15l0 -0" stroke="rgb(212,212,212)" stroke-width="2.0" stroke-opacity="0.73"/><path d="M36 208L52 199M38 207l0 -2M38 207l2 1M40 206l1 -6M40 206l5 3M41 205l1 -6M41 205l5 4M43 204l-0 -5M43 204l5 3M45 203l2 -7M45 203l7 3M47 202l2 -6M47 202l5 3M48 201l0 -4M48 201l3 2M50 200l0 -1M50 200l1 1" stroke="rgb(204,204,204)" stroke-width="1.5" stroke-opacity="0.64"/><path d="M179 81L162 75M177 80l-2 2M177 80l-1 -3M175 79l-3 2M175 79l-1 -4M173 79l-3 3M173 79l-1 -4M171 78l-6 3M171 78l-2 -6M169 78l-5 5M169 78l-3 -6M167 77l-3 4M167 77l-3 -5M166 76l-2 2M166 76l-1 -3M164 76l-1 1M164 76l-0 -1" stroke="rgb(209,209,209)" stroke-width="1.3" stroke-opacity="0.61"/><path d="M253 9L277 2M255 8l2 -4M255 8l4 3M257 8l3 -5M257 8l4 4M259 7l1 -4M259 7l3 3M261 7l2 -4M261 7l4 3M263 6l1 -8M263 6l6 5M265 6l1 -5M265 6l3 3M267 5l3 -7M267 5l6 5M269 5l4 -7M269 5l7 4M271 4l1 -4M271 4l4 2M273 4l1 -3M273 4l3 2M275 3l0 -0M275 3l0 0" stroke="rgb(179,179,179)" stroke-width="1.4" stroke-opacity="0.59"/><path d="M86 151L100 139M88 150l-0 -3M88 150l3 1M89 148l-1 -6M89 148l5 2M91 147l-0 -5M91 147l5 1M93 145l-0 -5M93 145l5 1M94 144l-0 -7M94 144l7 1M96 143l0 -6M96 143l6 1M97 141l-1 -3M97 141l3 1M99 140l-0 -1M99 140l1 1" stroke="rgb(206,206,206)" stroke-width="1.2" stroke-opacity="0.73"/><path d="M213 27L224 36M215 28l2 -0M215 28l-0 2M216 29l3 -1M216 29l-1 3M218 31l5 -0M218 31l-2 5M219 32l5 -0M219 32l-1 5M221 34l2 -0M221 34l-0 2M222 35l1 -0M222 35l-0 1" stroke="rgb(210,210,210)" stroke-width="1.6" stroke-opacity="0.67"/><path d="M239 97L224 72M238 96l-6 -0M238 96l1 -6M237 94l-5 -1M237 94l1 -5M236 92l-8 1M236 92l3 -7M235 90l-8 1M235 90l4 -7M234 88l-10 1M234 88l3 -10M233 87l-7 1M233 87l2 -7M232 85l-10 0M232 85l5 -8M231 83l-8 -1M231 83l4 -7M230 81l-8 -2M230 81l4 -7M228 79l-6 -1M228 79l3 -5M227 78l-8 -1M227 78l4 -7M226 76l-4 -1M226 76l2 -4M225 74l-0 -0M225 74l0 -0" stroke="rgb(215,215,215)" stroke-width="1.7" stroke-opacity="0.72"/><path d="M200 143L188 164M199 145l2 3M199 145l-3 1M198 147l3 6M198 147l-6 1M197 149l1 4M197 149l-5 -0M196 151l2 5M196 151l-5 1M194 152l5 7M194 152l-9 1M193 154l1 4M193 154l-4 1M192 156l2 4M192 156l-5 -0M191 158l3 4M191 158l-5 1M190 160l1 4M190 160l-4 0M189 162l0 0M189 162l-0 0" stroke="rgb(177,177,177)" stroke-width="1.7" stroke-opacity="0.55"/><path d="M59 -29L46 -11M58 -27l1 4M58 -27l-5 0M57 -26l3 6M57 -26l-7 0M55 -24l1 7M55 -24l-7 1M54 -22l3 6M54 -22l-7 -1M53 -21l1 6M53 -21l-6 -1M52 -19l3 10M52 -19l-11 -2M51 -17l2 8M51 -17l-8 0M49 -16l4 8M49 -16l-8 0M48 -14l1 3M48 -14l-3 0M47 -12l0 0M47 -12l-0 -0" stroke="rgb(149,149,149)" stroke-width="1.7" stroke-opacity="0.67"/><path d="M106 13L121 26M108 14l3 -1M108 14l-0 3M109 16l6 -2M109 16l-0 6M111 17l4 -2M111 17l-0 4M113 19l8 -1M113 19l-1 8M114 20l4 -0M114 20l0 4M116 22l4 -0M116 22l0 4M117 23l3 -1M117 23l-1 3M119 25l2 -1M119 25l-0 2" stroke="rgb(173,173,173)" stroke-width="1.9" stroke-opacity="0.86"/><path d="M85 145L70 153M83 146l-1 4M83 146l-3 -2M81 147l1 6M81 147l-6 -1M79 148l-1 4M79 148l-4 -1M77 149l-0 4M77 149l-4 -1M76 150l0 6M76 150l-6 -1M74 151l0 3M74 151l-3 -2M72 152l0 2M72 152l-2 -1" stroke="rgb(216,216,216)" stroke-width="1.9" stroke-opacity="0.67"/><path d="M102 194L112 212M103 196l5 0M103 196l-2 4M104 198l8 0M104 198l-3 7M105 200l7 1M105 200l-2 7M106 201l10 -0M106 201l-2 9M107 203l9 -0M107 203l-5 7M108 205l6 1M108 205l-2 5M109 207l6 1M109 207l-3 5M110 209l5 -1M110 209l-3 4M111 211l1 0M111 211l-0 1" stroke="rgb(180,180,180)" stroke-width="1.7" stroke-opacity="0.77"/><path d="M282 127L274 106M282 125l-3 -0M282 125l2 -2M281 123l-5 -2M281 123l4 -4M280 121l-7 -2M280 121l4 -6M279 119l-7 -2M279 119l5 -5M279 117l-8 -0M279 117l3 -7M278 115l-10 -2M278 115l7 -8M277 113l-4 -2M277 113l3 -4M276 111l-6 -1M276 111l3 -6M275 109l-5 -2M275 109l4 -4M275 108l-0 -0M275 108l0 -0" stroke="rgb(140,140,140)" stroke-width="1.9" stroke-opacity="0.73"/><path d="M187 165L199 187M188 167l3 0M188 167l-1 3M189 169l5 1M189 169l-3 4M190 171l4 1M190 171l-1 4M191 173l5 -0M191 173l-1 5M192 175l5 1M192 175l-2 5M193 176l7 1M193 176l-3 7M194 178l8 2M194 178l-3 8M195 180l6 1M195 180l-3 4M196 182l4 0M196 182l-2 3M197 184l2 0M197 184l-1 2M198 186l0 0M198 186l-0 0" stroke="rgb(152,152,152)" stroke-width="1.3" stroke-opacity="0.77"/><path d="M8 196L-30 193M6 196l-4 4M6 196l-2 -5M4 196l-2 4M4 196l-2 -4M2 195l-7 7M2 195l-4 -9M0 195l-5 7M0 195l-5 -7M-2 195l-4 5M-2 195l-4 -5M-4 195l-9 10M-4 195l-5 -12M-6 195l-5 8M-6 195l-3 -9M-8 195l-6 12M-8 195l-8 -11M-10 194l-9 8M-10 194l-4 -12M-12 194l-7 9M-12 194l-7 -9M-14 194l-7 9M-14 194l-7 -8M-16 194l-5 8M-16 194l-6 -7M-18 194l-6 9M-18 194l-5 -10M-20 194l-4 4M-20 194l-3 -5M-22 194l-3 3M-22 194l-2 -4M-24 193l-5 4M-24 193l-4 -5M-26 193l-1 1M-26 193l-1 -2M-28 193l-0 0M-28 193l-0 -0" stroke="rgb(180,180,180)" stroke-width="1.9" stroke-opacity="0.87"/><path d="M34 110L53 118M36 111l2 -1M36 111l1 3M38 111l4 -2M38 111l1 4M40 112l5 -3M40 112l1 5M42 113l5 -3M42 113l2 5M43 114l7 -4M43 114l1 8M45 115l3 -2M45 115l0 4M47 115l4 -2M47 115l1 5M49 116l3 -2M49 116l0 3M51 117l1 -0M51 117l0 1" stroke="rgb(207,207,207)" stroke-width="1.3" stroke-opacity="0.77"/><path d="M219 105L242 108M221 106l3 -3M221 106l2 4M223 106l4 -4M223 106l2 5M225 106l3 -4M225 106l2 4M227 106l5 -6M227 106l4 7M230 106l3 -4M230 106l3 4M232 107l4 -6M232 107l4 6M234 107l2 -3M234 107l2 3M236 107l2 -2M236 107l2 3M238 107l2 -3M238 107l2 3M240 107l0 -0M240 107l0 0" stroke="rgb(199,199,199)" stroke-width="1.6" stroke-opacity="0.81"/><path d="M183 156L165 121M182 154l-5 -0M182 154l2 -4M181 153l-7 -0M181 153l3 -6M180 151l-7 -1M180 151l3 -6M179 149l-13 -2M179 149l8 -10M178 147l-8 -3M178 147l3 -8M177 145l-15 -2M177 145l5 -14M176 143l-8 -1M176 143l4 -7M175 142l-16 -2M175 142l9 -13M175 140l-9 0M175 140l5 -8M174 138l-8 -1M174 138l3 -8M173 136l-13 -0M173 136l5 -12M172 134l-14 -2M172 134l8 -12M171 132l-10 -1M171 132l4 -9M170 130l-7 -1M170 130l3 -7M169 129l-5 -1M169 129l2 -5M168 127l-5 -1M168 127l2 -4M167 125l-2 -0M167 125l1 -1M166 123l-0 -0M166 123l0 -0" stroke="rgb(151,151,151)" stroke-width="1.5" stroke-opacity="0.80"/><path d="M168 146L179 126M169 144l-2 -3M169 144l3 -0M170 142l-1 -4M170 142l4 -1M171 140l-2 -4M171 140l4 -0M172 138l-4 -6M172 138l6 -2M173 136l-2 -5M173 136l6 -1M174 134l-2 -4M174 134l4 -1M175 132l-1 -3M175 132l3 -1M176 130l-1 -3M176 130l3 -0M177 128l-0 -1M177 128l1 -0" stroke="rgb(173,173,173)" stroke-width="1.3" stroke-opacity="0.60"/><path d="M99 164L93 149M98 162l-3 -1M98 162l1 -3M97 161l-4 -0M97 161l2 -4M97 159l-7 -1M97 159l3 -6M96 157l-4 -1M96 157l2 -4M95 155l-4 -1M95 155l2 -3M94 153l-3 -0M94 153l1 -3M93 151l-2 -0M93 151l1 -1" stroke="rgb(205,205,205)" stroke-width="1.4" stroke-opacity="0.81"/><path d="M225 104L237 131M225 105l4 1M225 105l-2 3M226 107l5 0M226 107l-2 4M227 109l5 2M227 109l-2 4M228 111l10 3M228 111l-4 9M229 113l7 1M229 113l-4 6M230 115l11 4M230 115l-7 9M231 117l6 -0M231 117l-3 5M231 119l5 0M231 119l-3 4M232 121l10 3M232 121l-6 8M233 123l6 2M233 123l-3 6M234 125l6 1M234 125l-4 5M235 127l3 1M235 127l-1 3M236 129l0 0M236 129l-0 0" stroke="rgb(147,147,147)" stroke-width="1.2" stroke-opacity="0.60"/><path d="M287 121L258 99M286 120l-4 2M286 120l0 -5M284 118l-4 2M284 118l0 -4M282 117l-5 3M282 117l-1 -5M281 116l-8 4M281 116l1 -9M279 115l-9 5M279 115l0 -11M277 113l-10 1M277 113l0 -10M276 112l-13 4M276 112l-2 -13M274 111l-13 2M274 111l-2 -13M273 110l-13 3M273 110l3 -14M271 109l-7 2M271 109l-1 -7M269 107l-7 1M269 107l-0 -7M268 106l-6 1M268 106l1 -6M266 105l-9 3M266 105l1 -10M264 104l-7 4M264 104l1 -7M263 103l-4 1M263 103l-1 -4M261 101l-2 1M261 101l0 -2M259 100l-0 0M259 100l0 -0" stroke="rgb(175,175,175)" stroke-width="1.6" stroke-opacity="0.68"/><path d="M250 -29L250 2M250 -27l4 2M250 -27l-3 3M250 -25l4 2M250 -25l-4 3M250 -23l8 3M250 -23l-6 6M250 -21l6 3M250 -21l-5 4M250 -19l6 4M250 -19l-5 5M250 -16l7 6M250 -16l-8 5M250 -14l8 4M250 -14l-7 6M250 -12l10 7M250 -12l-11 5M250 -10l8 3M250 -10l-7 5M250 -8l7 4M250 -8l-7 4M250 -6l4 4M250 -6l-4 4M250 -4l6 5M250 -4l-6 4M250 -2l2 2M250 -2l-3 1M250 -0l0 0M250 -0l-0 0" stroke="rgb(231,231,231)" stroke-width="1.9" stroke-opacity="0.78"/><path d="M286 7L285 27M286 9l2 2M286 9l-3 2M286 11l3 2M286 11l-3 3M286 13l6 3M286 13l-6 3M285 15l4 4M285 15l-5 2M285 17l7 7M285 17l-7 7M285 19l7 5M285 19l-6 6M285 21l6 5M285 21l-5 5M285 23l2 2M285 23l-3 1M285 25l1 0M285 25l-1 0" stroke="rgb(196,196,196)" stroke-width="1.6" stroke-opacity="0.91"/><path d="M-19 173L-20 135M-19 171l-4 -3M-19 171l5 -3M-20 169l-5 -5M-20 169l5 -4M-20 167l-9 -5M-20 167l9 -6M-20 165l-9 -4M-20 165l7 -7M-20 163l-6 -4M-20 163l6 -5M-20 161l-10 -5M-20 161l8 -8M-20 159l-13 -7M-20 159l10 -10M-20 157l-12 -5M-20 157l9 -9M-20 155l-8 -6M-20 155l7 -7M-20 153l-8 -7M-20 153l9 -6M-20 151l-14 -7M-20 151l12 -10M-20 149l-9 -5M-20 149l9 -5M-20 147l-8 -6M-20 147l9 -5M-20 145l-9 -9M-20 145l9 -9M-20 143l-7 -6M-20 143l7 -6M-20 141l-3 -2M-20 141l3 -2M-20 139l-2 -2M-20 139l2 -1M-20 137l-0 -0M-20 137l0 -0" stroke="rgb(212,212,212)" stroke-width="1.6" stroke-opacity="0.65"/><path d="M20 179L26 148M20 177l-3 -3M20 177l4 -2M21 175l-3 -5M21 175l6 -2M21 173l-6 -5M21 173l7 -4M21 171l-7 -8M21 171l10 -4M22 169l-7 -8M22 169l10 -2M22 167l-5 -4M22 167l6 -4M23 165l-5 -3M23 165l5 -3M23 163l-7 -8M23 163l9 -5M23 161l-4 -4M23 161l5 -3M24 159l-5 -5M24 159l6 -3M24 157l-4 -5M24 157l6 -2M25 154l-2 -2M25 154l3 -1M25 152l-2 -2M25 152l3 -1M25 150l-0 -0M25 150l0 -0" stroke="rgb(226,226,226)" stroke-width="1.4" stroke-opacity="0.76"/><path d="M41 153L31 181M40 155l2 2M40 155l-3 1M39 157l2 5M39 157l-5 3M39 159l6 6M39 159l-8 4M38 161l4 5M38 161l-6 1M37 163l3 6M37 163l-6 2M37 165l6 8M37 165l-9 5M36 167l4 6M36 167l-7 3M35 169l7 7M35 169l-9 3M35 171l6 6M35 171l-8 3M34 173l5 6M34 173l-8 1M33 175l3 3M33 175l-3 1M33 177l1 2M33 177l-2 1M32 179l0 0M32 179l-0 0" stroke="rgb(202,202,202)" stroke-width="1.6" stroke-opacity="0.91"/><path d="M24 151L5 153M22 151l-1 2M22 151l-1 -1M20 152l-3 4M20 152l-4 -4M18 152l-2 3M18 152l-2 -3M16 152l-2 5M16 152l-3 -4M14 152l-2 3M14 152l-2 -3M12 152l-1 2M12 152l-2 -2M10 153l-2 3M10 153l-3 -3M7 153l-0 1M7 153l-1 -1" stroke="rgb(189,189,189)" stroke-width="1.9" stroke-opacity="0.62"/><path d="M144 117L145 89M144 115l-3 -2M144 115l3 -3M145 113l-6 -3M145 113l6 -3M145 111l-5 -2M145 111l4 -3M145 109l-6 -3M145 109l5 -5M145 107l-10 -6M145 107l9 -8M145 105l-5 -3M145 105l4 -4M145 103l-8 -4M145 103l8 -4M145 101l-8 -6M145 101l9 -5M145 99l-6 -7M145 99l7 -6M145 97l-6 -5M145 97l6 -4M145 95l-3 -2M145 95l4 -2M145 93l-3 -3M145 93l4 -1M145 91l-0 -0M145 91l0 -0" stroke="rgb(183,183,183)" stroke-width="1.4" stroke-opacity="0.75"/><path d="M105 153L110 190M105 155l5 3M105 155l-3 4M105 158l8 3M105 158l-6 7M106 160l10 6M106 160l-10 6M106 162l12 8M106 162l-12 8M106 164l12 8M106 164l-9 12M106 166l11 8M106 166l-9 10M107 168l18 6M107 168l-11 15M107 170l10 8M107 170l-7 11M107 172l12 7M107 172l-10 9M108 174l15 7M108 174l-12 10M108 176l8 6M108 176l-8 6M108 178l6 5M108 178l-5 6M109 180l7 4M109 180l-7 5M109 182l10 4M109 182l-8 8M109 184l4 2M109 184l-3 3M110 186l3 2M110 186l-2 3M110 188l0 0M110 188l-0 0" stroke="rgb(194,194,194)" stroke-width="1.4" stroke-opacity="0.81"/><path d="M157 130L162 152M157 132l2 1M157 132l-2 1M158 134l4 1M158 134l-3 3M158 136l7 3M158 136l-4 6M159 138l5 3M159 138l-5 4M159 140l3 2M159 140l-3 2M160 142l5 2M160 142l-4 3M160 144l6 2M160 144l-3 5M161 146l5 2M161 146l-4 3M161 148l2 1M161 148l-2 2M162 150l0 0M162 150l-0 0" stroke="rgb(173,173,173)" stroke-width="1.3" stroke-opacity="0.78"/><path d="M33 111L18 109M31 111l-2 2M31 111l-1 -2M29 111l-5 3M29 111l-2 -5M27 111l-2 3M27 111l-1 -3M25 110l-5 4M25 110l-4 -5M23 110l-3 4M23 110l-2 -5M20 110l-1 2M20 110l-1 -2" stroke="rgb(178,178,178)" stroke-width="1.9" stroke-opacity="0.77"/><path d="M274 -33L284 4M275 -31l4 1M275 -31l-3 3M275 -29l8 2M275 -29l-6 6M276 -27l9 5M276 -27l-8 7M276 -25l12 5M276 -25l-8 10M277 -24l9 1M277 -24l-7 6M277 -22l9 5M277 -22l-7 8M278 -20l14 7M278 -20l-11 11M278 -18l18 3M278 -18l-10 15M279 -16l9 2M279 -16l-7 6M279 -14l9 3M279 -14l-6 7M280 -12l11 6M280 -12l-9 9M280 -10l10 3M280 -10l-5 9M281 -8l8 3M281 -8l-6 6M281 -6l10 4M281 -6l-6 9M282 -4l9 3M282 -4l-5 9M282 -2l6 2M282 -2l-5 5M283 -0l2 1M283 -0l-1 2M283 2l0 0M283 2l-0 0" stroke="rgb(214,214,214)" stroke-width="1.9" stroke-opacity="0.59"/><path d="M12 209L1 220M10 210l1 4M10 210l-4 -1M9 211l2 5M9 211l-5 -1M8 213l0 4M8 213l-4 0M6 214l0 6M6 214l-6 -0M5 216l1 4M5 216l-4 -1M3 217l1 2M3 217l-2 -0M2 219l1 2M2 219l-2 -0" stroke="rgb(187,187,187)" stroke-width="2.0" stroke-opacity="0.60"/><path d="M3 49L-4 73M3 51l3 5M3 51l-5 2M2 53l3 3M2 53l-4 2M2 55l5 8M2 55l-9 4M1 57l7 8M1 57l-10 4M0 59l4 6M0 59l-8 2M-0 61l3 5M-0 61l-5 2M-1 63l5 4M-1 63l-6 3M-1 65l3 4M-1 65l-5 1M-2 67l3 6M-2 67l-6 1M-3 69l3 4M-3 69l-4 1M-3 71l0 0M-3 71l-0 0" stroke="rgb(186,186,186)" stroke-width="1.3" stroke-opacity="0.75"/></g>
<text x="10.4" y="27.9" fill="#fff" stroke="#fff" stroke-width="0.35" font-size="18.5" textLength="93.9" lengthAdjust="spacingAndGlyphs" style="font-family:'Liberation Sans',sans-serif">(b) <tspan font-style="italic">B</tspan> = 0 T</text>
<g fill="#E6E6E6" font-size="7.2" opacity="0.9" style="font-family:'Liberation Sans',sans-serif"><text x="5.9" y="192.3" textLength="7" lengthAdjust="spacingAndGlyphs">SEI</text><text x="25.9" y="192.3" textLength="16" lengthAdjust="spacingAndGlyphs">20kV</text><text x="57.9" y="192.3" textLength="22" lengthAdjust="spacingAndGlyphs">WD27mm</text><text x="99.9" y="192.3" textLength="18.5" lengthAdjust="spacingAndGlyphs">SS50</text><text x="152.9" y="192.9" textLength="20" lengthAdjust="spacingAndGlyphs">x1,500</text><text x="186.8" y="192.9" textLength="20.9" lengthAdjust="spacingAndGlyphs">10µm</text><text x="5.9" y="200.9" textLength="22" lengthAdjust="spacingAndGlyphs">Sample</text><text x="191.7" y="200.9" textLength="15" lengthAdjust="spacingAndGlyphs">0000</text><text x="227.6" y="200.9" textLength="40" lengthAdjust="spacingAndGlyphs">23 Dec 2015</text></g>
<text x="208.7" y="182.2" fill="#fff" stroke="#fff" stroke-width="0.3" font-size="16.5" textLength="50.5" lengthAdjust="spacingAndGlyphs" style="font-family:'Liberation Sans',sans-serif">10 µm</text>
<rect x="221.5" y="191.1" width="31.5" height="2.4" fill="#fff"/>
</svg>
</body></html>
